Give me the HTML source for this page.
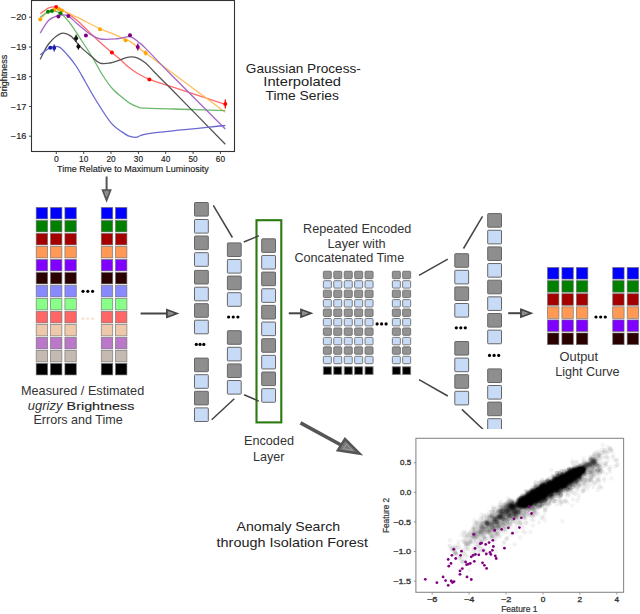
<!DOCTYPE html>
<html><head><meta charset="utf-8"><style>
html,body{margin:0;padding:0;background:#fff;width:640px;height:614px;overflow:hidden}
svg{display:block;font-family:"Liberation Sans", sans-serif}
.sc circle{r:2.3px}
</style></head><body>
<svg width="640" height="614" viewBox="0 0 640 614">
<rect width="640" height="614" fill="#fff"/>
<g id="plot1">
<rect x="31.5" y="0.5" width="203" height="151" fill="none" stroke="#333" stroke-width="1.1"/>
<line x1="29" y1="17.2" x2="31.5" y2="17.2" stroke="#333" stroke-width="0.9"/>
<text x="10.8" y="20.3" font-size="8.50" fill="#222" text-anchor="start" textLength="15.6" lengthAdjust="spacingAndGlyphs" stroke="#222" stroke-width="0.15">−20</text>
<line x1="29" y1="47.0" x2="31.5" y2="47.0" stroke="#333" stroke-width="0.9"/>
<text x="10.8" y="50.1" font-size="8.50" fill="#222" text-anchor="start" textLength="15.6" lengthAdjust="spacingAndGlyphs" stroke="#222" stroke-width="0.15">−19</text>
<line x1="29" y1="76.7" x2="31.5" y2="76.7" stroke="#333" stroke-width="0.9"/>
<text x="10.8" y="79.8" font-size="8.50" fill="#222" text-anchor="start" textLength="15.6" lengthAdjust="spacingAndGlyphs" stroke="#222" stroke-width="0.15">−18</text>
<line x1="29" y1="106.5" x2="31.5" y2="106.5" stroke="#333" stroke-width="0.9"/>
<text x="10.8" y="109.5" font-size="8.50" fill="#222" text-anchor="start" textLength="15.6" lengthAdjust="spacingAndGlyphs" stroke="#222" stroke-width="0.15">−17</text>
<line x1="29" y1="136.2" x2="31.5" y2="136.2" stroke="#333" stroke-width="0.9"/>
<text x="10.8" y="139.3" font-size="8.50" fill="#222" text-anchor="start" textLength="15.6" lengthAdjust="spacingAndGlyphs" stroke="#222" stroke-width="0.15">−16</text>
<line x1="56.3" y1="151.5" x2="56.3" y2="154" stroke="#333" stroke-width="0.9"/>
<text x="53.9" y="162.1" font-size="8.30" fill="#222" text-anchor="start" textLength="4.8" lengthAdjust="spacingAndGlyphs" stroke="#222" stroke-width="0.15">0</text>
<line x1="83.7" y1="151.5" x2="83.7" y2="154" stroke="#333" stroke-width="0.9"/>
<text x="79.1" y="162.1" font-size="8.30" fill="#222" text-anchor="start" textLength="9.2" lengthAdjust="spacingAndGlyphs" stroke="#222" stroke-width="0.15">10</text>
<line x1="111.0" y1="151.5" x2="111.0" y2="154" stroke="#333" stroke-width="0.9"/>
<text x="106.4" y="162.1" font-size="8.30" fill="#222" text-anchor="start" textLength="9.2" lengthAdjust="spacingAndGlyphs" stroke="#222" stroke-width="0.15">20</text>
<line x1="138.4" y1="151.5" x2="138.4" y2="154" stroke="#333" stroke-width="0.9"/>
<text x="133.8" y="162.1" font-size="8.30" fill="#222" text-anchor="start" textLength="9.2" lengthAdjust="spacingAndGlyphs" stroke="#222" stroke-width="0.15">30</text>
<line x1="165.7" y1="151.5" x2="165.7" y2="154" stroke="#333" stroke-width="0.9"/>
<text x="161.1" y="162.1" font-size="8.30" fill="#222" text-anchor="start" textLength="9.2" lengthAdjust="spacingAndGlyphs" stroke="#222" stroke-width="0.15">40</text>
<line x1="193.1" y1="151.5" x2="193.1" y2="154" stroke="#333" stroke-width="0.9"/>
<text x="188.5" y="162.1" font-size="8.30" fill="#222" text-anchor="start" textLength="9.2" lengthAdjust="spacingAndGlyphs" stroke="#222" stroke-width="0.15">50</text>
<line x1="220.4" y1="151.5" x2="220.4" y2="154" stroke="#333" stroke-width="0.9"/>
<text x="215.8" y="162.1" font-size="8.30" fill="#222" text-anchor="start" textLength="9.2" lengthAdjust="spacingAndGlyphs" stroke="#222" stroke-width="0.15">60</text>
<text x="57.0" y="172.2" font-size="8.30" fill="#222" text-anchor="start" textLength="151.8" lengthAdjust="spacingAndGlyphs" stroke="#222" stroke-width="0.15">Time Relative to Maximum Luminosity</text>
<text transform="translate(7.2 76) rotate(-90)" font-size="8.4" fill="#222" stroke="#222" stroke-width="0.15" text-anchor="middle" textLength="42.3" lengthAdjust="spacingAndGlyphs">Brightness</text>
<clipPath id="c1"><rect x="32" y="1" width="202" height="150"/></clipPath>
<g clip-path="url(#c1)" fill="none" stroke-width="1.3" stroke-linejoin="round">
<path d="M40.20 13.75 C41.62 12.76 46.15 8.93 48.75 7.80 C51.35 6.67 53.46 6.60 55.80 7.00 C58.14 7.40 59.28 7.98 62.80 10.20 C66.32 12.42 71.12 15.33 76.90 20.30 C82.68 25.27 91.67 34.62 97.50 40.00 C103.33 45.38 108.25 49.48 111.90 52.60 C115.55 55.73 116.59 56.32 119.40 58.75 C122.21 61.18 125.63 64.70 128.75 67.20 C131.87 69.70 134.66 71.72 138.10 73.75 C141.54 75.78 144.08 77.34 149.40 79.40 C154.72 81.46 157.35 81.93 170.00 86.10 C182.65 90.27 216.08 101.35 225.30 104.40" stroke="#ff6a6a"/>
<path d="M40.20 19.50 C41.37 18.28 44.73 13.88 47.20 12.20 C49.67 10.52 52.40 9.67 55.00 9.40 C57.60 9.13 59.15 9.30 62.80 10.60 C66.45 11.90 70.65 14.15 76.90 17.20 C83.15 20.25 94.05 26.03 100.30 28.90 C106.55 31.77 110.10 32.55 114.40 34.40 C118.70 36.25 123.50 38.83 126.10 40.00 C128.70 41.17 126.75 39.22 130.00 41.40 C133.25 43.58 139.22 48.33 145.60 53.10 C151.98 57.87 155.02 60.15 168.30 70.00 C181.58 79.85 215.80 105.17 225.30 112.20" stroke="#ffbf5a"/>
<path d="M40.20 17.20 C41.50 16.28 45.92 12.80 48.00 11.70 C50.08 10.60 50.62 10.33 52.70 10.60 C54.78 10.87 57.78 11.42 60.50 13.30 C63.22 15.18 65.54 17.45 69.00 21.90 C72.46 26.35 77.33 34.07 81.25 40.00 C85.17 45.93 88.96 51.67 92.50 57.50 C96.04 63.33 99.17 69.79 102.50 75.00 C105.83 80.21 108.96 84.79 112.50 88.75 C116.04 92.71 120.83 96.31 123.75 98.75 C126.67 101.19 127.66 102.04 130.00 103.40 C132.34 104.76 135.20 106.10 137.80 106.90 C140.40 107.70 136.48 107.77 145.60 108.20 C154.72 108.63 179.22 109.10 192.50 109.50 C205.78 109.90 219.83 110.42 225.30 110.60" stroke="#6cb86c"/>
<path d="M40.20 33.10 C41.62 30.97 45.77 23.22 48.75 20.30 C51.73 17.38 54.98 16.38 58.10 15.60 C61.23 14.82 64.37 14.30 67.50 15.60 C70.63 16.90 73.25 20.40 76.90 23.40 C80.55 26.40 85.50 31.00 89.40 33.60 C93.30 36.20 95.62 38.14 100.30 39.00 C104.98 39.86 112.55 39.13 117.50 38.75 C122.45 38.37 126.48 36.12 130.00 36.70 C133.52 37.28 136.00 40.25 138.60 42.20 C141.20 44.15 140.13 42.93 145.60 48.40 C151.07 53.87 158.12 61.57 171.40 75.00 C184.68 88.43 216.32 120.00 225.30 129.00" stroke="#a566c4"/>
<path d="M40.20 59.40 C41.62 56.79 45.24 48.08 48.75 43.75 C52.26 39.42 57.61 34.71 61.25 33.40 C64.89 32.09 67.38 33.65 70.60 35.90 C73.82 38.15 77.16 43.51 80.60 46.90 C84.04 50.29 88.02 53.55 91.25 56.25 C94.48 58.95 96.88 61.98 100.00 63.10 C103.12 64.22 106.77 63.49 110.00 63.00 C113.23 62.51 116.28 61.14 119.40 60.15 C122.53 59.16 125.78 57.44 128.75 57.05 C131.72 56.66 134.39 56.81 137.20 57.80 C140.01 58.79 142.63 60.50 145.60 63.00 C148.57 65.50 150.93 68.67 155.00 72.80 C159.07 76.93 158.28 75.90 170.00 87.80 C181.72 99.70 216.08 134.80 225.30 144.20" stroke="#555555"/>
<path d="M40.20 54.70 C41.88 53.53 47.18 49.00 50.30 47.70 C53.42 46.40 56.03 45.68 58.90 46.90 C61.77 48.12 64.61 51.77 67.50 55.00 C70.39 58.23 73.33 61.88 76.25 66.25 C79.17 70.62 81.88 75.83 85.00 81.25 C88.12 86.67 90.62 91.78 95.00 98.75 C99.38 105.72 106.20 117.21 111.25 123.10 C116.30 128.99 122.17 131.88 125.30 134.10 C128.43 136.32 128.05 135.88 130.00 136.40 C131.95 136.92 133.62 137.72 137.00 137.20 C140.38 136.68 135.58 135.25 150.30 133.30 C165.02 131.35 212.80 126.80 225.30 125.50" stroke="#6a6ad0"/>
</g>
<circle cx="56.2" cy="7.0" r="2.0" fill="#ff0000"/>
<circle cx="111.9" cy="52.5" r="2.0" fill="#ff0000"/>
<circle cx="149.4" cy="79.4" r="2.0" fill="#ff0000"/>
<line x1="225.3" y1="99.5" x2="225.3" y2="108.5" stroke="#ff0000" stroke-width="1.3"/>
<circle cx="225.3" cy="104.0" r="2.0" fill="#ff0000"/>
<circle cx="40.2" cy="19.5" r="2.0" fill="#ffa500"/>
<circle cx="54.2" cy="9.7" r="2.0" fill="#ffa500"/>
<circle cx="58.9" cy="9.1" r="2.0" fill="#ffa500"/>
<circle cx="62.0" cy="10.6" r="2.0" fill="#ffa500"/>
<circle cx="100.0" cy="29.2" r="2.0" fill="#ffa500"/>
<circle cx="125.6" cy="40.3" r="2.0" fill="#ffa500"/>
<line x1="145.6" y1="50.6" x2="145.6" y2="55.6" stroke="#ffa500" stroke-width="1.3"/>
<circle cx="145.6" cy="53.1" r="2.0" fill="#ffa500"/>
<circle cx="48.0" cy="11.7" r="2.0" fill="#008000"/>
<circle cx="51.9" cy="10.9" r="2.0" fill="#008000"/>
<circle cx="60.5" cy="13.3" r="2.0" fill="#008000"/>
<circle cx="58.4" cy="16.4" r="2.0" fill="#800080"/>
<circle cx="68.3" cy="15.9" r="2.0" fill="#800080"/>
<circle cx="85.9" cy="35.6" r="2.0" fill="#800080"/>
<line x1="130.0" y1="33.7" x2="130.0" y2="36.7" stroke="#800080" stroke-width="1.3"/>
<circle cx="130.0" cy="35.2" r="2.0" fill="#800080"/>
<line x1="137.8" y1="43.4" x2="137.8" y2="50.4" stroke="#800080" stroke-width="1.3"/>
<circle cx="137.8" cy="46.9" r="2.0" fill="#800080"/>
<line x1="76.1" y1="34.8" x2="76.1" y2="41.8" stroke="#111111" stroke-width="1.3"/>
<circle cx="76.1" cy="38.3" r="2.0" fill="#111111"/>
<line x1="78.4" y1="43.6" x2="78.4" y2="49.6" stroke="#111111" stroke-width="1.3"/>
<circle cx="78.4" cy="46.6" r="2.0" fill="#111111"/>
<circle cx="50.3" cy="47.7" r="2.0" fill="#1a1ab0"/>
<line x1="54.2" y1="44.6" x2="54.2" y2="51.6" stroke="#1a1ab0" stroke-width="1.3"/>
<circle cx="54.2" cy="48.1" r="2.0" fill="#1a1ab0"/>
</g>
<line x1="106.6" y1="176.5" x2="106.6" y2="190" stroke="#555" stroke-width="2"/>
<path d="M102.60 190.00 L110.60 190.00 L106.60 200.30 Z" fill="#7a7a7a" stroke="#555" stroke-width="1.70" stroke-linejoin="miter"/>
<path d="M104.92 191.99 L108.28 191.99 L106.60 196.32 Z" fill="none" stroke="#b0b0b0" stroke-width="0.6"/>
<line x1="140.6" y1="313.5" x2="167.9" y2="313.5" stroke="#444" stroke-width="2.0"/>
<path d="M166.90 309.70 L177.00 313.50 L166.90 317.30 Z" fill="#7a7a7a" stroke="#444" stroke-width="1.70" stroke-linejoin="miter"/>
<path d="M168.85 311.90 L173.09 313.50 L168.85 315.10 Z" fill="none" stroke="#b0b0b0" stroke-width="0.6"/>
<line x1="288.8" y1="313.3" x2="302.0" y2="313.3" stroke="#444" stroke-width="2.0"/>
<path d="M301.00 309.50 L311.10 313.30 L301.00 317.10 Z" fill="#7a7a7a" stroke="#444" stroke-width="1.70" stroke-linejoin="miter"/>
<path d="M302.95 311.70 L307.19 313.30 L302.95 314.90 Z" fill="none" stroke="#b0b0b0" stroke-width="0.6"/>
<line x1="508.2" y1="313.2" x2="521.9" y2="313.2" stroke="#444" stroke-width="2.0"/>
<path d="M520.90 309.40 L531.10 313.20 L520.90 317.00 Z" fill="#7a7a7a" stroke="#444" stroke-width="1.70" stroke-linejoin="miter"/>
<path d="M522.87 311.60 L527.16 313.20 L522.87 314.80 Z" fill="none" stroke="#b0b0b0" stroke-width="0.6"/>
<line x1="300.5" y1="422.8" x2="341" y2="445" stroke="#555" stroke-width="3.6"/>
<path d="M345.00 439.00 L337.80 450.40 L359.80 453.80 Z" fill="#7a7a7a" stroke="#555" stroke-width="2.40" stroke-linejoin="miter"/>
<path d="M346.47 444.07 L343.45 448.85 L352.69 450.28 Z" fill="none" stroke="#b0b0b0" stroke-width="0.6"/>
<rect x="36.20" y="207.50" width="11.40" height="11.40" fill="#0000ff" stroke="#6a6a6a" stroke-opacity="0.75" stroke-width="0.8"/>
<rect x="36.20" y="220.50" width="11.40" height="11.40" fill="#007f00" stroke="#6a6a6a" stroke-opacity="0.75" stroke-width="0.8"/>
<rect x="36.20" y="233.50" width="11.40" height="11.40" fill="#a40000" stroke="#6a6a6a" stroke-opacity="0.75" stroke-width="0.8"/>
<rect x="36.20" y="246.50" width="11.40" height="11.40" fill="#ff9955" stroke="#6a6a6a" stroke-opacity="0.75" stroke-width="0.8"/>
<rect x="36.20" y="259.50" width="11.40" height="11.40" fill="#8000ff" stroke="#6a6a6a" stroke-opacity="0.75" stroke-width="0.8"/>
<rect x="36.20" y="272.50" width="11.40" height="11.40" fill="#2b0000" stroke="#6a6a6a" stroke-opacity="0.75" stroke-width="0.8"/>
<rect x="36.20" y="285.50" width="11.40" height="11.40" fill="#8888ff" stroke="#6a6a6a" stroke-opacity="0.75" stroke-width="0.8"/>
<rect x="36.20" y="298.50" width="11.40" height="11.40" fill="#88ff88" stroke="#6a6a6a" stroke-opacity="0.75" stroke-width="0.8"/>
<rect x="36.20" y="311.50" width="11.40" height="11.40" fill="#ff6666" stroke="#6a6a6a" stroke-opacity="0.75" stroke-width="0.8"/>
<rect x="36.20" y="324.50" width="11.40" height="11.40" fill="#eec8aa" stroke="#6a6a6a" stroke-opacity="0.75" stroke-width="0.8"/>
<rect x="36.20" y="337.50" width="11.40" height="11.40" fill="#bb77c8" stroke="#6a6a6a" stroke-opacity="0.75" stroke-width="0.8"/>
<rect x="36.20" y="350.50" width="11.40" height="11.40" fill="#c4bab2" stroke="#6a6a6a" stroke-opacity="0.75" stroke-width="0.8"/>
<rect x="36.20" y="363.50" width="11.40" height="11.40" fill="#000000" stroke="#6a6a6a" stroke-opacity="0.75" stroke-width="0.8"/>
<rect x="50.50" y="207.50" width="11.40" height="11.40" fill="#0000ff" stroke="#6a6a6a" stroke-opacity="0.75" stroke-width="0.8"/>
<rect x="50.50" y="220.50" width="11.40" height="11.40" fill="#007f00" stroke="#6a6a6a" stroke-opacity="0.75" stroke-width="0.8"/>
<rect x="50.50" y="233.50" width="11.40" height="11.40" fill="#a40000" stroke="#6a6a6a" stroke-opacity="0.75" stroke-width="0.8"/>
<rect x="50.50" y="246.50" width="11.40" height="11.40" fill="#ff9955" stroke="#6a6a6a" stroke-opacity="0.75" stroke-width="0.8"/>
<rect x="50.50" y="259.50" width="11.40" height="11.40" fill="#8000ff" stroke="#6a6a6a" stroke-opacity="0.75" stroke-width="0.8"/>
<rect x="50.50" y="272.50" width="11.40" height="11.40" fill="#2b0000" stroke="#6a6a6a" stroke-opacity="0.75" stroke-width="0.8"/>
<rect x="50.50" y="285.50" width="11.40" height="11.40" fill="#8888ff" stroke="#6a6a6a" stroke-opacity="0.75" stroke-width="0.8"/>
<rect x="50.50" y="298.50" width="11.40" height="11.40" fill="#88ff88" stroke="#6a6a6a" stroke-opacity="0.75" stroke-width="0.8"/>
<rect x="50.50" y="311.50" width="11.40" height="11.40" fill="#ff6666" stroke="#6a6a6a" stroke-opacity="0.75" stroke-width="0.8"/>
<rect x="50.50" y="324.50" width="11.40" height="11.40" fill="#eec8aa" stroke="#6a6a6a" stroke-opacity="0.75" stroke-width="0.8"/>
<rect x="50.50" y="337.50" width="11.40" height="11.40" fill="#bb77c8" stroke="#6a6a6a" stroke-opacity="0.75" stroke-width="0.8"/>
<rect x="50.50" y="350.50" width="11.40" height="11.40" fill="#c4bab2" stroke="#6a6a6a" stroke-opacity="0.75" stroke-width="0.8"/>
<rect x="50.50" y="363.50" width="11.40" height="11.40" fill="#000000" stroke="#6a6a6a" stroke-opacity="0.75" stroke-width="0.8"/>
<rect x="64.90" y="207.50" width="11.40" height="11.40" fill="#0000ff" stroke="#6a6a6a" stroke-opacity="0.75" stroke-width="0.8"/>
<rect x="64.90" y="220.50" width="11.40" height="11.40" fill="#007f00" stroke="#6a6a6a" stroke-opacity="0.75" stroke-width="0.8"/>
<rect x="64.90" y="233.50" width="11.40" height="11.40" fill="#a40000" stroke="#6a6a6a" stroke-opacity="0.75" stroke-width="0.8"/>
<rect x="64.90" y="246.50" width="11.40" height="11.40" fill="#ff9955" stroke="#6a6a6a" stroke-opacity="0.75" stroke-width="0.8"/>
<rect x="64.90" y="259.50" width="11.40" height="11.40" fill="#8000ff" stroke="#6a6a6a" stroke-opacity="0.75" stroke-width="0.8"/>
<rect x="64.90" y="272.50" width="11.40" height="11.40" fill="#2b0000" stroke="#6a6a6a" stroke-opacity="0.75" stroke-width="0.8"/>
<rect x="64.90" y="285.50" width="11.40" height="11.40" fill="#8888ff" stroke="#6a6a6a" stroke-opacity="0.75" stroke-width="0.8"/>
<rect x="64.90" y="298.50" width="11.40" height="11.40" fill="#88ff88" stroke="#6a6a6a" stroke-opacity="0.75" stroke-width="0.8"/>
<rect x="64.90" y="311.50" width="11.40" height="11.40" fill="#ff6666" stroke="#6a6a6a" stroke-opacity="0.75" stroke-width="0.8"/>
<rect x="64.90" y="324.50" width="11.40" height="11.40" fill="#eec8aa" stroke="#6a6a6a" stroke-opacity="0.75" stroke-width="0.8"/>
<rect x="64.90" y="337.50" width="11.40" height="11.40" fill="#bb77c8" stroke="#6a6a6a" stroke-opacity="0.75" stroke-width="0.8"/>
<rect x="64.90" y="350.50" width="11.40" height="11.40" fill="#c4bab2" stroke="#6a6a6a" stroke-opacity="0.75" stroke-width="0.8"/>
<rect x="64.90" y="363.50" width="11.40" height="11.40" fill="#000000" stroke="#6a6a6a" stroke-opacity="0.75" stroke-width="0.8"/>
<rect x="101.30" y="207.50" width="11.40" height="11.40" fill="#0000ff" stroke="#6a6a6a" stroke-opacity="0.75" stroke-width="0.8"/>
<rect x="101.30" y="220.50" width="11.40" height="11.40" fill="#007f00" stroke="#6a6a6a" stroke-opacity="0.75" stroke-width="0.8"/>
<rect x="101.30" y="233.50" width="11.40" height="11.40" fill="#a40000" stroke="#6a6a6a" stroke-opacity="0.75" stroke-width="0.8"/>
<rect x="101.30" y="246.50" width="11.40" height="11.40" fill="#ff9955" stroke="#6a6a6a" stroke-opacity="0.75" stroke-width="0.8"/>
<rect x="101.30" y="259.50" width="11.40" height="11.40" fill="#8000ff" stroke="#6a6a6a" stroke-opacity="0.75" stroke-width="0.8"/>
<rect x="101.30" y="272.50" width="11.40" height="11.40" fill="#2b0000" stroke="#6a6a6a" stroke-opacity="0.75" stroke-width="0.8"/>
<rect x="101.30" y="285.50" width="11.40" height="11.40" fill="#8888ff" stroke="#6a6a6a" stroke-opacity="0.75" stroke-width="0.8"/>
<rect x="101.30" y="298.50" width="11.40" height="11.40" fill="#88ff88" stroke="#6a6a6a" stroke-opacity="0.75" stroke-width="0.8"/>
<rect x="101.30" y="311.50" width="11.40" height="11.40" fill="#ff6666" stroke="#6a6a6a" stroke-opacity="0.75" stroke-width="0.8"/>
<rect x="101.30" y="324.50" width="11.40" height="11.40" fill="#eec8aa" stroke="#6a6a6a" stroke-opacity="0.75" stroke-width="0.8"/>
<rect x="101.30" y="337.50" width="11.40" height="11.40" fill="#bb77c8" stroke="#6a6a6a" stroke-opacity="0.75" stroke-width="0.8"/>
<rect x="101.30" y="350.50" width="11.40" height="11.40" fill="#c4bab2" stroke="#6a6a6a" stroke-opacity="0.75" stroke-width="0.8"/>
<rect x="101.30" y="363.50" width="11.40" height="11.40" fill="#000000" stroke="#6a6a6a" stroke-opacity="0.75" stroke-width="0.8"/>
<rect x="115.50" y="207.50" width="11.40" height="11.40" fill="#0000ff" stroke="#6a6a6a" stroke-opacity="0.75" stroke-width="0.8"/>
<rect x="115.50" y="220.50" width="11.40" height="11.40" fill="#007f00" stroke="#6a6a6a" stroke-opacity="0.75" stroke-width="0.8"/>
<rect x="115.50" y="233.50" width="11.40" height="11.40" fill="#a40000" stroke="#6a6a6a" stroke-opacity="0.75" stroke-width="0.8"/>
<rect x="115.50" y="246.50" width="11.40" height="11.40" fill="#ff9955" stroke="#6a6a6a" stroke-opacity="0.75" stroke-width="0.8"/>
<rect x="115.50" y="259.50" width="11.40" height="11.40" fill="#8000ff" stroke="#6a6a6a" stroke-opacity="0.75" stroke-width="0.8"/>
<rect x="115.50" y="272.50" width="11.40" height="11.40" fill="#2b0000" stroke="#6a6a6a" stroke-opacity="0.75" stroke-width="0.8"/>
<rect x="115.50" y="285.50" width="11.40" height="11.40" fill="#8888ff" stroke="#6a6a6a" stroke-opacity="0.75" stroke-width="0.8"/>
<rect x="115.50" y="298.50" width="11.40" height="11.40" fill="#88ff88" stroke="#6a6a6a" stroke-opacity="0.75" stroke-width="0.8"/>
<rect x="115.50" y="311.50" width="11.40" height="11.40" fill="#ff6666" stroke="#6a6a6a" stroke-opacity="0.75" stroke-width="0.8"/>
<rect x="115.50" y="324.50" width="11.40" height="11.40" fill="#eec8aa" stroke="#6a6a6a" stroke-opacity="0.75" stroke-width="0.8"/>
<rect x="115.50" y="337.50" width="11.40" height="11.40" fill="#bb77c8" stroke="#6a6a6a" stroke-opacity="0.75" stroke-width="0.8"/>
<rect x="115.50" y="350.50" width="11.40" height="11.40" fill="#c4bab2" stroke="#6a6a6a" stroke-opacity="0.75" stroke-width="0.8"/>
<rect x="115.50" y="363.50" width="11.40" height="11.40" fill="#000000" stroke="#6a6a6a" stroke-opacity="0.75" stroke-width="0.8"/>
<circle cx="83.00" cy="291.30" r="1.60" fill="#000"/>
<circle cx="87.80" cy="291.30" r="1.60" fill="#000"/>
<circle cx="92.60" cy="291.30" r="1.60" fill="#000"/>
<circle cx="83.00" cy="318.50" r="1.60" fill="#fce6d6"/>
<circle cx="87.80" cy="318.50" r="1.60" fill="#fce6d6"/>
<circle cx="92.60" cy="318.50" r="1.60" fill="#fce6d6"/>
<text x="21.0" y="395.0" font-size="12.60" fill="#333" text-anchor="start" textLength="123.2" lengthAdjust="spacingAndGlyphs">Measured / Estimated</text>
<text x="27.8" y="410.0" font-size="12.6" fill="#333" font-style="italic" textLength="34.6" lengthAdjust="spacingAndGlyphs">ugrizy</text>
<text x="66.6" y="410.0" font-size="11.80" fill="#222" text-anchor="start" textLength="67.8" lengthAdjust="spacingAndGlyphs" stroke="#222" stroke-width="0.12">Brightness</text>
<text x="33.4" y="424.4" font-size="12.60" fill="#333" text-anchor="start" textLength="89.4" lengthAdjust="spacingAndGlyphs">Errors and Time</text>
<rect x="194.50" y="202.50" width="13.80" height="13.60" rx="0.7" fill="#8e8e8e" stroke="#666" stroke-width="1"/>
<rect x="194.50" y="219.50" width="13.80" height="13.60" rx="0.7" fill="#c8dbf6" stroke="#666" stroke-width="1"/>
<rect x="194.50" y="236.00" width="13.80" height="13.60" rx="0.7" fill="#8e8e8e" stroke="#666" stroke-width="1"/>
<rect x="194.50" y="252.70" width="13.80" height="13.60" rx="0.7" fill="#c8dbf6" stroke="#666" stroke-width="1"/>
<rect x="194.50" y="270.40" width="13.80" height="13.60" rx="0.7" fill="#8e8e8e" stroke="#666" stroke-width="1"/>
<rect x="194.50" y="287.20" width="13.80" height="13.60" rx="0.7" fill="#c8dbf6" stroke="#666" stroke-width="1"/>
<rect x="194.50" y="303.70" width="13.80" height="13.60" rx="0.7" fill="#8e8e8e" stroke="#666" stroke-width="1"/>
<rect x="194.50" y="320.20" width="13.80" height="13.60" rx="0.7" fill="#c8dbf6" stroke="#666" stroke-width="1"/>
<circle cx="196.30" cy="344.40" r="1.60" fill="#000"/>
<circle cx="200.05" cy="344.40" r="1.60" fill="#000"/>
<circle cx="203.80" cy="344.40" r="1.60" fill="#000"/>
<rect x="194.50" y="358.10" width="13.80" height="13.60" rx="0.7" fill="#8e8e8e" stroke="#666" stroke-width="1"/>
<rect x="194.50" y="374.70" width="13.80" height="13.60" rx="0.7" fill="#c8dbf6" stroke="#666" stroke-width="1"/>
<rect x="194.50" y="391.30" width="13.80" height="13.60" rx="0.7" fill="#8e8e8e" stroke="#666" stroke-width="1"/>
<rect x="194.50" y="407.90" width="13.80" height="13.60" rx="0.7" fill="#c8dbf6" stroke="#666" stroke-width="1"/>
<rect x="227.40" y="242.90" width="13.80" height="13.60" rx="0.7" fill="#8e8e8e" stroke="#666" stroke-width="1"/>
<rect x="227.40" y="259.50" width="13.80" height="13.60" rx="0.7" fill="#c8dbf6" stroke="#666" stroke-width="1"/>
<rect x="227.40" y="276.10" width="13.80" height="13.60" rx="0.7" fill="#8e8e8e" stroke="#666" stroke-width="1"/>
<rect x="227.40" y="292.70" width="13.80" height="13.60" rx="0.7" fill="#c8dbf6" stroke="#666" stroke-width="1"/>
<circle cx="228.60" cy="317.00" r="1.60" fill="#000"/>
<circle cx="233.25" cy="317.00" r="1.60" fill="#000"/>
<circle cx="237.90" cy="317.00" r="1.60" fill="#000"/>
<rect x="227.40" y="330.70" width="13.80" height="13.60" rx="0.7" fill="#8e8e8e" stroke="#666" stroke-width="1"/>
<rect x="227.40" y="347.30" width="13.80" height="13.60" rx="0.7" fill="#c8dbf6" stroke="#666" stroke-width="1"/>
<rect x="227.40" y="363.90" width="13.80" height="13.60" rx="0.7" fill="#8e8e8e" stroke="#666" stroke-width="1"/>
<rect x="227.40" y="380.50" width="13.80" height="13.60" rx="0.7" fill="#c8dbf6" stroke="#666" stroke-width="1"/>
<rect x="261.70" y="238.80" width="13.80" height="13.60" rx="0.7" fill="#8e8e8e" stroke="#666" stroke-width="1"/>
<rect x="261.70" y="255.45" width="13.80" height="13.60" rx="0.7" fill="#c8dbf6" stroke="#666" stroke-width="1"/>
<rect x="261.70" y="272.10" width="13.80" height="13.60" rx="0.7" fill="#8e8e8e" stroke="#666" stroke-width="1"/>
<rect x="261.70" y="288.75" width="13.80" height="13.60" rx="0.7" fill="#c8dbf6" stroke="#666" stroke-width="1"/>
<rect x="261.70" y="305.40" width="13.80" height="13.60" rx="0.7" fill="#8e8e8e" stroke="#666" stroke-width="1"/>
<rect x="261.70" y="322.05" width="13.80" height="13.60" rx="0.7" fill="#c8dbf6" stroke="#666" stroke-width="1"/>
<rect x="261.70" y="338.70" width="13.80" height="13.60" rx="0.7" fill="#8e8e8e" stroke="#666" stroke-width="1"/>
<rect x="261.70" y="355.35" width="13.80" height="13.60" rx="0.7" fill="#c8dbf6" stroke="#666" stroke-width="1"/>
<rect x="261.70" y="372.00" width="13.80" height="13.60" rx="0.7" fill="#8e8e8e" stroke="#666" stroke-width="1"/>
<rect x="261.70" y="388.65" width="13.80" height="13.60" rx="0.7" fill="#c8dbf6" stroke="#666" stroke-width="1"/>
<rect x="256.5" y="220.2" width="24.8" height="202.2" fill="none" stroke="#2a7a12" stroke-width="2.1"/>
<line x1="213.3" y1="205.3" x2="232.4" y2="237.5" stroke="#444" stroke-width="1.5"/>
<line x1="243.8" y1="242.0" x2="258.8" y2="235.8" stroke="#444" stroke-width="1.5"/>
<line x1="211.7" y1="419.7" x2="234.3" y2="398.8" stroke="#444" stroke-width="1.5"/>
<line x1="244.1" y1="394.8" x2="258.8" y2="401.1" stroke="#444" stroke-width="1.5"/>
<text x="269.0" y="444.6" font-size="12.60" fill="#333" text-anchor="middle" textLength="50.0" lengthAdjust="spacingAndGlyphs">Encoded</text>
<text x="268.7" y="460.6" font-size="12.60" fill="#333" text-anchor="middle" textLength="31.5" lengthAdjust="spacingAndGlyphs">Layer</text>
<rect x="323.35" y="271.25" width="8.0" height="7.4" rx="1" fill="#939393" stroke="#6e6e6e" stroke-width="0.9"/>
<rect x="323.35" y="280.70" width="8.0" height="7.4" rx="1" fill="#c8dbf6" stroke="#6e6e6e" stroke-width="0.9"/>
<rect x="323.35" y="290.15" width="8.0" height="7.4" rx="1" fill="#939393" stroke="#6e6e6e" stroke-width="0.9"/>
<rect x="323.35" y="299.60" width="8.0" height="7.4" rx="1" fill="#c8dbf6" stroke="#6e6e6e" stroke-width="0.9"/>
<rect x="323.35" y="309.05" width="8.0" height="7.4" rx="1" fill="#939393" stroke="#6e6e6e" stroke-width="0.9"/>
<rect x="323.35" y="318.50" width="8.0" height="7.4" rx="1" fill="#c8dbf6" stroke="#6e6e6e" stroke-width="0.9"/>
<rect x="323.35" y="327.95" width="8.0" height="7.4" rx="1" fill="#939393" stroke="#6e6e6e" stroke-width="0.9"/>
<rect x="323.35" y="337.40" width="8.0" height="7.4" rx="1" fill="#c8dbf6" stroke="#6e6e6e" stroke-width="0.9"/>
<rect x="323.35" y="346.85" width="8.0" height="7.4" rx="1" fill="#939393" stroke="#6e6e6e" stroke-width="0.9"/>
<rect x="323.35" y="356.30" width="8.0" height="7.4" rx="1" fill="#c8dbf6" stroke="#6e6e6e" stroke-width="0.9"/>
<rect x="323.35" y="366.80" width="8.0" height="7.6" fill="#000" stroke="#777" stroke-width="0.9"/>
<rect x="333.75" y="271.25" width="8.0" height="7.4" rx="1" fill="#939393" stroke="#6e6e6e" stroke-width="0.9"/>
<rect x="333.75" y="280.70" width="8.0" height="7.4" rx="1" fill="#c8dbf6" stroke="#6e6e6e" stroke-width="0.9"/>
<rect x="333.75" y="290.15" width="8.0" height="7.4" rx="1" fill="#939393" stroke="#6e6e6e" stroke-width="0.9"/>
<rect x="333.75" y="299.60" width="8.0" height="7.4" rx="1" fill="#c8dbf6" stroke="#6e6e6e" stroke-width="0.9"/>
<rect x="333.75" y="309.05" width="8.0" height="7.4" rx="1" fill="#939393" stroke="#6e6e6e" stroke-width="0.9"/>
<rect x="333.75" y="318.50" width="8.0" height="7.4" rx="1" fill="#c8dbf6" stroke="#6e6e6e" stroke-width="0.9"/>
<rect x="333.75" y="327.95" width="8.0" height="7.4" rx="1" fill="#939393" stroke="#6e6e6e" stroke-width="0.9"/>
<rect x="333.75" y="337.40" width="8.0" height="7.4" rx="1" fill="#c8dbf6" stroke="#6e6e6e" stroke-width="0.9"/>
<rect x="333.75" y="346.85" width="8.0" height="7.4" rx="1" fill="#939393" stroke="#6e6e6e" stroke-width="0.9"/>
<rect x="333.75" y="356.30" width="8.0" height="7.4" rx="1" fill="#c8dbf6" stroke="#6e6e6e" stroke-width="0.9"/>
<rect x="333.75" y="366.80" width="8.0" height="7.6" fill="#000" stroke="#777" stroke-width="0.9"/>
<rect x="344.25" y="271.25" width="8.0" height="7.4" rx="1" fill="#939393" stroke="#6e6e6e" stroke-width="0.9"/>
<rect x="344.25" y="280.70" width="8.0" height="7.4" rx="1" fill="#c8dbf6" stroke="#6e6e6e" stroke-width="0.9"/>
<rect x="344.25" y="290.15" width="8.0" height="7.4" rx="1" fill="#939393" stroke="#6e6e6e" stroke-width="0.9"/>
<rect x="344.25" y="299.60" width="8.0" height="7.4" rx="1" fill="#c8dbf6" stroke="#6e6e6e" stroke-width="0.9"/>
<rect x="344.25" y="309.05" width="8.0" height="7.4" rx="1" fill="#939393" stroke="#6e6e6e" stroke-width="0.9"/>
<rect x="344.25" y="318.50" width="8.0" height="7.4" rx="1" fill="#c8dbf6" stroke="#6e6e6e" stroke-width="0.9"/>
<rect x="344.25" y="327.95" width="8.0" height="7.4" rx="1" fill="#939393" stroke="#6e6e6e" stroke-width="0.9"/>
<rect x="344.25" y="337.40" width="8.0" height="7.4" rx="1" fill="#c8dbf6" stroke="#6e6e6e" stroke-width="0.9"/>
<rect x="344.25" y="346.85" width="8.0" height="7.4" rx="1" fill="#939393" stroke="#6e6e6e" stroke-width="0.9"/>
<rect x="344.25" y="356.30" width="8.0" height="7.4" rx="1" fill="#c8dbf6" stroke="#6e6e6e" stroke-width="0.9"/>
<rect x="344.25" y="366.80" width="8.0" height="7.6" fill="#000" stroke="#777" stroke-width="0.9"/>
<rect x="354.65" y="271.25" width="8.0" height="7.4" rx="1" fill="#939393" stroke="#6e6e6e" stroke-width="0.9"/>
<rect x="354.65" y="280.70" width="8.0" height="7.4" rx="1" fill="#c8dbf6" stroke="#6e6e6e" stroke-width="0.9"/>
<rect x="354.65" y="290.15" width="8.0" height="7.4" rx="1" fill="#939393" stroke="#6e6e6e" stroke-width="0.9"/>
<rect x="354.65" y="299.60" width="8.0" height="7.4" rx="1" fill="#c8dbf6" stroke="#6e6e6e" stroke-width="0.9"/>
<rect x="354.65" y="309.05" width="8.0" height="7.4" rx="1" fill="#939393" stroke="#6e6e6e" stroke-width="0.9"/>
<rect x="354.65" y="318.50" width="8.0" height="7.4" rx="1" fill="#c8dbf6" stroke="#6e6e6e" stroke-width="0.9"/>
<rect x="354.65" y="327.95" width="8.0" height="7.4" rx="1" fill="#939393" stroke="#6e6e6e" stroke-width="0.9"/>
<rect x="354.65" y="337.40" width="8.0" height="7.4" rx="1" fill="#c8dbf6" stroke="#6e6e6e" stroke-width="0.9"/>
<rect x="354.65" y="346.85" width="8.0" height="7.4" rx="1" fill="#939393" stroke="#6e6e6e" stroke-width="0.9"/>
<rect x="354.65" y="356.30" width="8.0" height="7.4" rx="1" fill="#c8dbf6" stroke="#6e6e6e" stroke-width="0.9"/>
<rect x="354.65" y="366.80" width="8.0" height="7.6" fill="#000" stroke="#777" stroke-width="0.9"/>
<rect x="365.05" y="271.25" width="8.0" height="7.4" rx="1" fill="#939393" stroke="#6e6e6e" stroke-width="0.9"/>
<rect x="365.05" y="280.70" width="8.0" height="7.4" rx="1" fill="#c8dbf6" stroke="#6e6e6e" stroke-width="0.9"/>
<rect x="365.05" y="290.15" width="8.0" height="7.4" rx="1" fill="#939393" stroke="#6e6e6e" stroke-width="0.9"/>
<rect x="365.05" y="299.60" width="8.0" height="7.4" rx="1" fill="#c8dbf6" stroke="#6e6e6e" stroke-width="0.9"/>
<rect x="365.05" y="309.05" width="8.0" height="7.4" rx="1" fill="#939393" stroke="#6e6e6e" stroke-width="0.9"/>
<rect x="365.05" y="318.50" width="8.0" height="7.4" rx="1" fill="#c8dbf6" stroke="#6e6e6e" stroke-width="0.9"/>
<rect x="365.05" y="327.95" width="8.0" height="7.4" rx="1" fill="#939393" stroke="#6e6e6e" stroke-width="0.9"/>
<rect x="365.05" y="337.40" width="8.0" height="7.4" rx="1" fill="#c8dbf6" stroke="#6e6e6e" stroke-width="0.9"/>
<rect x="365.05" y="346.85" width="8.0" height="7.4" rx="1" fill="#939393" stroke="#6e6e6e" stroke-width="0.9"/>
<rect x="365.05" y="356.30" width="8.0" height="7.4" rx="1" fill="#c8dbf6" stroke="#6e6e6e" stroke-width="0.9"/>
<rect x="365.05" y="366.80" width="8.0" height="7.6" fill="#000" stroke="#777" stroke-width="0.9"/>
<rect x="392.35" y="271.25" width="8.0" height="7.4" rx="1" fill="#939393" stroke="#6e6e6e" stroke-width="0.9"/>
<rect x="392.35" y="280.70" width="8.0" height="7.4" rx="1" fill="#c8dbf6" stroke="#6e6e6e" stroke-width="0.9"/>
<rect x="392.35" y="290.15" width="8.0" height="7.4" rx="1" fill="#939393" stroke="#6e6e6e" stroke-width="0.9"/>
<rect x="392.35" y="299.60" width="8.0" height="7.4" rx="1" fill="#c8dbf6" stroke="#6e6e6e" stroke-width="0.9"/>
<rect x="392.35" y="309.05" width="8.0" height="7.4" rx="1" fill="#939393" stroke="#6e6e6e" stroke-width="0.9"/>
<rect x="392.35" y="318.50" width="8.0" height="7.4" rx="1" fill="#c8dbf6" stroke="#6e6e6e" stroke-width="0.9"/>
<rect x="392.35" y="327.95" width="8.0" height="7.4" rx="1" fill="#939393" stroke="#6e6e6e" stroke-width="0.9"/>
<rect x="392.35" y="337.40" width="8.0" height="7.4" rx="1" fill="#c8dbf6" stroke="#6e6e6e" stroke-width="0.9"/>
<rect x="392.35" y="346.85" width="8.0" height="7.4" rx="1" fill="#939393" stroke="#6e6e6e" stroke-width="0.9"/>
<rect x="392.35" y="356.30" width="8.0" height="7.4" rx="1" fill="#c8dbf6" stroke="#6e6e6e" stroke-width="0.9"/>
<rect x="392.35" y="366.80" width="8.0" height="7.6" fill="#000" stroke="#777" stroke-width="0.9"/>
<rect x="402.65" y="271.25" width="8.0" height="7.4" rx="1" fill="#939393" stroke="#6e6e6e" stroke-width="0.9"/>
<rect x="402.65" y="280.70" width="8.0" height="7.4" rx="1" fill="#c8dbf6" stroke="#6e6e6e" stroke-width="0.9"/>
<rect x="402.65" y="290.15" width="8.0" height="7.4" rx="1" fill="#939393" stroke="#6e6e6e" stroke-width="0.9"/>
<rect x="402.65" y="299.60" width="8.0" height="7.4" rx="1" fill="#c8dbf6" stroke="#6e6e6e" stroke-width="0.9"/>
<rect x="402.65" y="309.05" width="8.0" height="7.4" rx="1" fill="#939393" stroke="#6e6e6e" stroke-width="0.9"/>
<rect x="402.65" y="318.50" width="8.0" height="7.4" rx="1" fill="#c8dbf6" stroke="#6e6e6e" stroke-width="0.9"/>
<rect x="402.65" y="327.95" width="8.0" height="7.4" rx="1" fill="#939393" stroke="#6e6e6e" stroke-width="0.9"/>
<rect x="402.65" y="337.40" width="8.0" height="7.4" rx="1" fill="#c8dbf6" stroke="#6e6e6e" stroke-width="0.9"/>
<rect x="402.65" y="346.85" width="8.0" height="7.4" rx="1" fill="#939393" stroke="#6e6e6e" stroke-width="0.9"/>
<rect x="402.65" y="356.30" width="8.0" height="7.4" rx="1" fill="#c8dbf6" stroke="#6e6e6e" stroke-width="0.9"/>
<rect x="402.65" y="366.80" width="8.0" height="7.6" fill="#000" stroke="#777" stroke-width="0.9"/>
<circle cx="377.10" cy="323.90" r="1.60" fill="#000"/>
<circle cx="381.60" cy="323.90" r="1.60" fill="#000"/>
<circle cx="386.10" cy="323.90" r="1.60" fill="#000"/>
<text x="357.2" y="232.9" font-size="12.40" fill="#333" text-anchor="middle" textLength="108.2" lengthAdjust="spacingAndGlyphs">Repeated Encoded</text>
<text x="356.5" y="247.9" font-size="12.40" fill="#333" text-anchor="middle" textLength="58.0" lengthAdjust="spacingAndGlyphs">Layer with</text>
<text x="349.3" y="262.1" font-size="12.40" fill="#333" text-anchor="middle" textLength="109.8" lengthAdjust="spacingAndGlyphs">Concatenated Time</text>
<rect x="454.80" y="253.70" width="13.80" height="13.60" rx="0.7" fill="#8e8e8e" stroke="#666" stroke-width="1"/>
<rect x="454.80" y="270.30" width="13.80" height="13.60" rx="0.7" fill="#c8dbf6" stroke="#666" stroke-width="1"/>
<rect x="454.80" y="286.90" width="13.80" height="13.60" rx="0.7" fill="#8e8e8e" stroke="#666" stroke-width="1"/>
<rect x="454.80" y="303.50" width="13.80" height="13.60" rx="0.7" fill="#c8dbf6" stroke="#666" stroke-width="1"/>
<circle cx="456.30" cy="327.80" r="1.60" fill="#000"/>
<circle cx="460.80" cy="327.80" r="1.60" fill="#000"/>
<circle cx="465.30" cy="327.80" r="1.60" fill="#000"/>
<rect x="454.80" y="341.50" width="13.80" height="13.60" rx="0.7" fill="#8e8e8e" stroke="#666" stroke-width="1"/>
<rect x="454.80" y="358.10" width="13.80" height="13.60" rx="0.7" fill="#c8dbf6" stroke="#666" stroke-width="1"/>
<rect x="454.80" y="374.70" width="13.80" height="13.60" rx="0.7" fill="#8e8e8e" stroke="#666" stroke-width="1"/>
<rect x="454.80" y="391.30" width="13.80" height="13.60" rx="0.7" fill="#c8dbf6" stroke="#666" stroke-width="1"/>
<rect x="487.70" y="213.60" width="13.80" height="13.60" rx="0.7" fill="#8e8e8e" stroke="#666" stroke-width="1"/>
<rect x="487.70" y="230.25" width="13.80" height="13.60" rx="0.7" fill="#c8dbf6" stroke="#666" stroke-width="1"/>
<rect x="487.70" y="246.90" width="13.80" height="13.60" rx="0.7" fill="#8e8e8e" stroke="#666" stroke-width="1"/>
<rect x="487.70" y="263.55" width="13.80" height="13.60" rx="0.7" fill="#c8dbf6" stroke="#666" stroke-width="1"/>
<rect x="487.70" y="280.20" width="13.80" height="13.60" rx="0.7" fill="#8e8e8e" stroke="#666" stroke-width="1"/>
<rect x="487.70" y="296.85" width="13.80" height="13.60" rx="0.7" fill="#c8dbf6" stroke="#666" stroke-width="1"/>
<rect x="487.70" y="313.50" width="13.80" height="13.60" rx="0.7" fill="#8e8e8e" stroke="#666" stroke-width="1"/>
<rect x="487.70" y="330.15" width="13.80" height="13.60" rx="0.7" fill="#c8dbf6" stroke="#666" stroke-width="1"/>
<circle cx="489.50" cy="355.40" r="1.60" fill="#000"/>
<circle cx="494.10" cy="355.40" r="1.60" fill="#000"/>
<circle cx="498.70" cy="355.40" r="1.60" fill="#000"/>
<rect x="487.70" y="368.90" width="13.80" height="13.60" rx="0.7" fill="#8e8e8e" stroke="#666" stroke-width="1"/>
<rect x="487.70" y="385.50" width="13.80" height="13.60" rx="0.7" fill="#c8dbf6" stroke="#666" stroke-width="1"/>
<rect x="487.70" y="402.10" width="13.80" height="13.60" rx="0.7" fill="#8e8e8e" stroke="#666" stroke-width="1"/>
<rect x="487.70" y="418.70" width="13.80" height="13.60" rx="0.7" fill="#c8dbf6" stroke="#666" stroke-width="1"/>
<line x1="419.0" y1="275.3" x2="447.8" y2="259.1" stroke="#444" stroke-width="1.5"/>
<line x1="463.5" y1="248.5" x2="482.5" y2="216.3" stroke="#444" stroke-width="1.5"/>
<line x1="419.0" y1="379.6" x2="447.8" y2="396.0" stroke="#444" stroke-width="1.5"/>
<line x1="461.9" y1="409.4" x2="483.8" y2="430.0" stroke="#444" stroke-width="1.5"/>
<rect x="547.50" y="267.50" width="11.4" height="11.6" fill="#0000ff" stroke="#6a6a6a" stroke-opacity="0.75" stroke-width="0.8"/>
<rect x="547.50" y="280.60" width="11.4" height="11.6" fill="#007f00" stroke="#6a6a6a" stroke-opacity="0.75" stroke-width="0.8"/>
<rect x="547.50" y="293.70" width="11.4" height="11.6" fill="#a40000" stroke="#6a6a6a" stroke-opacity="0.75" stroke-width="0.8"/>
<rect x="547.50" y="306.80" width="11.4" height="11.6" fill="#ff9955" stroke="#6a6a6a" stroke-opacity="0.75" stroke-width="0.8"/>
<rect x="547.50" y="319.90" width="11.4" height="11.6" fill="#8000ff" stroke="#6a6a6a" stroke-opacity="0.75" stroke-width="0.8"/>
<rect x="547.50" y="333.00" width="11.4" height="11.6" fill="#2b0000" stroke="#6a6a6a" stroke-opacity="0.75" stroke-width="0.8"/>
<rect x="561.90" y="267.50" width="11.4" height="11.6" fill="#0000ff" stroke="#6a6a6a" stroke-opacity="0.75" stroke-width="0.8"/>
<rect x="561.90" y="280.60" width="11.4" height="11.6" fill="#007f00" stroke="#6a6a6a" stroke-opacity="0.75" stroke-width="0.8"/>
<rect x="561.90" y="293.70" width="11.4" height="11.6" fill="#a40000" stroke="#6a6a6a" stroke-opacity="0.75" stroke-width="0.8"/>
<rect x="561.90" y="306.80" width="11.4" height="11.6" fill="#ff9955" stroke="#6a6a6a" stroke-opacity="0.75" stroke-width="0.8"/>
<rect x="561.90" y="319.90" width="11.4" height="11.6" fill="#8000ff" stroke="#6a6a6a" stroke-opacity="0.75" stroke-width="0.8"/>
<rect x="561.90" y="333.00" width="11.4" height="11.6" fill="#2b0000" stroke="#6a6a6a" stroke-opacity="0.75" stroke-width="0.8"/>
<rect x="576.40" y="267.50" width="11.4" height="11.6" fill="#0000ff" stroke="#6a6a6a" stroke-opacity="0.75" stroke-width="0.8"/>
<rect x="576.40" y="280.60" width="11.4" height="11.6" fill="#007f00" stroke="#6a6a6a" stroke-opacity="0.75" stroke-width="0.8"/>
<rect x="576.40" y="293.70" width="11.4" height="11.6" fill="#a40000" stroke="#6a6a6a" stroke-opacity="0.75" stroke-width="0.8"/>
<rect x="576.40" y="306.80" width="11.4" height="11.6" fill="#ff9955" stroke="#6a6a6a" stroke-opacity="0.75" stroke-width="0.8"/>
<rect x="576.40" y="319.90" width="11.4" height="11.6" fill="#8000ff" stroke="#6a6a6a" stroke-opacity="0.75" stroke-width="0.8"/>
<rect x="576.40" y="333.00" width="11.4" height="11.6" fill="#2b0000" stroke="#6a6a6a" stroke-opacity="0.75" stroke-width="0.8"/>
<rect x="612.70" y="267.50" width="11.4" height="11.6" fill="#0000ff" stroke="#6a6a6a" stroke-opacity="0.75" stroke-width="0.8"/>
<rect x="612.70" y="280.60" width="11.4" height="11.6" fill="#007f00" stroke="#6a6a6a" stroke-opacity="0.75" stroke-width="0.8"/>
<rect x="612.70" y="293.70" width="11.4" height="11.6" fill="#a40000" stroke="#6a6a6a" stroke-opacity="0.75" stroke-width="0.8"/>
<rect x="612.70" y="306.80" width="11.4" height="11.6" fill="#ff9955" stroke="#6a6a6a" stroke-opacity="0.75" stroke-width="0.8"/>
<rect x="612.70" y="319.90" width="11.4" height="11.6" fill="#8000ff" stroke="#6a6a6a" stroke-opacity="0.75" stroke-width="0.8"/>
<rect x="612.70" y="333.00" width="11.4" height="11.6" fill="#2b0000" stroke="#6a6a6a" stroke-opacity="0.75" stroke-width="0.8"/>
<rect x="627.20" y="267.50" width="11.4" height="11.6" fill="#0000ff" stroke="#6a6a6a" stroke-opacity="0.75" stroke-width="0.8"/>
<rect x="627.20" y="280.60" width="11.4" height="11.6" fill="#007f00" stroke="#6a6a6a" stroke-opacity="0.75" stroke-width="0.8"/>
<rect x="627.20" y="293.70" width="11.4" height="11.6" fill="#a40000" stroke="#6a6a6a" stroke-opacity="0.75" stroke-width="0.8"/>
<rect x="627.20" y="306.80" width="11.4" height="11.6" fill="#ff9955" stroke="#6a6a6a" stroke-opacity="0.75" stroke-width="0.8"/>
<rect x="627.20" y="319.90" width="11.4" height="11.6" fill="#8000ff" stroke="#6a6a6a" stroke-opacity="0.75" stroke-width="0.8"/>
<rect x="627.20" y="333.00" width="11.4" height="11.6" fill="#2b0000" stroke="#6a6a6a" stroke-opacity="0.75" stroke-width="0.8"/>
<circle cx="596.00" cy="317.00" r="1.60" fill="#000"/>
<circle cx="600.65" cy="317.00" r="1.60" fill="#000"/>
<circle cx="605.30" cy="317.00" r="1.60" fill="#000"/>
<text x="578.8" y="360.8" font-size="12.70" fill="#333" text-anchor="middle" textLength="38.6" lengthAdjust="spacingAndGlyphs">Output</text>
<text x="587.4" y="375.6" font-size="12.70" fill="#333" text-anchor="middle" textLength="64.5" lengthAdjust="spacingAndGlyphs">Light Curve</text>
<text x="303.3" y="72.5" font-size="12.20" fill="#222" text-anchor="middle" textLength="115.0" lengthAdjust="spacingAndGlyphs">Gaussian Process-</text>
<text x="302.2" y="85.6" font-size="12.20" fill="#222" text-anchor="middle" textLength="77.7" lengthAdjust="spacingAndGlyphs">Interpolated</text>
<text x="302.2" y="99.8" font-size="12.20" fill="#222" text-anchor="middle" textLength="73.3" lengthAdjust="spacingAndGlyphs">Time Series</text>
<text x="288.3" y="531.2" font-size="12.20" fill="#222" text-anchor="middle" textLength="103.5" lengthAdjust="spacingAndGlyphs">Anomaly Search</text>
<text x="292.3" y="547.2" font-size="12.20" fill="#222" text-anchor="middle" textLength="151.4" lengthAdjust="spacingAndGlyphs">through Isolation Forest</text>
<g id="scatter">
<rect x="372" y="429" width="268" height="185" fill="#fff"/>
<clipPath id="c2"><rect x="416" y="438.5" width="207.6" height="153.5"/></clipPath>
<g clip-path="url(#c2)" class="sc">
<g fill="#000" fill-opacity="0.042">
<circle cx="582.6" cy="468.9"/>
<circle cx="589.4" cy="479.7"/>
<circle cx="517.8" cy="512.9"/>
<circle cx="587.9" cy="468.1"/>
<circle cx="545.4" cy="500.6"/>
<circle cx="580.7" cy="486.6"/>
<circle cx="578.1" cy="473.6"/>
<circle cx="530.5" cy="532.0"/>
<circle cx="523.0" cy="503.0"/>
<circle cx="562.6" cy="477.3"/>
<circle cx="545.3" cy="500.6"/>
<circle cx="598.6" cy="464.6"/>
<circle cx="527.2" cy="514.3"/>
<circle cx="577.6" cy="483.6"/>
<circle cx="541.7" cy="503.4"/>
<circle cx="573.1" cy="470.0"/>
<circle cx="512.3" cy="505.2"/>
<circle cx="518.6" cy="503.7"/>
<circle cx="514.9" cy="509.5"/>
<circle cx="560.1" cy="480.4"/>
<circle cx="537.1" cy="497.0"/>
<circle cx="594.5" cy="470.7"/>
<circle cx="546.3" cy="494.7"/>
<circle cx="581.2" cy="470.4"/>
<circle cx="564.2" cy="477.1"/>
<circle cx="516.8" cy="516.6"/>
<circle cx="584.4" cy="481.8"/>
<circle cx="540.0" cy="504.4"/>
<circle cx="544.0" cy="493.8"/>
<circle cx="568.9" cy="482.0"/>
<circle cx="566.4" cy="484.4"/>
<circle cx="532.9" cy="508.1"/>
<circle cx="599.4" cy="469.3"/>
<circle cx="540.8" cy="502.6"/>
<circle cx="545.1" cy="509.0"/>
<circle cx="533.5" cy="490.0"/>
<circle cx="596.5" cy="462.2"/>
<circle cx="533.2" cy="497.5"/>
<circle cx="513.7" cy="511.5"/>
<circle cx="599.2" cy="481.9"/>
<circle cx="551.9" cy="493.4"/>
<circle cx="528.9" cy="499.2"/>
<circle cx="568.6" cy="475.8"/>
<circle cx="567.0" cy="475.8"/>
<circle cx="598.6" cy="471.1"/>
<circle cx="544.5" cy="501.3"/>
<circle cx="553.5" cy="487.9"/>
<circle cx="554.6" cy="478.7"/>
<circle cx="513.4" cy="507.7"/>
<circle cx="534.8" cy="503.3"/>
<circle cx="592.1" cy="467.8"/>
<circle cx="587.7" cy="464.5"/>
<circle cx="564.0" cy="479.3"/>
<circle cx="526.4" cy="499.8"/>
<circle cx="594.7" cy="470.5"/>
<circle cx="596.4" cy="464.5"/>
<circle cx="560.1" cy="491.5"/>
<circle cx="514.5" cy="506.3"/>
<circle cx="593.5" cy="460.3"/>
<circle cx="534.3" cy="495.4"/>
<circle cx="537.4" cy="508.4"/>
<circle cx="586.5" cy="474.9"/>
<circle cx="553.7" cy="480.2"/>
<circle cx="524.2" cy="500.3"/>
<circle cx="525.5" cy="506.8"/>
<circle cx="568.1" cy="492.4"/>
<circle cx="542.7" cy="489.5"/>
<circle cx="583.4" cy="490.9"/>
<circle cx="519.5" cy="505.6"/>
<circle cx="527.8" cy="509.1"/>
<circle cx="528.1" cy="492.3"/>
<circle cx="573.8" cy="469.6"/>
<circle cx="575.0" cy="494.0"/>
<circle cx="594.1" cy="469.5"/>
<circle cx="598.0" cy="490.1"/>
<circle cx="514.9" cy="511.4"/>
<circle cx="533.0" cy="495.5"/>
<circle cx="593.6" cy="462.5"/>
<circle cx="547.4" cy="487.6"/>
<circle cx="559.9" cy="482.8"/>
<circle cx="576.0" cy="470.5"/>
<circle cx="588.3" cy="486.3"/>
<circle cx="540.1" cy="506.4"/>
<circle cx="579.8" cy="474.0"/>
<circle cx="557.4" cy="477.1"/>
<circle cx="571.2" cy="483.9"/>
<circle cx="531.9" cy="507.9"/>
<circle cx="590.3" cy="463.9"/>
<circle cx="586.4" cy="469.1"/>
<circle cx="525.9" cy="502.7"/>
<circle cx="517.7" cy="509.0"/>
<circle cx="534.1" cy="500.6"/>
<circle cx="558.9" cy="483.9"/>
<circle cx="557.6" cy="480.7"/>
<circle cx="572.5" cy="476.4"/>
<circle cx="531.3" cy="495.1"/>
<circle cx="567.7" cy="489.2"/>
<circle cx="551.0" cy="486.8"/>
<circle cx="545.5" cy="493.0"/>
<circle cx="555.8" cy="499.0"/>
<circle cx="593.7" cy="462.6"/>
<circle cx="573.1" cy="473.9"/>
<circle cx="563.3" cy="486.7"/>
<circle cx="585.8" cy="474.0"/>
<circle cx="545.8" cy="487.7"/>
<circle cx="529.4" cy="515.5"/>
<circle cx="569.8" cy="473.5"/>
<circle cx="585.8" cy="466.5"/>
<circle cx="589.8" cy="463.9"/>
<circle cx="564.6" cy="479.6"/>
<circle cx="560.3" cy="497.3"/>
<circle cx="529.3" cy="512.8"/>
<circle cx="549.6" cy="482.4"/>
<circle cx="531.7" cy="497.2"/>
<circle cx="524.4" cy="507.2"/>
<circle cx="545.5" cy="491.3"/>
<circle cx="529.0" cy="497.5"/>
<circle cx="566.3" cy="474.6"/>
<circle cx="538.6" cy="492.9"/>
<circle cx="560.1" cy="479.2"/>
<circle cx="520.7" cy="503.1"/>
<circle cx="561.3" cy="489.3"/>
<circle cx="524.3" cy="501.5"/>
<circle cx="517.4" cy="504.6"/>
<circle cx="538.5" cy="486.0"/>
<circle cx="592.3" cy="461.4"/>
<circle cx="508.8" cy="506.0"/>
<circle cx="510.4" cy="507.5"/>
<circle cx="551.0" cy="500.4"/>
<circle cx="591.3" cy="459.2"/>
<circle cx="535.3" cy="515.1"/>
<circle cx="584.0" cy="461.8"/>
<circle cx="521.2" cy="513.2"/>
<circle cx="563.0" cy="480.1"/>
<circle cx="577.9" cy="483.1"/>
<circle cx="583.5" cy="466.7"/>
<circle cx="590.4" cy="463.0"/>
<circle cx="566.6" cy="475.3"/>
<circle cx="570.0" cy="487.0"/>
<circle cx="578.8" cy="484.6"/>
<circle cx="567.5" cy="472.3"/>
<circle cx="523.9" cy="504.4"/>
<circle cx="533.3" cy="496.0"/>
<circle cx="546.8" cy="486.3"/>
<circle cx="547.2" cy="506.6"/>
<circle cx="565.2" cy="479.5"/>
<circle cx="517.6" cy="511.3"/>
<circle cx="526.9" cy="502.6"/>
<circle cx="529.6" cy="514.7"/>
<circle cx="575.4" cy="484.4"/>
<circle cx="551.3" cy="491.6"/>
<circle cx="524.3" cy="497.3"/>
<circle cx="525.0" cy="498.8"/>
<circle cx="592.1" cy="462.1"/>
<circle cx="556.6" cy="480.9"/>
<circle cx="534.1" cy="496.7"/>
<circle cx="526.1" cy="499.0"/>
<circle cx="582.9" cy="469.0"/>
<circle cx="552.2" cy="493.6"/>
<circle cx="541.1" cy="491.2"/>
<circle cx="544.6" cy="489.0"/>
<circle cx="574.7" cy="475.4"/>
<circle cx="514.1" cy="510.5"/>
<circle cx="584.8" cy="466.6"/>
<circle cx="561.9" cy="478.6"/>
<circle cx="579.6" cy="471.7"/>
<circle cx="567.9" cy="476.6"/>
<circle cx="516.5" cy="505.2"/>
<circle cx="517.6" cy="506.1"/>
<circle cx="565.6" cy="478.2"/>
<circle cx="557.8" cy="492.5"/>
<circle cx="572.2" cy="469.6"/>
<circle cx="596.4" cy="479.9"/>
<circle cx="579.3" cy="467.4"/>
<circle cx="549.8" cy="498.6"/>
<circle cx="569.2" cy="494.7"/>
<circle cx="545.3" cy="481.4"/>
<circle cx="558.5" cy="480.6"/>
<circle cx="589.9" cy="459.8"/>
<circle cx="552.5" cy="485.3"/>
<circle cx="535.4" cy="507.0"/>
<circle cx="552.0" cy="498.7"/>
<circle cx="535.7" cy="493.1"/>
<circle cx="555.6" cy="489.0"/>
<circle cx="548.8" cy="495.6"/>
<circle cx="591.6" cy="479.7"/>
<circle cx="550.3" cy="485.9"/>
<circle cx="556.0" cy="483.9"/>
<circle cx="576.4" cy="481.2"/>
<circle cx="516.7" cy="506.9"/>
<circle cx="523.7" cy="501.2"/>
<circle cx="546.5" cy="488.0"/>
<circle cx="519.7" cy="504.4"/>
<circle cx="546.0" cy="493.4"/>
<circle cx="577.2" cy="489.1"/>
<circle cx="590.7" cy="459.8"/>
<circle cx="519.0" cy="518.2"/>
<circle cx="560.0" cy="481.9"/>
<circle cx="520.3" cy="504.2"/>
<circle cx="585.3" cy="485.6"/>
<circle cx="566.8" cy="481.7"/>
<circle cx="576.9" cy="481.9"/>
<circle cx="543.3" cy="490.9"/>
<circle cx="554.6" cy="485.0"/>
<circle cx="577.6" cy="478.6"/>
<circle cx="560.1" cy="479.9"/>
<circle cx="569.6" cy="470.0"/>
<circle cx="582.0" cy="471.8"/>
<circle cx="576.7" cy="468.3"/>
<circle cx="577.7" cy="470.6"/>
<circle cx="550.8" cy="486.8"/>
<circle cx="585.5" cy="465.7"/>
<circle cx="515.6" cy="508.0"/>
<circle cx="528.8" cy="507.3"/>
<circle cx="588.3" cy="462.5"/>
<circle cx="574.6" cy="487.0"/>
<circle cx="524.3" cy="501.2"/>
<circle cx="580.7" cy="474.2"/>
<circle cx="515.1" cy="504.8"/>
<circle cx="523.7" cy="517.2"/>
<circle cx="552.2" cy="484.4"/>
<circle cx="581.6" cy="470.9"/>
<circle cx="542.0" cy="500.7"/>
<circle cx="593.0" cy="462.7"/>
<circle cx="575.8" cy="471.0"/>
<circle cx="528.1" cy="499.9"/>
<circle cx="559.4" cy="481.6"/>
<circle cx="528.7" cy="509.1"/>
<circle cx="593.2" cy="487.0"/>
<circle cx="559.1" cy="480.1"/>
<circle cx="526.3" cy="498.9"/>
<circle cx="562.1" cy="488.9"/>
<circle cx="548.8" cy="489.5"/>
<circle cx="594.7" cy="462.4"/>
<circle cx="556.0" cy="494.1"/>
<circle cx="520.0" cy="504.4"/>
<circle cx="575.4" cy="482.9"/>
<circle cx="591.3" cy="480.0"/>
<circle cx="564.6" cy="488.6"/>
<circle cx="547.8" cy="497.5"/>
<circle cx="531.4" cy="519.6"/>
<circle cx="571.6" cy="476.7"/>
<circle cx="516.1" cy="510.4"/>
<circle cx="581.4" cy="480.4"/>
<circle cx="523.4" cy="498.8"/>
<circle cx="575.3" cy="478.1"/>
<circle cx="524.1" cy="500.8"/>
<circle cx="526.1" cy="500.9"/>
<circle cx="583.0" cy="471.7"/>
<circle cx="525.9" cy="499.8"/>
<circle cx="541.9" cy="500.8"/>
<circle cx="590.1" cy="463.2"/>
<circle cx="519.1" cy="502.6"/>
<circle cx="550.1" cy="488.6"/>
<circle cx="514.6" cy="503.3"/>
<circle cx="593.8" cy="462.6"/>
<circle cx="592.5" cy="471.5"/>
<circle cx="538.1" cy="492.6"/>
<circle cx="571.1" cy="474.9"/>
<circle cx="571.0" cy="491.1"/>
<circle cx="593.8" cy="483.5"/>
<circle cx="554.3" cy="484.6"/>
<circle cx="521.4" cy="508.8"/>
<circle cx="580.4" cy="473.1"/>
<circle cx="567.3" cy="477.7"/>
<circle cx="554.1" cy="487.3"/>
<circle cx="538.7" cy="491.0"/>
<circle cx="596.0" cy="483.3"/>
<circle cx="592.0" cy="467.5"/>
<circle cx="529.8" cy="494.2"/>
<circle cx="592.0" cy="473.4"/>
<circle cx="540.7" cy="496.1"/>
<circle cx="584.0" cy="473.7"/>
<circle cx="526.0" cy="498.5"/>
<circle cx="514.0" cy="511.8"/>
<circle cx="559.4" cy="482.0"/>
<circle cx="527.9" cy="497.9"/>
<circle cx="539.9" cy="491.1"/>
<circle cx="600.3" cy="470.3"/>
<circle cx="563.6" cy="481.5"/>
<circle cx="579.5" cy="479.4"/>
<circle cx="529.8" cy="510.7"/>
<circle cx="580.1" cy="478.9"/>
<circle cx="532.2" cy="516.0"/>
<circle cx="537.0" cy="502.0"/>
<circle cx="525.1" cy="499.9"/>
<circle cx="579.5" cy="466.1"/>
<circle cx="540.0" cy="491.8"/>
<circle cx="568.9" cy="475.3"/>
<circle cx="522.2" cy="504.6"/>
<circle cx="515.5" cy="504.7"/>
<circle cx="530.9" cy="501.8"/>
<circle cx="548.2" cy="486.4"/>
<circle cx="574.4" cy="471.9"/>
<circle cx="583.8" cy="479.5"/>
<circle cx="594.7" cy="459.8"/>
<circle cx="522.7" cy="503.2"/>
<circle cx="589.0" cy="464.8"/>
<circle cx="529.5" cy="505.1"/>
<circle cx="597.7" cy="475.0"/>
<circle cx="575.4" cy="479.3"/>
<circle cx="565.7" cy="477.0"/>
<circle cx="563.3" cy="482.3"/>
<circle cx="521.5" cy="514.7"/>
<circle cx="576.4" cy="473.1"/>
<circle cx="547.1" cy="497.0"/>
<circle cx="513.9" cy="513.7"/>
<circle cx="526.4" cy="499.6"/>
<circle cx="591.0" cy="480.4"/>
<circle cx="574.9" cy="475.0"/>
<circle cx="523.9" cy="499.3"/>
<circle cx="557.5" cy="480.9"/>
<circle cx="584.3" cy="476.7"/>
<circle cx="530.0" cy="497.2"/>
<circle cx="584.1" cy="466.5"/>
<circle cx="532.3" cy="506.5"/>
<circle cx="581.5" cy="479.1"/>
<circle cx="562.3" cy="485.4"/>
<circle cx="544.8" cy="492.0"/>
<circle cx="535.7" cy="489.0"/>
<circle cx="586.8" cy="464.9"/>
<circle cx="518.0" cy="504.1"/>
<circle cx="546.1" cy="496.7"/>
<circle cx="548.5" cy="484.8"/>
<circle cx="564.5" cy="485.0"/>
<circle cx="569.1" cy="476.3"/>
<circle cx="567.0" cy="491.1"/>
<circle cx="571.5" cy="473.9"/>
<circle cx="550.8" cy="497.9"/>
<circle cx="579.9" cy="482.7"/>
<circle cx="580.9" cy="469.9"/>
<circle cx="561.3" cy="481.4"/>
<circle cx="518.7" cy="511.8"/>
<circle cx="576.1" cy="472.5"/>
<circle cx="530.7" cy="500.0"/>
<circle cx="546.9" cy="493.6"/>
<circle cx="595.4" cy="469.0"/>
<circle cx="519.9" cy="523.7"/>
<circle cx="598.5" cy="479.9"/>
<circle cx="552.2" cy="486.8"/>
<circle cx="601.5" cy="470.4"/>
<circle cx="515.9" cy="505.6"/>
<circle cx="553.0" cy="489.9"/>
<circle cx="564.6" cy="484.7"/>
<circle cx="574.0" cy="473.9"/>
<circle cx="594.3" cy="461.1"/>
<circle cx="564.5" cy="477.2"/>
<circle cx="566.4" cy="482.9"/>
<circle cx="532.5" cy="497.5"/>
<circle cx="556.0" cy="484.9"/>
<circle cx="592.8" cy="474.2"/>
<circle cx="590.6" cy="473.3"/>
<circle cx="559.9" cy="483.4"/>
<circle cx="567.0" cy="472.4"/>
<circle cx="527.8" cy="496.5"/>
<circle cx="566.6" cy="486.6"/>
<circle cx="530.7" cy="497.7"/>
<circle cx="524.1" cy="509.4"/>
<circle cx="546.4" cy="497.2"/>
<circle cx="538.9" cy="507.5"/>
<circle cx="526.0" cy="500.7"/>
<circle cx="585.1" cy="466.6"/>
<circle cx="586.8" cy="469.2"/>
<circle cx="564.0" cy="486.5"/>
<circle cx="578.1" cy="472.9"/>
<circle cx="557.7" cy="482.6"/>
<circle cx="536.0" cy="494.5"/>
<circle cx="590.3" cy="464.8"/>
<circle cx="577.9" cy="471.5"/>
<circle cx="521.3" cy="506.2"/>
<circle cx="534.8" cy="508.3"/>
<circle cx="562.7" cy="501.8"/>
<circle cx="531.2" cy="500.6"/>
<circle cx="584.4" cy="472.0"/>
<circle cx="593.8" cy="461.1"/>
<circle cx="600.0" cy="473.8"/>
<circle cx="559.0" cy="492.1"/>
<circle cx="582.8" cy="468.7"/>
<circle cx="584.5" cy="468.4"/>
<circle cx="544.7" cy="484.8"/>
<circle cx="564.5" cy="478.7"/>
<circle cx="562.1" cy="483.5"/>
<circle cx="584.0" cy="468.1"/>
<circle cx="519.2" cy="504.7"/>
<circle cx="537.1" cy="512.2"/>
<circle cx="579.3" cy="477.3"/>
<circle cx="574.2" cy="473.0"/>
<circle cx="524.7" cy="515.0"/>
<circle cx="594.9" cy="463.8"/>
<circle cx="534.6" cy="497.6"/>
<circle cx="513.9" cy="514.6"/>
<circle cx="557.9" cy="483.0"/>
<circle cx="566.5" cy="494.3"/>
<circle cx="555.9" cy="482.3"/>
<circle cx="542.9" cy="493.0"/>
<circle cx="509.8" cy="506.4"/>
<circle cx="577.0" cy="486.2"/>
<circle cx="550.4" cy="499.1"/>
<circle cx="531.1" cy="506.9"/>
<circle cx="522.1" cy="502.6"/>
<circle cx="579.0" cy="485.3"/>
<circle cx="567.8" cy="478.4"/>
<circle cx="582.3" cy="466.8"/>
<circle cx="556.2" cy="493.3"/>
<circle cx="582.0" cy="476.8"/>
<circle cx="570.4" cy="476.3"/>
<circle cx="567.2" cy="477.0"/>
<circle cx="543.1" cy="501.0"/>
<circle cx="538.2" cy="490.2"/>
<circle cx="550.4" cy="486.6"/>
<circle cx="578.7" cy="471.2"/>
<circle cx="587.5" cy="472.4"/>
<circle cx="585.4" cy="479.2"/>
<circle cx="568.9" cy="489.7"/>
<circle cx="571.8" cy="479.8"/>
<circle cx="580.9" cy="466.6"/>
<circle cx="519.0" cy="498.8"/>
<circle cx="544.1" cy="493.3"/>
<circle cx="583.0" cy="468.0"/>
<circle cx="519.8" cy="504.2"/>
<circle cx="598.5" cy="480.0"/>
<circle cx="593.4" cy="473.3"/>
<circle cx="518.3" cy="512.2"/>
<circle cx="537.7" cy="494.5"/>
<circle cx="526.3" cy="500.1"/>
<circle cx="516.3" cy="513.6"/>
<circle cx="513.3" cy="500.5"/>
<circle cx="521.1" cy="517.3"/>
<circle cx="520.8" cy="510.6"/>
<circle cx="521.1" cy="499.6"/>
<circle cx="574.2" cy="467.1"/>
<circle cx="526.6" cy="500.0"/>
<circle cx="536.0" cy="496.0"/>
<circle cx="515.2" cy="506.4"/>
<circle cx="522.8" cy="511.2"/>
<circle cx="589.1" cy="463.7"/>
<circle cx="510.0" cy="506.4"/>
<circle cx="553.6" cy="480.8"/>
<circle cx="576.0" cy="481.4"/>
<circle cx="510.1" cy="508.4"/>
<circle cx="543.5" cy="490.8"/>
<circle cx="529.6" cy="509.8"/>
<circle cx="584.7" cy="463.0"/>
<circle cx="586.9" cy="464.6"/>
<circle cx="568.0" cy="487.2"/>
<circle cx="566.8" cy="482.8"/>
<circle cx="568.7" cy="471.9"/>
<circle cx="536.0" cy="499.1"/>
<circle cx="530.1" cy="497.1"/>
<circle cx="516.7" cy="504.1"/>
<circle cx="592.6" cy="465.6"/>
<circle cx="555.8" cy="492.0"/>
<circle cx="582.7" cy="491.3"/>
<circle cx="576.6" cy="473.8"/>
<circle cx="594.9" cy="465.4"/>
<circle cx="575.3" cy="481.8"/>
<circle cx="518.7" cy="508.0"/>
<circle cx="597.6" cy="470.1"/>
<circle cx="544.9" cy="501.7"/>
<circle cx="538.8" cy="492.4"/>
<circle cx="576.6" cy="480.1"/>
<circle cx="577.3" cy="471.0"/>
<circle cx="569.2" cy="486.2"/>
<circle cx="541.2" cy="491.0"/>
<circle cx="570.0" cy="470.7"/>
<circle cx="564.4" cy="479.5"/>
<circle cx="524.2" cy="501.6"/>
<circle cx="524.4" cy="512.6"/>
<circle cx="528.8" cy="497.5"/>
<circle cx="580.5" cy="470.5"/>
<circle cx="569.0" cy="479.0"/>
<circle cx="580.4" cy="480.0"/>
<circle cx="581.3" cy="469.1"/>
<circle cx="523.9" cy="500.8"/>
<circle cx="589.0" cy="471.9"/>
<circle cx="581.2" cy="465.5"/>
<circle cx="570.6" cy="472.6"/>
<circle cx="572.1" cy="482.4"/>
<circle cx="570.4" cy="473.1"/>
<circle cx="539.0" cy="497.3"/>
<circle cx="568.1" cy="487.1"/>
<circle cx="537.0" cy="491.6"/>
<circle cx="586.8" cy="465.3"/>
<circle cx="533.9" cy="499.7"/>
<circle cx="524.8" cy="511.2"/>
<circle cx="566.6" cy="479.7"/>
<circle cx="581.1" cy="475.2"/>
<circle cx="518.0" cy="511.0"/>
<circle cx="567.5" cy="476.4"/>
<circle cx="590.9" cy="474.8"/>
<circle cx="534.4" cy="487.5"/>
<circle cx="584.7" cy="469.1"/>
<circle cx="571.4" cy="490.0"/>
<circle cx="569.6" cy="473.7"/>
<circle cx="540.1" cy="489.9"/>
<circle cx="537.0" cy="492.8"/>
<circle cx="574.0" cy="478.2"/>
<circle cx="589.6" cy="463.3"/>
<circle cx="522.5" cy="507.3"/>
<circle cx="580.3" cy="469.3"/>
<circle cx="573.7" cy="468.8"/>
<circle cx="542.6" cy="486.4"/>
<circle cx="568.7" cy="475.9"/>
<circle cx="575.4" cy="472.8"/>
<circle cx="594.7" cy="463.6"/>
<circle cx="535.1" cy="494.8"/>
<circle cx="553.3" cy="501.8"/>
<circle cx="578.7" cy="482.6"/>
<circle cx="518.3" cy="511.9"/>
<circle cx="520.1" cy="509.2"/>
<circle cx="531.1" cy="491.9"/>
<circle cx="563.9" cy="485.9"/>
<circle cx="574.7" cy="476.5"/>
<circle cx="557.9" cy="483.2"/>
<circle cx="557.6" cy="480.4"/>
<circle cx="544.3" cy="491.1"/>
<circle cx="548.0" cy="490.5"/>
<circle cx="558.3" cy="482.9"/>
<circle cx="604.1" cy="480.7"/>
<circle cx="513.0" cy="505.0"/>
<circle cx="517.4" cy="507.4"/>
<circle cx="583.8" cy="473.4"/>
<circle cx="567.9" cy="475.3"/>
<circle cx="534.2" cy="498.8"/>
<circle cx="523.7" cy="505.7"/>
<circle cx="552.5" cy="492.4"/>
<circle cx="513.7" cy="510.7"/>
<circle cx="572.4" cy="473.4"/>
<circle cx="594.5" cy="460.8"/>
<circle cx="549.9" cy="485.9"/>
<circle cx="523.1" cy="502.4"/>
<circle cx="516.2" cy="504.6"/>
<circle cx="538.3" cy="491.2"/>
<circle cx="591.5" cy="456.7"/>
<circle cx="590.2" cy="468.0"/>
<circle cx="581.7" cy="478.8"/>
<circle cx="513.9" cy="508.3"/>
<circle cx="553.0" cy="488.0"/>
<circle cx="517.2" cy="512.2"/>
<circle cx="590.9" cy="464.4"/>
<circle cx="593.8" cy="466.4"/>
<circle cx="543.6" cy="500.2"/>
<circle cx="561.7" cy="478.4"/>
<circle cx="586.9" cy="463.9"/>
<circle cx="533.4" cy="500.6"/>
<circle cx="572.0" cy="481.6"/>
<circle cx="583.4" cy="469.0"/>
<circle cx="583.7" cy="464.2"/>
<circle cx="574.8" cy="468.2"/>
<circle cx="587.0" cy="489.3"/>
<circle cx="563.3" cy="486.7"/>
<circle cx="548.6" cy="488.1"/>
<circle cx="533.7" cy="516.2"/>
<circle cx="575.7" cy="471.6"/>
<circle cx="525.1" cy="501.8"/>
<circle cx="538.7" cy="492.3"/>
<circle cx="549.6" cy="486.9"/>
<circle cx="532.6" cy="506.6"/>
<circle cx="577.4" cy="473.3"/>
<circle cx="587.5" cy="463.8"/>
<circle cx="587.7" cy="465.1"/>
<circle cx="591.1" cy="465.0"/>
<circle cx="581.3" cy="468.9"/>
<circle cx="547.9" cy="492.6"/>
<circle cx="551.8" cy="491.2"/>
<circle cx="578.6" cy="475.6"/>
<circle cx="526.8" cy="499.6"/>
<circle cx="543.6" cy="492.3"/>
<circle cx="594.6" cy="482.4"/>
<circle cx="512.6" cy="505.5"/>
<circle cx="533.6" cy="495.5"/>
<circle cx="520.5" cy="502.7"/>
<circle cx="555.6" cy="492.0"/>
<circle cx="517.7" cy="505.1"/>
<circle cx="512.7" cy="506.9"/>
<circle cx="511.9" cy="502.6"/>
<circle cx="579.3" cy="477.8"/>
<circle cx="529.8" cy="500.2"/>
<circle cx="515.2" cy="505.4"/>
<circle cx="582.7" cy="491.3"/>
<circle cx="545.6" cy="489.5"/>
<circle cx="528.7" cy="515.2"/>
<circle cx="536.8" cy="508.1"/>
<circle cx="594.6" cy="460.4"/>
<circle cx="590.6" cy="471.7"/>
<circle cx="533.9" cy="511.1"/>
<circle cx="581.4" cy="471.4"/>
<circle cx="538.2" cy="497.7"/>
<circle cx="539.6" cy="494.6"/>
<circle cx="511.8" cy="502.6"/>
<circle cx="562.6" cy="476.2"/>
<circle cx="549.9" cy="484.6"/>
<circle cx="591.3" cy="471.4"/>
<circle cx="526.6" cy="511.3"/>
<circle cx="537.1" cy="501.3"/>
<circle cx="542.1" cy="487.9"/>
<circle cx="574.1" cy="473.9"/>
<circle cx="533.2" cy="509.0"/>
<circle cx="517.3" cy="514.4"/>
<circle cx="579.9" cy="470.5"/>
<circle cx="542.9" cy="491.5"/>
<circle cx="534.7" cy="495.1"/>
<circle cx="574.1" cy="472.1"/>
<circle cx="590.2" cy="472.1"/>
<circle cx="514.7" cy="515.6"/>
<circle cx="581.2" cy="466.7"/>
<circle cx="588.6" cy="472.6"/>
<circle cx="539.9" cy="488.6"/>
<circle cx="553.4" cy="482.9"/>
<circle cx="580.0" cy="465.0"/>
<circle cx="518.1" cy="502.8"/>
<circle cx="548.3" cy="489.5"/>
<circle cx="595.4" cy="460.6"/>
<circle cx="530.9" cy="491.1"/>
<circle cx="542.9" cy="495.3"/>
<circle cx="562.1" cy="476.8"/>
<circle cx="519.8" cy="513.9"/>
<circle cx="579.5" cy="485.7"/>
<circle cx="540.1" cy="501.4"/>
<circle cx="585.6" cy="463.8"/>
<circle cx="550.4" cy="487.7"/>
<circle cx="518.5" cy="502.3"/>
<circle cx="575.5" cy="478.3"/>
<circle cx="577.8" cy="471.3"/>
<circle cx="545.8" cy="488.4"/>
<circle cx="516.3" cy="508.8"/>
<circle cx="539.2" cy="494.8"/>
<circle cx="555.7" cy="482.8"/>
<circle cx="555.7" cy="482.8"/>
<circle cx="537.1" cy="493.9"/>
<circle cx="524.3" cy="503.4"/>
<circle cx="517.5" cy="521.2"/>
<circle cx="561.4" cy="504.1"/>
<circle cx="593.1" cy="463.0"/>
<circle cx="570.7" cy="477.5"/>
<circle cx="578.7" cy="494.5"/>
<circle cx="561.8" cy="479.2"/>
<circle cx="566.2" cy="480.0"/>
<circle cx="537.6" cy="500.7"/>
<circle cx="555.1" cy="483.7"/>
<circle cx="571.6" cy="482.7"/>
<circle cx="540.1" cy="505.2"/>
<circle cx="513.9" cy="504.4"/>
<circle cx="552.3" cy="487.1"/>
<circle cx="534.2" cy="493.6"/>
<circle cx="587.6" cy="480.9"/>
<circle cx="520.5" cy="523.1"/>
<circle cx="545.9" cy="484.7"/>
<circle cx="553.1" cy="500.7"/>
<circle cx="518.9" cy="501.5"/>
<circle cx="553.8" cy="484.1"/>
<circle cx="563.4" cy="477.7"/>
<circle cx="539.5" cy="489.4"/>
<circle cx="582.8" cy="472.7"/>
<circle cx="558.9" cy="484.5"/>
<circle cx="559.9" cy="500.2"/>
<circle cx="550.3" cy="487.6"/>
<circle cx="571.6" cy="475.0"/>
<circle cx="535.1" cy="489.0"/>
<circle cx="561.8" cy="480.7"/>
<circle cx="555.0" cy="500.9"/>
<circle cx="529.4" cy="497.0"/>
<circle cx="581.8" cy="470.0"/>
<circle cx="562.7" cy="490.2"/>
<circle cx="514.4" cy="501.3"/>
<circle cx="600.3" cy="467.8"/>
<circle cx="511.8" cy="504.4"/>
<circle cx="552.3" cy="482.7"/>
<circle cx="517.9" cy="501.9"/>
<circle cx="520.4" cy="509.4"/>
<circle cx="537.4" cy="505.5"/>
<circle cx="522.2" cy="498.9"/>
<circle cx="577.5" cy="468.9"/>
<circle cx="535.4" cy="511.8"/>
<circle cx="526.3" cy="523.0"/>
<circle cx="585.7" cy="482.4"/>
<circle cx="597.8" cy="469.9"/>
<circle cx="539.8" cy="496.7"/>
<circle cx="594.6" cy="459.4"/>
<circle cx="529.2" cy="497.3"/>
<circle cx="552.1" cy="486.0"/>
<circle cx="584.1" cy="466.1"/>
<circle cx="557.8" cy="483.5"/>
<circle cx="560.3" cy="481.2"/>
<circle cx="548.1" cy="486.3"/>
<circle cx="572.0" cy="505.5"/>
<circle cx="512.2" cy="509.0"/>
<circle cx="515.3" cy="504.4"/>
<circle cx="592.3" cy="462.4"/>
<circle cx="544.0" cy="487.0"/>
<circle cx="531.0" cy="500.2"/>
<circle cx="587.9" cy="466.1"/>
<circle cx="529.3" cy="492.3"/>
<circle cx="525.2" cy="499.2"/>
<circle cx="541.5" cy="492.4"/>
<circle cx="526.0" cy="506.6"/>
<circle cx="574.0" cy="474.2"/>
<circle cx="531.0" cy="503.5"/>
<circle cx="529.5" cy="496.8"/>
<circle cx="595.7" cy="461.1"/>
<circle cx="575.8" cy="481.9"/>
<circle cx="548.5" cy="490.3"/>
<circle cx="575.2" cy="472.8"/>
<circle cx="565.9" cy="491.8"/>
<circle cx="577.5" cy="487.3"/>
<circle cx="524.1" cy="505.4"/>
<circle cx="579.4" cy="470.4"/>
<circle cx="508.8" cy="506.1"/>
<circle cx="526.9" cy="498.1"/>
<circle cx="521.9" cy="508.2"/>
<circle cx="536.6" cy="499.7"/>
<circle cx="561.7" cy="491.4"/>
<circle cx="552.3" cy="492.4"/>
<circle cx="524.2" cy="517.8"/>
<circle cx="547.0" cy="484.5"/>
<circle cx="591.0" cy="476.8"/>
<circle cx="587.0" cy="465.3"/>
<circle cx="530.6" cy="498.2"/>
<circle cx="517.9" cy="499.4"/>
<circle cx="541.9" cy="493.0"/>
<circle cx="528.4" cy="500.2"/>
<circle cx="513.1" cy="506.6"/>
<circle cx="579.1" cy="470.3"/>
<circle cx="538.6" cy="496.7"/>
<circle cx="569.4" cy="477.4"/>
<circle cx="515.2" cy="505.4"/>
<circle cx="515.3" cy="516.8"/>
<circle cx="552.9" cy="487.2"/>
<circle cx="524.7" cy="509.8"/>
<circle cx="573.6" cy="474.0"/>
<circle cx="520.2" cy="508.0"/>
<circle cx="515.7" cy="516.2"/>
<circle cx="567.3" cy="495.5"/>
<circle cx="536.1" cy="492.6"/>
<circle cx="518.0" cy="505.7"/>
<circle cx="592.7" cy="467.7"/>
<circle cx="512.7" cy="512.4"/>
<circle cx="589.4" cy="463.5"/>
<circle cx="513.0" cy="508.1"/>
<circle cx="548.8" cy="490.7"/>
<circle cx="531.6" cy="506.8"/>
<circle cx="536.3" cy="504.4"/>
<circle cx="573.0" cy="477.9"/>
<circle cx="591.4" cy="460.1"/>
<circle cx="544.9" cy="510.0"/>
<circle cx="525.0" cy="500.5"/>
<circle cx="538.1" cy="493.7"/>
<circle cx="549.8" cy="486.8"/>
<circle cx="570.4" cy="473.9"/>
<circle cx="542.6" cy="499.5"/>
<circle cx="555.4" cy="488.0"/>
<circle cx="539.7" cy="507.0"/>
<circle cx="523.0" cy="505.7"/>
<circle cx="574.3" cy="477.6"/>
<circle cx="524.1" cy="502.0"/>
<circle cx="553.3" cy="490.2"/>
<circle cx="595.8" cy="474.0"/>
<circle cx="527.6" cy="493.9"/>
<circle cx="537.8" cy="488.9"/>
<circle cx="545.8" cy="491.1"/>
<circle cx="512.0" cy="507.7"/>
<circle cx="522.9" cy="512.7"/>
<circle cx="544.8" cy="498.3"/>
<circle cx="577.3" cy="472.5"/>
<circle cx="537.4" cy="490.2"/>
<circle cx="528.8" cy="505.3"/>
<circle cx="549.6" cy="481.7"/>
<circle cx="523.6" cy="502.6"/>
<circle cx="561.7" cy="480.4"/>
<circle cx="585.6" cy="465.5"/>
<circle cx="559.7" cy="488.3"/>
<circle cx="567.6" cy="477.0"/>
<circle cx="546.8" cy="486.7"/>
<circle cx="539.8" cy="506.9"/>
<circle cx="587.8" cy="470.6"/>
<circle cx="515.7" cy="515.6"/>
<circle cx="529.9" cy="493.9"/>
<circle cx="538.1" cy="492.8"/>
<circle cx="542.3" cy="505.9"/>
<circle cx="594.0" cy="475.6"/>
<circle cx="529.5" cy="494.3"/>
<circle cx="511.5" cy="504.8"/>
<circle cx="576.8" cy="478.3"/>
<circle cx="541.4" cy="488.6"/>
<circle cx="542.4" cy="497.2"/>
<circle cx="569.5" cy="487.8"/>
<circle cx="545.2" cy="488.5"/>
<circle cx="573.8" cy="474.6"/>
<circle cx="538.0" cy="514.2"/>
<circle cx="573.7" cy="479.8"/>
<circle cx="591.0" cy="467.5"/>
<circle cx="529.6" cy="497.5"/>
<circle cx="548.6" cy="503.1"/>
<circle cx="589.8" cy="470.2"/>
<circle cx="509.6" cy="506.5"/>
<circle cx="598.0" cy="471.6"/>
<circle cx="538.4" cy="500.0"/>
<circle cx="542.8" cy="497.8"/>
<circle cx="554.0" cy="480.6"/>
<circle cx="559.0" cy="480.5"/>
<circle cx="558.4" cy="496.5"/>
<circle cx="526.7" cy="511.0"/>
<circle cx="576.5" cy="476.0"/>
<circle cx="543.1" cy="501.3"/>
<circle cx="563.6" cy="491.6"/>
<circle cx="522.4" cy="515.0"/>
<circle cx="520.1" cy="503.3"/>
<circle cx="539.3" cy="493.2"/>
<circle cx="576.9" cy="479.3"/>
<circle cx="520.8" cy="508.2"/>
<circle cx="560.8" cy="488.6"/>
<circle cx="543.9" cy="516.1"/>
<circle cx="591.2" cy="469.6"/>
<circle cx="518.8" cy="512.2"/>
<circle cx="573.4" cy="472.8"/>
<circle cx="543.2" cy="486.0"/>
<circle cx="571.7" cy="492.2"/>
<circle cx="550.9" cy="486.5"/>
<circle cx="569.5" cy="476.3"/>
<circle cx="547.4" cy="488.5"/>
<circle cx="531.7" cy="500.8"/>
<circle cx="529.5" cy="507.4"/>
<circle cx="599.7" cy="473.3"/>
<circle cx="565.1" cy="491.0"/>
<circle cx="547.6" cy="487.6"/>
<circle cx="577.5" cy="489.9"/>
<circle cx="521.5" cy="507.2"/>
<circle cx="545.1" cy="489.8"/>
<circle cx="514.3" cy="506.7"/>
<circle cx="581.9" cy="465.0"/>
<circle cx="578.6" cy="470.4"/>
<circle cx="574.5" cy="471.4"/>
<circle cx="548.1" cy="504.3"/>
<circle cx="530.7" cy="503.4"/>
<circle cx="566.3" cy="482.3"/>
<circle cx="556.4" cy="486.1"/>
<circle cx="519.2" cy="503.6"/>
<circle cx="545.3" cy="509.4"/>
<circle cx="567.8" cy="480.7"/>
<circle cx="535.8" cy="502.4"/>
<circle cx="594.9" cy="464.5"/>
<circle cx="579.3" cy="468.7"/>
<circle cx="519.5" cy="523.6"/>
<circle cx="593.9" cy="463.1"/>
<circle cx="546.0" cy="488.6"/>
<circle cx="544.7" cy="490.9"/>
<circle cx="526.0" cy="518.2"/>
<circle cx="525.8" cy="505.1"/>
<circle cx="561.6" cy="483.5"/>
<circle cx="529.9" cy="492.6"/>
<circle cx="511.6" cy="506.4"/>
<circle cx="547.8" cy="493.9"/>
<circle cx="538.5" cy="493.2"/>
<circle cx="525.3" cy="501.1"/>
<circle cx="534.5" cy="512.1"/>
<circle cx="520.1" cy="504.3"/>
<circle cx="524.5" cy="510.2"/>
<circle cx="545.3" cy="499.8"/>
<circle cx="521.3" cy="506.0"/>
<circle cx="581.6" cy="468.3"/>
<circle cx="521.4" cy="504.1"/>
<circle cx="578.1" cy="468.7"/>
<circle cx="541.9" cy="505.6"/>
<circle cx="519.5" cy="512.5"/>
<circle cx="570.6" cy="488.5"/>
<circle cx="550.7" cy="488.8"/>
<circle cx="581.5" cy="469.8"/>
<circle cx="590.7" cy="458.9"/>
<circle cx="585.3" cy="478.1"/>
<circle cx="519.5" cy="506.0"/>
<circle cx="562.2" cy="491.0"/>
<circle cx="534.8" cy="494.0"/>
<circle cx="560.7" cy="478.8"/>
<circle cx="581.5" cy="478.2"/>
<circle cx="574.2" cy="474.0"/>
<circle cx="525.1" cy="517.1"/>
<circle cx="570.3" cy="476.5"/>
<circle cx="589.0" cy="466.6"/>
<circle cx="547.8" cy="496.7"/>
<circle cx="552.3" cy="487.3"/>
<circle cx="516.9" cy="509.6"/>
<circle cx="523.1" cy="500.2"/>
<circle cx="547.3" cy="489.3"/>
<circle cx="551.9" cy="497.2"/>
<circle cx="577.7" cy="479.8"/>
<circle cx="511.9" cy="504.5"/>
<circle cx="512.6" cy="509.3"/>
<circle cx="560.8" cy="495.4"/>
<circle cx="542.4" cy="506.5"/>
<circle cx="526.0" cy="498.2"/>
<circle cx="525.6" cy="498.3"/>
<circle cx="529.1" cy="498.1"/>
<circle cx="519.0" cy="516.4"/>
<circle cx="515.2" cy="516.8"/>
<circle cx="573.4" cy="469.8"/>
<circle cx="580.8" cy="465.5"/>
<circle cx="530.2" cy="492.6"/>
<circle cx="536.3" cy="493.2"/>
<circle cx="550.2" cy="493.3"/>
<circle cx="584.1" cy="470.9"/>
<circle cx="600.2" cy="486.2"/>
<circle cx="518.0" cy="499.7"/>
<circle cx="591.1" cy="460.3"/>
<circle cx="516.6" cy="515.8"/>
<circle cx="578.7" cy="470.9"/>
<circle cx="547.2" cy="491.3"/>
<circle cx="542.1" cy="498.3"/>
<circle cx="555.5" cy="487.0"/>
<circle cx="537.2" cy="500.4"/>
<circle cx="555.5" cy="482.0"/>
<circle cx="565.8" cy="474.1"/>
<circle cx="563.9" cy="478.9"/>
<circle cx="515.5" cy="511.7"/>
<circle cx="550.1" cy="495.6"/>
<circle cx="528.2" cy="498.4"/>
<circle cx="522.6" cy="500.7"/>
<circle cx="536.5" cy="500.7"/>
<circle cx="567.7" cy="478.6"/>
<circle cx="542.7" cy="492.3"/>
<circle cx="537.7" cy="506.1"/>
<circle cx="538.4" cy="491.5"/>
<circle cx="545.4" cy="503.1"/>
<circle cx="574.4" cy="482.0"/>
<circle cx="590.6" cy="471.1"/>
<circle cx="592.1" cy="460.5"/>
<circle cx="558.9" cy="479.0"/>
<circle cx="514.9" cy="513.5"/>
<circle cx="578.0" cy="468.7"/>
<circle cx="520.9" cy="509.6"/>
<circle cx="533.5" cy="512.7"/>
<circle cx="532.1" cy="515.1"/>
<circle cx="570.2" cy="488.0"/>
<circle cx="576.8" cy="473.1"/>
<circle cx="583.6" cy="474.2"/>
<circle cx="555.4" cy="487.9"/>
<circle cx="536.0" cy="492.8"/>
<circle cx="582.4" cy="469.2"/>
<circle cx="517.6" cy="505.0"/>
<circle cx="537.8" cy="492.1"/>
<circle cx="519.0" cy="500.1"/>
<circle cx="535.9" cy="493.7"/>
<circle cx="520.3" cy="522.0"/>
<circle cx="591.6" cy="477.7"/>
<circle cx="533.9" cy="498.9"/>
<circle cx="569.4" cy="471.3"/>
<circle cx="574.1" cy="473.1"/>
<circle cx="556.9" cy="504.8"/>
<circle cx="574.0" cy="469.5"/>
<circle cx="558.0" cy="487.7"/>
<circle cx="531.5" cy="496.7"/>
<circle cx="589.7" cy="466.1"/>
<circle cx="582.8" cy="469.5"/>
<circle cx="549.2" cy="501.0"/>
<circle cx="542.7" cy="494.1"/>
<circle cx="547.2" cy="489.3"/>
<circle cx="566.5" cy="482.3"/>
<circle cx="522.6" cy="527.5"/>
<circle cx="546.5" cy="493.8"/>
<circle cx="581.9" cy="467.1"/>
<circle cx="538.0" cy="506.8"/>
<circle cx="587.9" cy="466.5"/>
<circle cx="549.4" cy="488.6"/>
<circle cx="597.0" cy="471.5"/>
<circle cx="594.2" cy="462.2"/>
<circle cx="579.8" cy="468.1"/>
<circle cx="576.9" cy="480.1"/>
<circle cx="564.9" cy="476.1"/>
<circle cx="529.3" cy="499.0"/>
<circle cx="514.8" cy="509.9"/>
<circle cx="556.9" cy="488.8"/>
<circle cx="567.3" cy="481.7"/>
<circle cx="562.3" cy="484.8"/>
<circle cx="573.9" cy="481.3"/>
<circle cx="534.7" cy="495.4"/>
<circle cx="591.8" cy="476.8"/>
<circle cx="556.5" cy="485.0"/>
<circle cx="530.8" cy="504.9"/>
<circle cx="528.3" cy="497.5"/>
<circle cx="594.9" cy="465.4"/>
<circle cx="591.7" cy="458.9"/>
<circle cx="532.0" cy="503.5"/>
<circle cx="546.3" cy="487.1"/>
<circle cx="583.0" cy="471.1"/>
<circle cx="579.2" cy="471.3"/>
<circle cx="596.0" cy="464.9"/>
<circle cx="544.3" cy="487.7"/>
<circle cx="592.0" cy="467.7"/>
<circle cx="591.9" cy="462.4"/>
<circle cx="521.0" cy="507.0"/>
<circle cx="581.9" cy="468.8"/>
<circle cx="549.2" cy="486.0"/>
<circle cx="542.4" cy="498.7"/>
<circle cx="585.0" cy="473.2"/>
<circle cx="526.6" cy="500.6"/>
<circle cx="582.3" cy="469.9"/>
<circle cx="549.9" cy="489.3"/>
<circle cx="544.9" cy="503.7"/>
<circle cx="532.8" cy="505.8"/>
<circle cx="567.2" cy="477.6"/>
<circle cx="545.8" cy="499.8"/>
<circle cx="515.9" cy="508.9"/>
<circle cx="584.1" cy="472.9"/>
<circle cx="530.0" cy="499.0"/>
<circle cx="574.0" cy="474.0"/>
<circle cx="524.7" cy="500.8"/>
<circle cx="564.3" cy="483.3"/>
<circle cx="570.3" cy="481.9"/>
<circle cx="594.9" cy="471.3"/>
<circle cx="554.9" cy="483.2"/>
<circle cx="561.4" cy="477.4"/>
<circle cx="523.0" cy="501.7"/>
<circle cx="549.5" cy="491.4"/>
<circle cx="575.4" cy="468.2"/>
<circle cx="599.9" cy="469.6"/>
<circle cx="577.0" cy="468.9"/>
<circle cx="555.3" cy="483.2"/>
<circle cx="544.7" cy="494.4"/>
<circle cx="515.7" cy="507.2"/>
<circle cx="584.4" cy="467.8"/>
<circle cx="511.0" cy="508.3"/>
<circle cx="515.3" cy="512.6"/>
<circle cx="591.8" cy="465.8"/>
<circle cx="518.6" cy="500.6"/>
<circle cx="588.0" cy="475.2"/>
<circle cx="560.3" cy="477.1"/>
<circle cx="535.2" cy="509.6"/>
<circle cx="568.7" cy="477.8"/>
<circle cx="526.3" cy="512.3"/>
<circle cx="532.9" cy="497.4"/>
<circle cx="522.1" cy="506.4"/>
<circle cx="560.7" cy="484.8"/>
<circle cx="545.1" cy="487.4"/>
<circle cx="521.9" cy="502.0"/>
<circle cx="518.8" cy="502.8"/>
<circle cx="541.5" cy="492.3"/>
<circle cx="543.0" cy="498.9"/>
<circle cx="563.2" cy="471.3"/>
<circle cx="560.7" cy="474.5"/>
<circle cx="542.4" cy="518.4"/>
<circle cx="552.6" cy="489.1"/>
<circle cx="525.6" cy="498.0"/>
<circle cx="596.3" cy="464.2"/>
<circle cx="551.3" cy="487.8"/>
<circle cx="558.5" cy="482.8"/>
<circle cx="542.8" cy="495.1"/>
<circle cx="519.8" cy="510.7"/>
<circle cx="517.3" cy="503.6"/>
<circle cx="533.4" cy="497.7"/>
<circle cx="572.3" cy="481.0"/>
<circle cx="557.7" cy="482.5"/>
<circle cx="583.8" cy="467.6"/>
<circle cx="522.4" cy="502.2"/>
<circle cx="554.4" cy="494.0"/>
<circle cx="534.3" cy="506.4"/>
<circle cx="531.6" cy="503.7"/>
<circle cx="536.6" cy="494.4"/>
<circle cx="509.9" cy="504.8"/>
<circle cx="588.5" cy="474.7"/>
<circle cx="524.7" cy="520.0"/>
<circle cx="567.8" cy="476.0"/>
<circle cx="510.4" cy="508.8"/>
<circle cx="568.1" cy="488.6"/>
<circle cx="554.3" cy="484.1"/>
<circle cx="567.7" cy="480.8"/>
<circle cx="574.0" cy="469.6"/>
<circle cx="544.2" cy="486.5"/>
<circle cx="592.8" cy="461.7"/>
<circle cx="595.6" cy="459.4"/>
<circle cx="541.8" cy="493.2"/>
<circle cx="534.3" cy="495.1"/>
<circle cx="520.1" cy="506.3"/>
<circle cx="596.4" cy="472.7"/>
<circle cx="574.5" cy="492.9"/>
<circle cx="535.5" cy="495.3"/>
<circle cx="589.1" cy="465.7"/>
<circle cx="545.0" cy="511.9"/>
<circle cx="524.5" cy="505.3"/>
<circle cx="534.2" cy="494.4"/>
<circle cx="597.2" cy="466.2"/>
<circle cx="531.6" cy="499.0"/>
<circle cx="561.1" cy="477.6"/>
<circle cx="512.8" cy="508.6"/>
<circle cx="589.0" cy="466.7"/>
<circle cx="588.7" cy="480.5"/>
<circle cx="549.6" cy="488.0"/>
<circle cx="565.2" cy="477.4"/>
<circle cx="513.9" cy="502.9"/>
<circle cx="548.4" cy="488.1"/>
<circle cx="603.8" cy="478.5"/>
<circle cx="525.2" cy="514.1"/>
<circle cx="554.1" cy="494.5"/>
<circle cx="545.1" cy="490.1"/>
<circle cx="578.5" cy="480.9"/>
<circle cx="520.2" cy="498.6"/>
<circle cx="551.9" cy="491.8"/>
<circle cx="580.5" cy="469.2"/>
<circle cx="595.8" cy="460.7"/>
<circle cx="583.7" cy="461.4"/>
<circle cx="519.1" cy="509.5"/>
<circle cx="524.0" cy="516.6"/>
<circle cx="542.4" cy="503.2"/>
<circle cx="549.1" cy="485.5"/>
<circle cx="590.1" cy="470.2"/>
<circle cx="519.3" cy="504.6"/>
<circle cx="584.2" cy="467.2"/>
<circle cx="590.3" cy="478.9"/>
<circle cx="574.9" cy="482.3"/>
<circle cx="535.1" cy="501.2"/>
<circle cx="556.2" cy="481.6"/>
<circle cx="530.7" cy="504.6"/>
<circle cx="552.6" cy="490.8"/>
<circle cx="568.5" cy="476.2"/>
<circle cx="518.4" cy="497.9"/>
<circle cx="530.6" cy="497.0"/>
<circle cx="587.5" cy="463.7"/>
<circle cx="595.3" cy="461.5"/>
<circle cx="585.9" cy="480.1"/>
<circle cx="532.8" cy="497.3"/>
<circle cx="535.5" cy="495.8"/>
<circle cx="516.2" cy="518.0"/>
<circle cx="590.4" cy="464.5"/>
<circle cx="527.0" cy="499.0"/>
<circle cx="565.1" cy="474.3"/>
<circle cx="577.8" cy="472.1"/>
<circle cx="600.2" cy="470.9"/>
<circle cx="523.9" cy="497.8"/>
<circle cx="573.6" cy="478.5"/>
<circle cx="540.8" cy="495.8"/>
<circle cx="555.4" cy="484.3"/>
<circle cx="588.9" cy="478.2"/>
<circle cx="521.6" cy="504.2"/>
<circle cx="591.9" cy="463.7"/>
<circle cx="539.1" cy="500.4"/>
<circle cx="575.3" cy="485.9"/>
<circle cx="529.3" cy="509.8"/>
<circle cx="587.4" cy="466.7"/>
<circle cx="574.7" cy="477.6"/>
<circle cx="598.9" cy="466.2"/>
<circle cx="561.8" cy="478.9"/>
<circle cx="510.3" cy="508.0"/>
<circle cx="562.6" cy="482.7"/>
<circle cx="563.7" cy="479.9"/>
<circle cx="584.8" cy="473.5"/>
<circle cx="577.9" cy="471.5"/>
<circle cx="546.2" cy="504.9"/>
<circle cx="587.9" cy="467.8"/>
<circle cx="567.5" cy="477.6"/>
<circle cx="567.1" cy="480.9"/>
<circle cx="549.6" cy="486.4"/>
<circle cx="523.5" cy="506.2"/>
<circle cx="514.9" cy="506.7"/>
<circle cx="584.4" cy="464.1"/>
<circle cx="551.3" cy="483.7"/>
<circle cx="567.9" cy="475.8"/>
<circle cx="551.4" cy="493.7"/>
<circle cx="596.9" cy="469.3"/>
<circle cx="560.4" cy="485.1"/>
<circle cx="598.7" cy="465.7"/>
<circle cx="557.8" cy="482.5"/>
<circle cx="535.7" cy="503.6"/>
<circle cx="579.4" cy="469.7"/>
<circle cx="590.6" cy="459.8"/>
<circle cx="587.2" cy="465.1"/>
<circle cx="556.7" cy="489.3"/>
<circle cx="550.8" cy="485.1"/>
<circle cx="564.7" cy="474.7"/>
<circle cx="522.9" cy="501.6"/>
<circle cx="527.9" cy="506.5"/>
<circle cx="536.2" cy="494.9"/>
<circle cx="534.6" cy="498.3"/>
<circle cx="545.0" cy="485.0"/>
<circle cx="556.8" cy="481.7"/>
<circle cx="580.8" cy="480.1"/>
<circle cx="587.7" cy="467.7"/>
<circle cx="520.5" cy="507.3"/>
<circle cx="533.2" cy="494.3"/>
<circle cx="589.3" cy="464.3"/>
<circle cx="594.5" cy="462.2"/>
<circle cx="568.9" cy="481.2"/>
<circle cx="586.6" cy="467.1"/>
<circle cx="517.3" cy="511.4"/>
<circle cx="518.2" cy="503.6"/>
<circle cx="575.8" cy="473.1"/>
<circle cx="584.5" cy="477.5"/>
<circle cx="564.9" cy="478.3"/>
<circle cx="592.9" cy="461.1"/>
<circle cx="584.6" cy="487.2"/>
<circle cx="561.6" cy="486.7"/>
<circle cx="515.8" cy="518.3"/>
<circle cx="597.3" cy="464.0"/>
<circle cx="517.4" cy="517.1"/>
<circle cx="574.1" cy="477.7"/>
<circle cx="526.0" cy="504.6"/>
<circle cx="529.8" cy="508.2"/>
<circle cx="513.8" cy="513.1"/>
<circle cx="537.3" cy="502.7"/>
<circle cx="586.3" cy="470.5"/>
<circle cx="577.4" cy="482.6"/>
<circle cx="579.9" cy="466.6"/>
<circle cx="552.8" cy="484.4"/>
<circle cx="525.8" cy="500.0"/>
<circle cx="533.6" cy="495.8"/>
<circle cx="519.4" cy="503.2"/>
<circle cx="550.6" cy="484.1"/>
<circle cx="574.0" cy="469.0"/>
<circle cx="517.7" cy="501.9"/>
<circle cx="519.2" cy="504.9"/>
<circle cx="578.1" cy="468.0"/>
<circle cx="567.7" cy="483.0"/>
<circle cx="585.1" cy="465.8"/>
<circle cx="539.9" cy="504.1"/>
<circle cx="524.5" cy="514.4"/>
<circle cx="537.4" cy="507.3"/>
<circle cx="593.1" cy="466.6"/>
<circle cx="582.7" cy="480.1"/>
<circle cx="554.2" cy="481.8"/>
<circle cx="526.2" cy="507.8"/>
<circle cx="546.5" cy="488.0"/>
<circle cx="598.6" cy="465.8"/>
<circle cx="517.7" cy="505.6"/>
<circle cx="546.1" cy="502.6"/>
<circle cx="526.5" cy="523.1"/>
<circle cx="547.7" cy="486.3"/>
<circle cx="534.6" cy="492.4"/>
<circle cx="584.5" cy="475.1"/>
<circle cx="546.9" cy="498.0"/>
<circle cx="519.9" cy="503.6"/>
<circle cx="591.9" cy="472.5"/>
<circle cx="585.0" cy="479.9"/>
<circle cx="553.8" cy="483.7"/>
<circle cx="514.1" cy="508.5"/>
<circle cx="568.2" cy="474.9"/>
<circle cx="565.4" cy="482.2"/>
<circle cx="586.5" cy="464.6"/>
<circle cx="592.7" cy="464.9"/>
<circle cx="589.4" cy="472.3"/>
<circle cx="563.7" cy="478.1"/>
<circle cx="565.0" cy="476.3"/>
<circle cx="514.2" cy="503.8"/>
<circle cx="578.0" cy="471.9"/>
<circle cx="526.4" cy="499.2"/>
<circle cx="534.6" cy="507.3"/>
<circle cx="539.1" cy="489.7"/>
<circle cx="516.7" cy="504.6"/>
<circle cx="568.9" cy="487.5"/>
<circle cx="519.8" cy="509.9"/>
<circle cx="515.5" cy="506.8"/>
<circle cx="510.9" cy="500.9"/>
<circle cx="579.0" cy="470.7"/>
<circle cx="566.8" cy="469.8"/>
<circle cx="538.1" cy="495.1"/>
<circle cx="589.4" cy="484.5"/>
<circle cx="579.4" cy="468.5"/>
<circle cx="593.7" cy="469.0"/>
<circle cx="587.4" cy="472.0"/>
<circle cx="535.1" cy="513.6"/>
<circle cx="573.0" cy="487.7"/>
<circle cx="594.9" cy="462.4"/>
<circle cx="547.0" cy="488.0"/>
<circle cx="548.9" cy="501.9"/>
<circle cx="509.9" cy="507.9"/>
<circle cx="523.1" cy="513.2"/>
<circle cx="527.4" cy="512.7"/>
<circle cx="532.7" cy="515.3"/>
<circle cx="553.5" cy="483.8"/>
<circle cx="572.4" cy="476.8"/>
<circle cx="511.9" cy="507.8"/>
<circle cx="559.2" cy="478.8"/>
<circle cx="585.3" cy="483.7"/>
<circle cx="553.4" cy="483.1"/>
<circle cx="538.0" cy="492.4"/>
<circle cx="575.0" cy="471.3"/>
<circle cx="582.6" cy="467.1"/>
<circle cx="583.9" cy="482.8"/>
<circle cx="570.1" cy="488.6"/>
<circle cx="579.9" cy="478.7"/>
<circle cx="584.0" cy="466.0"/>
<circle cx="546.0" cy="486.8"/>
<circle cx="531.7" cy="496.2"/>
<circle cx="510.9" cy="506.3"/>
<circle cx="564.0" cy="485.6"/>
<circle cx="560.8" cy="494.2"/>
<circle cx="534.8" cy="497.5"/>
<circle cx="534.4" cy="492.5"/>
<circle cx="545.3" cy="487.0"/>
<circle cx="579.0" cy="485.2"/>
<circle cx="541.5" cy="504.4"/>
<circle cx="532.4" cy="496.3"/>
<circle cx="552.3" cy="486.0"/>
<circle cx="530.9" cy="496.2"/>
<circle cx="539.3" cy="502.2"/>
<circle cx="584.0" cy="463.9"/>
<circle cx="560.5" cy="479.9"/>
<circle cx="577.1" cy="473.2"/>
<circle cx="517.7" cy="503.8"/>
<circle cx="571.3" cy="472.7"/>
<circle cx="580.8" cy="469.0"/>
<circle cx="540.7" cy="489.5"/>
<circle cx="555.5" cy="479.8"/>
<circle cx="578.1" cy="475.9"/>
<circle cx="480.2" cy="530.0"/>
<circle cx="508.8" cy="516.3"/>
<circle cx="495.5" cy="519.1"/>
<circle cx="486.4" cy="522.5"/>
<circle cx="511.4" cy="534.7"/>
<circle cx="489.2" cy="529.4"/>
<circle cx="504.6" cy="505.2"/>
<circle cx="493.9" cy="528.9"/>
<circle cx="518.7" cy="509.9"/>
<circle cx="517.0" cy="507.4"/>
<circle cx="514.3" cy="509.6"/>
<circle cx="510.1" cy="517.5"/>
<circle cx="501.7" cy="514.9"/>
<circle cx="498.2" cy="518.9"/>
<circle cx="504.2" cy="514.7"/>
<circle cx="464.5" cy="541.5"/>
<circle cx="500.9" cy="514.9"/>
<circle cx="498.3" cy="516.7"/>
<circle cx="495.2" cy="526.6"/>
<circle cx="474.7" cy="527.3"/>
<circle cx="485.3" cy="521.6"/>
<circle cx="493.4" cy="529.1"/>
<circle cx="499.3" cy="515.0"/>
<circle cx="513.3" cy="516.4"/>
<circle cx="474.7" cy="533.8"/>
<circle cx="492.4" cy="522.6"/>
<circle cx="488.0" cy="552.8"/>
<circle cx="503.9" cy="519.3"/>
<circle cx="459.0" cy="557.4"/>
<circle cx="470.8" cy="537.3"/>
<circle cx="488.8" cy="516.9"/>
<circle cx="454.4" cy="550.6"/>
<circle cx="494.1" cy="519.1"/>
<circle cx="496.2" cy="517.2"/>
<circle cx="507.8" cy="498.6"/>
<circle cx="494.2" cy="528.3"/>
<circle cx="505.8" cy="511.1"/>
<circle cx="485.7" cy="524.5"/>
<circle cx="510.5" cy="511.2"/>
<circle cx="501.6" cy="525.8"/>
<circle cx="492.2" cy="527.5"/>
<circle cx="506.1" cy="511.4"/>
<circle cx="482.0" cy="527.5"/>
<circle cx="497.0" cy="522.9"/>
<circle cx="478.5" cy="532.9"/>
<circle cx="474.6" cy="532.5"/>
<circle cx="449.7" cy="546.1"/>
<circle cx="488.7" cy="523.0"/>
<circle cx="481.9" cy="522.7"/>
<circle cx="499.0" cy="516.1"/>
<circle cx="520.7" cy="512.1"/>
<circle cx="474.2" cy="524.4"/>
<circle cx="516.9" cy="513.6"/>
<circle cx="516.2" cy="514.4"/>
<circle cx="488.4" cy="530.2"/>
<circle cx="497.2" cy="521.1"/>
<circle cx="488.6" cy="531.5"/>
<circle cx="516.6" cy="506.9"/>
<circle cx="517.9" cy="508.8"/>
<circle cx="516.1" cy="516.6"/>
<circle cx="505.5" cy="514.8"/>
<circle cx="464.3" cy="531.8"/>
<circle cx="510.4" cy="506.7"/>
<circle cx="463.8" cy="541.9"/>
<circle cx="495.2" cy="528.5"/>
<circle cx="465.4" cy="546.8"/>
<circle cx="474.2" cy="520.3"/>
<circle cx="469.7" cy="541.1"/>
<circle cx="514.2" cy="504.5"/>
<circle cx="492.0" cy="524.3"/>
<circle cx="509.1" cy="510.4"/>
<circle cx="479.8" cy="543.3"/>
<circle cx="489.2" cy="522.0"/>
<circle cx="491.3" cy="525.6"/>
<circle cx="497.0" cy="533.5"/>
<circle cx="510.2" cy="505.7"/>
<circle cx="482.6" cy="521.1"/>
<circle cx="471.6" cy="538.1"/>
<circle cx="508.9" cy="524.6"/>
<circle cx="498.4" cy="518.2"/>
<circle cx="499.9" cy="506.9"/>
<circle cx="496.0" cy="551.3"/>
<circle cx="501.0" cy="505.5"/>
<circle cx="500.2" cy="516.7"/>
<circle cx="500.1" cy="516.9"/>
<circle cx="485.7" cy="529.2"/>
<circle cx="485.6" cy="525.4"/>
<circle cx="483.0" cy="524.4"/>
<circle cx="464.4" cy="560.4"/>
<circle cx="506.8" cy="511.5"/>
<circle cx="515.5" cy="514.0"/>
<circle cx="502.2" cy="508.2"/>
<circle cx="480.8" cy="518.5"/>
<circle cx="510.7" cy="517.7"/>
<circle cx="476.6" cy="536.2"/>
<circle cx="512.9" cy="506.4"/>
<circle cx="508.4" cy="510.1"/>
<circle cx="482.7" cy="536.3"/>
<circle cx="475.1" cy="543.6"/>
<circle cx="505.5" cy="511.5"/>
<circle cx="458.2" cy="547.1"/>
<circle cx="486.3" cy="522.7"/>
<circle cx="500.4" cy="515.2"/>
<circle cx="502.1" cy="510.9"/>
<circle cx="497.3" cy="521.1"/>
<circle cx="482.4" cy="535.6"/>
<circle cx="495.0" cy="525.5"/>
<circle cx="455.5" cy="553.2"/>
<circle cx="449.9" cy="540.4"/>
<circle cx="510.8" cy="516.2"/>
<circle cx="474.3" cy="551.6"/>
<circle cx="510.7" cy="521.8"/>
<circle cx="474.2" cy="536.3"/>
<circle cx="510.5" cy="504.1"/>
<circle cx="513.1" cy="517.4"/>
<circle cx="491.6" cy="535.4"/>
<circle cx="507.5" cy="514.5"/>
<circle cx="503.8" cy="520.7"/>
<circle cx="511.9" cy="506.9"/>
<circle cx="475.6" cy="537.9"/>
<circle cx="509.4" cy="516.6"/>
<circle cx="511.5" cy="507.8"/>
<circle cx="500.5" cy="513.6"/>
<circle cx="500.0" cy="523.4"/>
<circle cx="473.7" cy="529.0"/>
<circle cx="514.1" cy="516.8"/>
<circle cx="506.6" cy="511.1"/>
<circle cx="463.7" cy="550.5"/>
<circle cx="501.3" cy="517.8"/>
<circle cx="488.9" cy="524.1"/>
<circle cx="494.4" cy="519.9"/>
<circle cx="513.2" cy="508.9"/>
<circle cx="462.5" cy="561.8"/>
<circle cx="502.9" cy="518.4"/>
<circle cx="511.1" cy="506.9"/>
<circle cx="482.4" cy="531.5"/>
<circle cx="489.6" cy="515.1"/>
<circle cx="467.8" cy="545.4"/>
<circle cx="506.7" cy="505.9"/>
<circle cx="492.2" cy="526.8"/>
<circle cx="462.3" cy="561.5"/>
<circle cx="491.2" cy="519.1"/>
<circle cx="519.6" cy="514.3"/>
<circle cx="516.0" cy="511.6"/>
<circle cx="478.3" cy="530.4"/>
<circle cx="492.2" cy="516.1"/>
<circle cx="452.8" cy="549.8"/>
<circle cx="501.6" cy="514.2"/>
<circle cx="502.5" cy="519.6"/>
<circle cx="502.8" cy="518.8"/>
<circle cx="509.0" cy="510.2"/>
<circle cx="490.6" cy="530.1"/>
<circle cx="508.2" cy="519.6"/>
<circle cx="481.8" cy="542.4"/>
<circle cx="484.4" cy="533.3"/>
<circle cx="481.3" cy="526.1"/>
<circle cx="494.8" cy="511.3"/>
<circle cx="503.0" cy="532.2"/>
<circle cx="495.0" cy="511.8"/>
<circle cx="500.9" cy="515.7"/>
<circle cx="513.0" cy="506.4"/>
<circle cx="497.4" cy="534.0"/>
<circle cx="513.7" cy="516.5"/>
<circle cx="510.7" cy="527.4"/>
<circle cx="486.2" cy="521.5"/>
<circle cx="507.6" cy="517.3"/>
<circle cx="486.4" cy="518.5"/>
<circle cx="511.6" cy="510.8"/>
<circle cx="454.6" cy="552.0"/>
<circle cx="473.5" cy="527.6"/>
<circle cx="511.3" cy="512.0"/>
<circle cx="510.0" cy="508.8"/>
<circle cx="494.4" cy="521.7"/>
<circle cx="523.6" cy="515.9"/>
<circle cx="509.3" cy="503.8"/>
<circle cx="502.3" cy="514.1"/>
<circle cx="460.4" cy="549.3"/>
<circle cx="512.3" cy="508.2"/>
<circle cx="487.7" cy="525.6"/>
<circle cx="512.3" cy="513.4"/>
<circle cx="505.1" cy="505.7"/>
<circle cx="504.9" cy="526.0"/>
<circle cx="500.7" cy="501.9"/>
<circle cx="498.9" cy="527.2"/>
<circle cx="513.9" cy="503.9"/>
<circle cx="490.0" cy="533.3"/>
<circle cx="514.9" cy="504.6"/>
<circle cx="513.7" cy="514.2"/>
<circle cx="508.1" cy="504.5"/>
<circle cx="500.9" cy="518.3"/>
<circle cx="503.5" cy="511.4"/>
<circle cx="494.1" cy="518.6"/>
<circle cx="497.6" cy="534.5"/>
<circle cx="494.5" cy="522.9"/>
<circle cx="494.3" cy="509.4"/>
<circle cx="475.7" cy="531.3"/>
<circle cx="487.7" cy="524.6"/>
<circle cx="488.4" cy="526.2"/>
<circle cx="504.6" cy="512.7"/>
<circle cx="490.3" cy="527.9"/>
<circle cx="495.7" cy="519.1"/>
<circle cx="494.3" cy="529.8"/>
<circle cx="481.7" cy="528.7"/>
<circle cx="476.1" cy="533.9"/>
<circle cx="516.4" cy="506.6"/>
<circle cx="470.3" cy="542.2"/>
<circle cx="494.5" cy="522.3"/>
<circle cx="500.9" cy="510.7"/>
<circle cx="511.6" cy="505.6"/>
<circle cx="507.8" cy="503.0"/>
<circle cx="497.2" cy="522.6"/>
<circle cx="497.1" cy="523.2"/>
<circle cx="481.1" cy="534.2"/>
<circle cx="515.8" cy="508.1"/>
<circle cx="487.4" cy="523.8"/>
<circle cx="481.8" cy="526.0"/>
<circle cx="472.8" cy="533.6"/>
<circle cx="510.8" cy="506.2"/>
<circle cx="500.3" cy="514.9"/>
<circle cx="507.6" cy="513.0"/>
<circle cx="505.8" cy="515.0"/>
<circle cx="507.3" cy="509.3"/>
<circle cx="513.2" cy="518.6"/>
<circle cx="482.0" cy="530.5"/>
<circle cx="502.5" cy="518.9"/>
<circle cx="484.5" cy="522.6"/>
<circle cx="514.8" cy="513.0"/>
<circle cx="499.1" cy="517.2"/>
<circle cx="503.1" cy="513.2"/>
<circle cx="504.6" cy="505.5"/>
<circle cx="477.8" cy="534.4"/>
<circle cx="471.8" cy="541.7"/>
<circle cx="465.5" cy="537.2"/>
<circle cx="507.9" cy="505.1"/>
<circle cx="510.1" cy="504.8"/>
<circle cx="489.0" cy="517.8"/>
<circle cx="508.4" cy="512.4"/>
<circle cx="510.2" cy="513.4"/>
<circle cx="513.5" cy="514.5"/>
<circle cx="490.6" cy="530.9"/>
<circle cx="501.3" cy="513.2"/>
<circle cx="498.3" cy="522.8"/>
<circle cx="515.9" cy="511.7"/>
<circle cx="491.9" cy="525.4"/>
<circle cx="492.3" cy="527.8"/>
<circle cx="479.0" cy="528.2"/>
<circle cx="486.6" cy="522.0"/>
<circle cx="480.7" cy="534.4"/>
<circle cx="499.5" cy="511.5"/>
<circle cx="476.3" cy="536.0"/>
<circle cx="506.9" cy="519.2"/>
<circle cx="495.0" cy="519.9"/>
<circle cx="503.3" cy="510.3"/>
<circle cx="496.3" cy="534.9"/>
<circle cx="498.2" cy="532.2"/>
<circle cx="487.9" cy="525.1"/>
<circle cx="507.5" cy="527.0"/>
<circle cx="498.0" cy="515.9"/>
<circle cx="499.6" cy="535.6"/>
<circle cx="488.1" cy="522.4"/>
<circle cx="514.2" cy="510.7"/>
<circle cx="513.3" cy="515.1"/>
<circle cx="517.8" cy="511.8"/>
<circle cx="507.3" cy="513.4"/>
<circle cx="502.9" cy="518.1"/>
<circle cx="490.0" cy="516.5"/>
<circle cx="505.5" cy="523.5"/>
<circle cx="493.4" cy="526.9"/>
<circle cx="509.4" cy="504.5"/>
<circle cx="494.1" cy="520.6"/>
<circle cx="492.1" cy="525.5"/>
<circle cx="504.6" cy="512.6"/>
<circle cx="484.8" cy="532.5"/>
<circle cx="491.6" cy="514.9"/>
<circle cx="497.1" cy="515.7"/>
<circle cx="469.6" cy="533.0"/>
<circle cx="502.6" cy="522.6"/>
<circle cx="458.4" cy="541.8"/>
<circle cx="510.7" cy="505.4"/>
<circle cx="484.2" cy="551.2"/>
<circle cx="508.9" cy="518.1"/>
<circle cx="501.1" cy="511.1"/>
<circle cx="498.3" cy="517.3"/>
<circle cx="492.8" cy="522.7"/>
<circle cx="480.0" cy="533.8"/>
<circle cx="515.6" cy="512.5"/>
<circle cx="512.8" cy="518.1"/>
<circle cx="502.2" cy="511.4"/>
<circle cx="493.0" cy="528.6"/>
<circle cx="501.8" cy="510.6"/>
<circle cx="502.1" cy="516.4"/>
<circle cx="509.1" cy="504.9"/>
<circle cx="499.2" cy="523.2"/>
<circle cx="493.4" cy="536.7"/>
<circle cx="495.7" cy="515.2"/>
<circle cx="499.3" cy="516.7"/>
<circle cx="499.5" cy="525.7"/>
<circle cx="506.9" cy="511.4"/>
<circle cx="473.3" cy="529.5"/>
<circle cx="505.8" cy="529.3"/>
<circle cx="470.7" cy="532.1"/>
<circle cx="506.4" cy="517.7"/>
<circle cx="470.7" cy="541.5"/>
<circle cx="476.3" cy="522.6"/>
<circle cx="490.0" cy="531.5"/>
<circle cx="486.7" cy="523.3"/>
<circle cx="498.6" cy="526.1"/>
<circle cx="481.2" cy="532.1"/>
<circle cx="500.1" cy="515.6"/>
<circle cx="507.8" cy="505.2"/>
<circle cx="464.8" cy="536.6"/>
<circle cx="482.3" cy="530.5"/>
<circle cx="492.4" cy="520.4"/>
<circle cx="495.8" cy="517.8"/>
<circle cx="497.7" cy="518.5"/>
<circle cx="513.5" cy="502.9"/>
<circle cx="512.1" cy="505.4"/>
<circle cx="488.9" cy="526.7"/>
<circle cx="489.0" cy="530.0"/>
<circle cx="505.4" cy="503.7"/>
<circle cx="506.7" cy="506.8"/>
<circle cx="493.6" cy="525.3"/>
<circle cx="506.3" cy="511.3"/>
<circle cx="477.7" cy="522.9"/>
<circle cx="498.0" cy="516.6"/>
<circle cx="487.3" cy="523.2"/>
<circle cx="513.5" cy="508.2"/>
<circle cx="488.2" cy="522.7"/>
<circle cx="499.6" cy="525.6"/>
<circle cx="486.4" cy="522.0"/>
<circle cx="497.7" cy="521.4"/>
<circle cx="508.8" cy="514.9"/>
<circle cx="493.2" cy="518.8"/>
<circle cx="461.4" cy="560.4"/>
<circle cx="479.4" cy="537.6"/>
<circle cx="502.9" cy="524.2"/>
<circle cx="478.1" cy="533.9"/>
<circle cx="509.7" cy="513.5"/>
<circle cx="508.1" cy="502.7"/>
<circle cx="502.5" cy="521.6"/>
<circle cx="479.6" cy="551.5"/>
<circle cx="482.5" cy="523.6"/>
<circle cx="491.3" cy="524.1"/>
<circle cx="506.7" cy="502.5"/>
<circle cx="515.7" cy="507.1"/>
<circle cx="489.1" cy="512.1"/>
<circle cx="482.6" cy="526.6"/>
<circle cx="497.9" cy="515.9"/>
<circle cx="516.8" cy="524.2"/>
<circle cx="512.2" cy="506.0"/>
<circle cx="500.1" cy="527.0"/>
<circle cx="484.2" cy="530.1"/>
<circle cx="475.6" cy="524.4"/>
<circle cx="490.1" cy="522.9"/>
<circle cx="477.7" cy="525.4"/>
<circle cx="502.3" cy="512.4"/>
<circle cx="504.5" cy="527.6"/>
<circle cx="490.8" cy="516.4"/>
<circle cx="494.8" cy="520.1"/>
<circle cx="489.9" cy="521.3"/>
<circle cx="454.9" cy="552.4"/>
<circle cx="488.6" cy="524.9"/>
<circle cx="500.4" cy="517.1"/>
<circle cx="503.3" cy="508.7"/>
<circle cx="490.3" cy="516.1"/>
<circle cx="513.2" cy="509.3"/>
<circle cx="507.1" cy="510.6"/>
<circle cx="486.9" cy="530.8"/>
<circle cx="500.4" cy="510.3"/>
<circle cx="501.3" cy="513.2"/>
<circle cx="490.7" cy="523.7"/>
<circle cx="507.5" cy="509.5"/>
<circle cx="477.5" cy="531.5"/>
<circle cx="494.3" cy="523.4"/>
<circle cx="515.8" cy="514.1"/>
<circle cx="489.6" cy="528.2"/>
<circle cx="509.9" cy="509.3"/>
<circle cx="484.4" cy="533.8"/>
<circle cx="493.4" cy="508.5"/>
<circle cx="484.6" cy="528.7"/>
<circle cx="503.2" cy="519.6"/>
<circle cx="509.4" cy="500.0"/>
<circle cx="512.2" cy="502.9"/>
<circle cx="455.5" cy="546.4"/>
<circle cx="503.0" cy="515.8"/>
<circle cx="498.8" cy="519.2"/>
<circle cx="511.4" cy="505.0"/>
<circle cx="509.3" cy="503.4"/>
<circle cx="499.4" cy="517.6"/>
<circle cx="493.3" cy="527.2"/>
<circle cx="503.6" cy="513.7"/>
<circle cx="512.7" cy="507.1"/>
<circle cx="452.1" cy="549.0"/>
<circle cx="468.5" cy="543.7"/>
<circle cx="478.9" cy="530.9"/>
<circle cx="474.5" cy="536.0"/>
<circle cx="502.9" cy="510.5"/>
<circle cx="492.6" cy="536.2"/>
<circle cx="504.9" cy="529.5"/>
<circle cx="489.4" cy="518.7"/>
<circle cx="491.5" cy="527.6"/>
<circle cx="510.9" cy="499.9"/>
<circle cx="502.7" cy="510.8"/>
<circle cx="467.4" cy="536.6"/>
<circle cx="479.1" cy="538.7"/>
<circle cx="491.8" cy="537.6"/>
<circle cx="494.8" cy="527.9"/>
<circle cx="488.1" cy="523.8"/>
<circle cx="510.2" cy="505.2"/>
<circle cx="496.3" cy="516.2"/>
<circle cx="484.2" cy="538.7"/>
<circle cx="484.1" cy="550.2"/>
<circle cx="505.2" cy="508.6"/>
<circle cx="508.7" cy="511.3"/>
<circle cx="498.5" cy="525.9"/>
<circle cx="481.4" cy="524.5"/>
<circle cx="506.9" cy="508.4"/>
<circle cx="473.4" cy="533.8"/>
<circle cx="490.2" cy="528.9"/>
<circle cx="508.8" cy="513.0"/>
<circle cx="513.3" cy="507.6"/>
<circle cx="501.2" cy="511.8"/>
<circle cx="510.7" cy="507.9"/>
<circle cx="499.0" cy="512.4"/>
<circle cx="510.7" cy="513.4"/>
<circle cx="470.0" cy="544.0"/>
<circle cx="506.1" cy="506.4"/>
<circle cx="517.9" cy="511.9"/>
<circle cx="467.8" cy="549.1"/>
<circle cx="481.8" cy="549.4"/>
<circle cx="465.7" cy="554.1"/>
<circle cx="501.8" cy="517.8"/>
<circle cx="482.0" cy="528.8"/>
<circle cx="513.1" cy="502.6"/>
<circle cx="497.8" cy="511.0"/>
<circle cx="483.3" cy="527.0"/>
<circle cx="514.0" cy="510.0"/>
<circle cx="505.3" cy="507.2"/>
<circle cx="497.3" cy="513.5"/>
<circle cx="510.7" cy="505.4"/>
<circle cx="486.0" cy="526.6"/>
<circle cx="499.6" cy="512.3"/>
<circle cx="468.8" cy="540.4"/>
<circle cx="495.7" cy="529.4"/>
<circle cx="484.2" cy="527.6"/>
<circle cx="506.2" cy="513.3"/>
<circle cx="508.2" cy="514.8"/>
<circle cx="498.6" cy="526.5"/>
<circle cx="500.7" cy="529.2"/>
<circle cx="465.4" cy="543.1"/>
<circle cx="500.5" cy="516.7"/>
<circle cx="511.2" cy="516.5"/>
<circle cx="497.6" cy="525.3"/>
<circle cx="485.4" cy="529.0"/>
<circle cx="510.6" cy="515.9"/>
<circle cx="477.5" cy="521.3"/>
<circle cx="470.4" cy="534.9"/>
<circle cx="506.2" cy="511.2"/>
<circle cx="484.4" cy="536.7"/>
<circle cx="491.9" cy="535.9"/>
<circle cx="502.9" cy="513.7"/>
<circle cx="486.8" cy="537.4"/>
<circle cx="503.1" cy="504.5"/>
<circle cx="501.4" cy="519.8"/>
<circle cx="506.2" cy="519.7"/>
<circle cx="456.3" cy="554.1"/>
<circle cx="509.7" cy="516.2"/>
<circle cx="463.4" cy="532.3"/>
<circle cx="508.0" cy="522.2"/>
<circle cx="509.4" cy="500.4"/>
<circle cx="498.3" cy="511.1"/>
<circle cx="496.6" cy="528.8"/>
<circle cx="502.3" cy="508.9"/>
<circle cx="501.5" cy="514.2"/>
<circle cx="506.1" cy="509.2"/>
<circle cx="499.9" cy="511.8"/>
<circle cx="499.1" cy="528.0"/>
<circle cx="489.6" cy="518.0"/>
<circle cx="501.6" cy="527.1"/>
<circle cx="506.1" cy="521.7"/>
<circle cx="495.6" cy="521.8"/>
<circle cx="506.5" cy="507.9"/>
<circle cx="508.2" cy="501.1"/>
<circle cx="474.6" cy="530.6"/>
<circle cx="510.0" cy="512.1"/>
<circle cx="512.8" cy="506.9"/>
<circle cx="494.0" cy="519.9"/>
<circle cx="499.3" cy="523.9"/>
<circle cx="481.3" cy="532.3"/>
<circle cx="470.3" cy="541.1"/>
<circle cx="510.2" cy="501.7"/>
<circle cx="474.9" cy="528.7"/>
<circle cx="479.6" cy="523.2"/>
<circle cx="491.9" cy="512.4"/>
<circle cx="498.0" cy="511.3"/>
<circle cx="506.1" cy="507.8"/>
<circle cx="509.6" cy="511.1"/>
<circle cx="487.0" cy="524.0"/>
<circle cx="507.6" cy="505.7"/>
<circle cx="501.6" cy="505.7"/>
<circle cx="470.9" cy="552.4"/>
<circle cx="474.0" cy="532.8"/>
<circle cx="506.7" cy="516.0"/>
<circle cx="502.1" cy="524.1"/>
<circle cx="483.8" cy="523.2"/>
<circle cx="512.2" cy="506.4"/>
<circle cx="501.1" cy="515.4"/>
<circle cx="466.8" cy="540.7"/>
<circle cx="455.6" cy="553.3"/>
<circle cx="486.1" cy="528.0"/>
<circle cx="506.6" cy="512.0"/>
<circle cx="511.1" cy="514.5"/>
<circle cx="496.9" cy="508.8"/>
<circle cx="496.7" cy="524.3"/>
<circle cx="502.8" cy="514.1"/>
<circle cx="498.9" cy="521.1"/>
<circle cx="494.7" cy="533.4"/>
<circle cx="455.7" cy="553.4"/>
<circle cx="493.2" cy="532.1"/>
<circle cx="478.4" cy="528.8"/>
<circle cx="471.3" cy="531.3"/>
<circle cx="498.0" cy="512.3"/>
<circle cx="500.5" cy="514.1"/>
<circle cx="472.8" cy="542.0"/>
<circle cx="476.0" cy="522.9"/>
<circle cx="504.4" cy="510.6"/>
<circle cx="492.2" cy="523.4"/>
<circle cx="487.7" cy="533.5"/>
<circle cx="499.0" cy="511.3"/>
<circle cx="509.0" cy="509.7"/>
<circle cx="483.9" cy="530.5"/>
<circle cx="507.9" cy="524.9"/>
<circle cx="515.2" cy="506.4"/>
<circle cx="480.8" cy="528.2"/>
<circle cx="505.4" cy="507.7"/>
<circle cx="467.5" cy="536.6"/>
<circle cx="477.9" cy="526.7"/>
<circle cx="478.9" cy="543.4"/>
<circle cx="489.8" cy="520.0"/>
<circle cx="458.7" cy="545.1"/>
<circle cx="509.1" cy="505.1"/>
<circle cx="453.9" cy="548.3"/>
<circle cx="474.7" cy="538.2"/>
<circle cx="511.3" cy="505.7"/>
<circle cx="486.2" cy="516.1"/>
<circle cx="495.5" cy="536.5"/>
<circle cx="474.8" cy="549.7"/>
<circle cx="467.8" cy="556.8"/>
<circle cx="513.9" cy="514.9"/>
<circle cx="481.9" cy="522.8"/>
<circle cx="500.5" cy="510.7"/>
<circle cx="465.0" cy="555.8"/>
<circle cx="493.3" cy="524.5"/>
<circle cx="484.4" cy="539.1"/>
<circle cx="501.4" cy="514.0"/>
<circle cx="486.9" cy="522.9"/>
<circle cx="512.0" cy="503.6"/>
<circle cx="488.7" cy="531.0"/>
<circle cx="512.6" cy="514.0"/>
<circle cx="492.2" cy="515.9"/>
<circle cx="512.6" cy="501.8"/>
<circle cx="477.7" cy="535.8"/>
<circle cx="506.5" cy="514.6"/>
<circle cx="503.8" cy="518.9"/>
<circle cx="508.8" cy="511.5"/>
<circle cx="498.5" cy="533.2"/>
<circle cx="497.4" cy="507.3"/>
<circle cx="478.9" cy="546.2"/>
<circle cx="477.1" cy="544.0"/>
<circle cx="478.1" cy="532.5"/>
<circle cx="504.6" cy="523.7"/>
<circle cx="499.5" cy="522.0"/>
<circle cx="500.8" cy="516.4"/>
<circle cx="477.6" cy="546.8"/>
<circle cx="507.8" cy="506.9"/>
<circle cx="505.2" cy="519.9"/>
<circle cx="494.2" cy="515.2"/>
<circle cx="509.5" cy="516.0"/>
<circle cx="496.2" cy="527.6"/>
<circle cx="507.9" cy="509.9"/>
<circle cx="465.9" cy="544.1"/>
<circle cx="505.7" cy="526.1"/>
<circle cx="503.2" cy="517.3"/>
<circle cx="492.3" cy="516.8"/>
<circle cx="491.0" cy="536.3"/>
<circle cx="480.1" cy="522.7"/>
<circle cx="518.6" cy="511.7"/>
<circle cx="494.6" cy="522.1"/>
<circle cx="512.5" cy="505.2"/>
<circle cx="493.4" cy="506.9"/>
<circle cx="484.3" cy="527.7"/>
<circle cx="517.8" cy="515.5"/>
<circle cx="463.2" cy="562.6"/>
<circle cx="508.7" cy="504.1"/>
<circle cx="512.8" cy="514.7"/>
<circle cx="511.2" cy="509.9"/>
<circle cx="481.4" cy="526.4"/>
<circle cx="502.4" cy="527.7"/>
<circle cx="505.7" cy="520.3"/>
<circle cx="506.2" cy="506.6"/>
<circle cx="481.1" cy="530.2"/>
<circle cx="505.2" cy="517.8"/>
<circle cx="500.6" cy="510.4"/>
<circle cx="499.3" cy="510.5"/>
<circle cx="506.1" cy="510.3"/>
<circle cx="475.5" cy="533.4"/>
<circle cx="510.8" cy="507.8"/>
<circle cx="465.5" cy="543.8"/>
<circle cx="511.3" cy="503.9"/>
<circle cx="511.3" cy="510.1"/>
<circle cx="508.5" cy="514.5"/>
<circle cx="494.5" cy="531.8"/>
<circle cx="508.3" cy="513.0"/>
<circle cx="512.3" cy="504.8"/>
<circle cx="498.5" cy="512.2"/>
<circle cx="514.8" cy="512.1"/>
<circle cx="502.1" cy="512.8"/>
<circle cx="487.0" cy="519.6"/>
<circle cx="487.2" cy="529.1"/>
<circle cx="480.0" cy="549.5"/>
<circle cx="496.5" cy="520.4"/>
<circle cx="502.2" cy="522.6"/>
<circle cx="512.6" cy="521.7"/>
<circle cx="512.1" cy="510.7"/>
<circle cx="497.5" cy="528.5"/>
<circle cx="505.8" cy="516.4"/>
<circle cx="471.4" cy="534.6"/>
<circle cx="461.4" cy="534.8"/>
<circle cx="495.8" cy="518.6"/>
<circle cx="506.8" cy="515.5"/>
<circle cx="486.9" cy="523.4"/>
<circle cx="483.6" cy="527.2"/>
<circle cx="493.1" cy="529.4"/>
<circle cx="497.2" cy="525.3"/>
<circle cx="495.5" cy="533.1"/>
<circle cx="503.6" cy="510.1"/>
<circle cx="515.5" cy="506.2"/>
<circle cx="512.4" cy="504.2"/>
<circle cx="472.3" cy="536.6"/>
<circle cx="506.1" cy="512.2"/>
<circle cx="504.7" cy="504.6"/>
<circle cx="473.5" cy="554.7"/>
<circle cx="517.6" cy="511.1"/>
<circle cx="516.2" cy="510.0"/>
<circle cx="508.5" cy="502.1"/>
<circle cx="498.6" cy="515.3"/>
<circle cx="491.9" cy="512.0"/>
<circle cx="511.2" cy="512.5"/>
<circle cx="504.1" cy="509.6"/>
<circle cx="473.6" cy="537.4"/>
<circle cx="506.1" cy="511.3"/>
<circle cx="495.2" cy="522.5"/>
<circle cx="487.9" cy="520.4"/>
<circle cx="468.8" cy="544.4"/>
<circle cx="500.6" cy="516.6"/>
<circle cx="504.4" cy="512.6"/>
<circle cx="494.0" cy="519.2"/>
<circle cx="514.4" cy="508.2"/>
<circle cx="512.8" cy="509.3"/>
<circle cx="498.9" cy="516.7"/>
<circle cx="466.2" cy="540.2"/>
<circle cx="515.7" cy="506.4"/>
<circle cx="510.8" cy="502.6"/>
<circle cx="512.5" cy="502.2"/>
<circle cx="512.6" cy="510.9"/>
<circle cx="497.1" cy="519.6"/>
<circle cx="510.9" cy="525.0"/>
<circle cx="518.2" cy="515.3"/>
<circle cx="496.5" cy="522.2"/>
<circle cx="474.0" cy="532.8"/>
<circle cx="489.7" cy="534.4"/>
<circle cx="480.6" cy="541.1"/>
<circle cx="503.2" cy="511.9"/>
<circle cx="510.0" cy="515.7"/>
<circle cx="501.1" cy="507.4"/>
<circle cx="484.6" cy="522.6"/>
<circle cx="480.4" cy="530.3"/>
<circle cx="485.0" cy="521.6"/>
<circle cx="520.9" cy="513.1"/>
<circle cx="505.2" cy="512.0"/>
<circle cx="490.3" cy="516.0"/>
<circle cx="477.6" cy="527.0"/>
<circle cx="515.8" cy="511.3"/>
<circle cx="499.6" cy="516.6"/>
<circle cx="491.3" cy="525.5"/>
<circle cx="491.0" cy="534.7"/>
<circle cx="474.6" cy="528.7"/>
<circle cx="508.5" cy="511.0"/>
<circle cx="505.5" cy="503.7"/>
<circle cx="515.3" cy="514.0"/>
<circle cx="490.1" cy="521.2"/>
<circle cx="511.7" cy="507.3"/>
<circle cx="494.0" cy="518.2"/>
<circle cx="494.8" cy="513.4"/>
<circle cx="504.0" cy="529.5"/>
<circle cx="508.2" cy="515.2"/>
<circle cx="492.8" cy="516.5"/>
<circle cx="506.4" cy="524.0"/>
<circle cx="489.7" cy="524.6"/>
<circle cx="494.3" cy="518.1"/>
<circle cx="484.8" cy="526.0"/>
<circle cx="513.6" cy="508.0"/>
<circle cx="505.4" cy="508.0"/>
<circle cx="502.8" cy="510.9"/>
<circle cx="508.8" cy="518.9"/>
<circle cx="491.7" cy="511.5"/>
<circle cx="490.9" cy="531.5"/>
<circle cx="495.9" cy="527.6"/>
<circle cx="494.1" cy="531.3"/>
<circle cx="468.2" cy="534.6"/>
<circle cx="492.0" cy="521.1"/>
<circle cx="507.3" cy="518.9"/>
<circle cx="501.4" cy="511.8"/>
<circle cx="501.1" cy="509.8"/>
<circle cx="503.1" cy="507.6"/>
<circle cx="472.9" cy="548.1"/>
<circle cx="506.9" cy="511.3"/>
<circle cx="495.4" cy="521.4"/>
<circle cx="484.7" cy="531.8"/>
<circle cx="461.7" cy="556.4"/>
<circle cx="486.0" cy="522.8"/>
<circle cx="509.8" cy="523.4"/>
<circle cx="511.6" cy="515.1"/>
<circle cx="483.4" cy="536.3"/>
<circle cx="488.1" cy="524.5"/>
<circle cx="511.3" cy="501.1"/>
<circle cx="453.0" cy="547.7"/>
<circle cx="510.1" cy="522.5"/>
<circle cx="484.4" cy="515.5"/>
<circle cx="508.5" cy="519.0"/>
<circle cx="491.0" cy="525.1"/>
<circle cx="495.6" cy="516.8"/>
<circle cx="476.9" cy="546.5"/>
<circle cx="492.3" cy="516.7"/>
<circle cx="496.8" cy="522.4"/>
<circle cx="509.4" cy="512.0"/>
<circle cx="482.0" cy="527.7"/>
<circle cx="503.3" cy="525.3"/>
<circle cx="512.0" cy="502.6"/>
<circle cx="502.7" cy="524.5"/>
<circle cx="503.8" cy="511.8"/>
<circle cx="510.8" cy="514.6"/>
<circle cx="508.8" cy="509.3"/>
<circle cx="493.0" cy="509.3"/>
<circle cx="499.0" cy="517.8"/>
<circle cx="506.5" cy="538.8"/>
<circle cx="510.5" cy="513.7"/>
<circle cx="505.8" cy="509.0"/>
<circle cx="495.8" cy="519.1"/>
<circle cx="519.2" cy="514.5"/>
<circle cx="503.5" cy="511.8"/>
<circle cx="487.1" cy="522.7"/>
<circle cx="497.8" cy="521.7"/>
<circle cx="505.2" cy="517.2"/>
<circle cx="489.3" cy="532.5"/>
<circle cx="464.3" cy="534.7"/>
<circle cx="512.8" cy="505.8"/>
<circle cx="484.2" cy="537.7"/>
<circle cx="507.3" cy="521.2"/>
<circle cx="513.9" cy="519.2"/>
<circle cx="498.9" cy="516.4"/>
<circle cx="500.0" cy="520.8"/>
<circle cx="475.8" cy="532.2"/>
<circle cx="500.6" cy="518.3"/>
<circle cx="497.2" cy="518.2"/>
<circle cx="511.7" cy="507.0"/>
<circle cx="505.9" cy="518.0"/>
<circle cx="506.1" cy="531.8"/>
<circle cx="506.9" cy="511.4"/>
<circle cx="468.3" cy="543.8"/>
<circle cx="483.0" cy="523.2"/>
<circle cx="499.6" cy="514.4"/>
<circle cx="471.3" cy="538.3"/>
<circle cx="499.8" cy="528.5"/>
<circle cx="501.6" cy="511.5"/>
<circle cx="489.0" cy="525.4"/>
<circle cx="466.4" cy="544.9"/>
<circle cx="479.7" cy="534.9"/>
<circle cx="500.8" cy="517.6"/>
<circle cx="503.7" cy="519.3"/>
<circle cx="507.1" cy="510.1"/>
<circle cx="501.5" cy="530.7"/>
<circle cx="511.2" cy="518.3"/>
<circle cx="493.5" cy="522.0"/>
<circle cx="518.3" cy="513.3"/>
<circle cx="508.2" cy="518.6"/>
<circle cx="481.6" cy="540.3"/>
<circle cx="483.3" cy="551.0"/>
<circle cx="509.6" cy="516.8"/>
<circle cx="500.1" cy="517.4"/>
<circle cx="487.0" cy="522.5"/>
<circle cx="507.9" cy="509.5"/>
<circle cx="508.9" cy="509.7"/>
<circle cx="485.1" cy="539.6"/>
<circle cx="466.5" cy="543.6"/>
<circle cx="503.6" cy="516.9"/>
<circle cx="491.0" cy="516.8"/>
<circle cx="496.9" cy="518.8"/>
<circle cx="503.2" cy="518.0"/>
<circle cx="508.4" cy="506.8"/>
<circle cx="514.8" cy="513.9"/>
<circle cx="475.6" cy="539.7"/>
<circle cx="512.9" cy="506.4"/>
<circle cx="510.5" cy="512.6"/>
<circle cx="518.4" cy="512.2"/>
<circle cx="517.6" cy="519.5"/>
<circle cx="478.2" cy="552.3"/>
<circle cx="504.8" cy="507.2"/>
<circle cx="493.0" cy="520.5"/>
<circle cx="510.0" cy="509.2"/>
<circle cx="481.3" cy="532.1"/>
<circle cx="508.4" cy="509.1"/>
<circle cx="501.1" cy="517.4"/>
<circle cx="474.5" cy="534.9"/>
<circle cx="506.2" cy="510.1"/>
<circle cx="495.4" cy="518.9"/>
<circle cx="486.9" cy="514.7"/>
<circle cx="468.1" cy="535.4"/>
<circle cx="452.5" cy="549.5"/>
<circle cx="502.8" cy="516.7"/>
<circle cx="466.6" cy="533.3"/>
<circle cx="495.8" cy="515.5"/>
<circle cx="504.5" cy="513.8"/>
<circle cx="511.5" cy="506.0"/>
<circle cx="495.9" cy="521.5"/>
<circle cx="459.5" cy="558.0"/>
<circle cx="511.9" cy="506.4"/>
<circle cx="496.5" cy="514.1"/>
<circle cx="513.5" cy="510.0"/>
<circle cx="478.8" cy="537.6"/>
<circle cx="494.0" cy="525.1"/>
<circle cx="511.9" cy="511.8"/>
<circle cx="499.7" cy="516.4"/>
<circle cx="508.8" cy="509.7"/>
<circle cx="465.8" cy="548.7"/>
<circle cx="490.6" cy="547.2"/>
<circle cx="513.0" cy="509.1"/>
<circle cx="500.9" cy="507.0"/>
<circle cx="474.2" cy="534.6"/>
<circle cx="492.7" cy="536.2"/>
<circle cx="481.8" cy="514.6"/>
<circle cx="486.8" cy="525.8"/>
<circle cx="485.0" cy="529.8"/>
<circle cx="480.6" cy="546.3"/>
<circle cx="503.4" cy="508.8"/>
<circle cx="497.7" cy="526.3"/>
<circle cx="507.7" cy="506.8"/>
<circle cx="482.9" cy="549.4"/>
<circle cx="485.4" cy="537.9"/>
<circle cx="507.8" cy="513.9"/>
<circle cx="496.2" cy="535.3"/>
<circle cx="486.9" cy="523.6"/>
<circle cx="509.0" cy="509.5"/>
<circle cx="480.9" cy="541.8"/>
<circle cx="498.2" cy="522.2"/>
<circle cx="512.5" cy="519.4"/>
<circle cx="473.3" cy="535.7"/>
<circle cx="491.3" cy="526.8"/>
<circle cx="490.4" cy="524.5"/>
<circle cx="454.7" cy="547.6"/>
<circle cx="508.4" cy="507.2"/>
<circle cx="479.6" cy="531.6"/>
<circle cx="511.0" cy="505.1"/>
<circle cx="499.4" cy="518.0"/>
<circle cx="503.0" cy="523.2"/>
<circle cx="499.0" cy="519.3"/>
<circle cx="480.8" cy="518.9"/>
<circle cx="497.7" cy="531.1"/>
<circle cx="498.0" cy="528.0"/>
<circle cx="503.4" cy="516.1"/>
<circle cx="508.6" cy="504.2"/>
<circle cx="472.3" cy="528.6"/>
<circle cx="503.1" cy="515.0"/>
<circle cx="503.2" cy="508.6"/>
<circle cx="517.3" cy="511.6"/>
<circle cx="495.3" cy="518.5"/>
<circle cx="514.6" cy="521.9"/>
<circle cx="494.6" cy="540.4"/>
<circle cx="455.0" cy="552.6"/>
<circle cx="499.6" cy="504.2"/>
<circle cx="510.4" cy="506.3"/>
<circle cx="514.0" cy="507.2"/>
<circle cx="462.1" cy="552.2"/>
<circle cx="500.2" cy="509.8"/>
<circle cx="502.6" cy="521.9"/>
<circle cx="503.3" cy="526.4"/>
<circle cx="502.7" cy="515.0"/>
<circle cx="486.6" cy="522.4"/>
<circle cx="487.9" cy="526.9"/>
<circle cx="511.7" cy="509.4"/>
<circle cx="498.4" cy="524.6"/>
<circle cx="505.1" cy="515.3"/>
<circle cx="510.4" cy="512.6"/>
<circle cx="473.4" cy="537.1"/>
<circle cx="479.4" cy="525.3"/>
<circle cx="496.1" cy="521.8"/>
<circle cx="481.4" cy="532.5"/>
<circle cx="512.6" cy="512.3"/>
<circle cx="514.0" cy="507.5"/>
<circle cx="502.2" cy="517.0"/>
<circle cx="512.4" cy="510.2"/>
<circle cx="501.4" cy="522.0"/>
<circle cx="500.7" cy="518.5"/>
<circle cx="513.7" cy="503.2"/>
<circle cx="505.0" cy="523.0"/>
<circle cx="503.3" cy="519.4"/>
<circle cx="509.6" cy="508.3"/>
<circle cx="486.3" cy="526.5"/>
<circle cx="502.9" cy="518.6"/>
<circle cx="493.5" cy="518.2"/>
<circle cx="460.3" cy="557.2"/>
<circle cx="514.3" cy="510.3"/>
<circle cx="475.0" cy="548.3"/>
<circle cx="456.7" cy="548.4"/>
<circle cx="510.5" cy="521.0"/>
<circle cx="492.3" cy="521.2"/>
<circle cx="483.6" cy="518.6"/>
<circle cx="493.9" cy="513.4"/>
<circle cx="486.2" cy="532.1"/>
<circle cx="512.9" cy="505.7"/>
<circle cx="509.5" cy="506.7"/>
<circle cx="512.3" cy="510.6"/>
<circle cx="492.6" cy="524.0"/>
<circle cx="504.4" cy="521.0"/>
<circle cx="488.5" cy="532.5"/>
<circle cx="488.8" cy="523.2"/>
<circle cx="506.1" cy="513.8"/>
<circle cx="508.7" cy="514.8"/>
<circle cx="506.2" cy="505.0"/>
<circle cx="489.3" cy="528.4"/>
<circle cx="456.3" cy="554.1"/>
<circle cx="475.6" cy="539.5"/>
<circle cx="492.3" cy="515.3"/>
<circle cx="469.3" cy="570.0"/>
<circle cx="513.1" cy="506.5"/>
<circle cx="510.1" cy="515.4"/>
<circle cx="499.0" cy="527.6"/>
<circle cx="485.5" cy="527.3"/>
<circle cx="495.8" cy="522.1"/>
<circle cx="476.4" cy="536.7"/>
<circle cx="483.1" cy="517.3"/>
<circle cx="475.3" cy="536.5"/>
<circle cx="482.1" cy="541.6"/>
<circle cx="505.7" cy="512.3"/>
<circle cx="508.7" cy="506.4"/>
<circle cx="513.0" cy="509.3"/>
<circle cx="473.7" cy="534.5"/>
<circle cx="449.7" cy="546.0"/>
<circle cx="495.8" cy="524.8"/>
<circle cx="514.4" cy="506.2"/>
<circle cx="498.5" cy="511.7"/>
<circle cx="497.9" cy="524.8"/>
<circle cx="482.6" cy="529.3"/>
<circle cx="504.0" cy="507.6"/>
<circle cx="494.5" cy="525.4"/>
<circle cx="516.8" cy="510.5"/>
<circle cx="508.8" cy="515.0"/>
<circle cx="510.1" cy="524.5"/>
<circle cx="494.7" cy="521.4"/>
<circle cx="492.0" cy="529.5"/>
<circle cx="504.0" cy="528.4"/>
<circle cx="513.5" cy="512.9"/>
<circle cx="515.4" cy="518.1"/>
<circle cx="512.9" cy="506.2"/>
<circle cx="492.3" cy="523.5"/>
<circle cx="493.3" cy="512.3"/>
<circle cx="507.1" cy="522.3"/>
<circle cx="514.5" cy="513.6"/>
<circle cx="509.9" cy="515.7"/>
<circle cx="490.7" cy="522.9"/>
<circle cx="480.2" cy="532.2"/>
<circle cx="516.1" cy="510.0"/>
<circle cx="474.8" cy="554.3"/>
<circle cx="498.3" cy="517.6"/>
<circle cx="487.1" cy="524.2"/>
<circle cx="505.5" cy="516.7"/>
<circle cx="500.9" cy="507.7"/>
<circle cx="504.0" cy="514.3"/>
<circle cx="508.4" cy="507.2"/>
<circle cx="515.4" cy="514.2"/>
<circle cx="488.7" cy="538.7"/>
<circle cx="488.1" cy="521.3"/>
<circle cx="493.5" cy="530.1"/>
<circle cx="507.0" cy="520.6"/>
<circle cx="492.2" cy="516.7"/>
<circle cx="463.8" cy="553.4"/>
<circle cx="451.9" cy="548.8"/>
<circle cx="518.6" cy="513.1"/>
<circle cx="462.7" cy="540.3"/>
<circle cx="496.9" cy="519.0"/>
<circle cx="507.0" cy="509.6"/>
<circle cx="481.6" cy="526.7"/>
<circle cx="508.4" cy="514.4"/>
<circle cx="487.0" cy="542.3"/>
<circle cx="509.3" cy="516.3"/>
<circle cx="487.0" cy="520.5"/>
<circle cx="488.8" cy="532.1"/>
<circle cx="468.1" cy="549.0"/>
<circle cx="476.4" cy="541.5"/>
<circle cx="495.1" cy="521.7"/>
<circle cx="608.2" cy="452.5"/>
<circle cx="587.3" cy="461.6"/>
<circle cx="603.6" cy="453.2"/>
<circle cx="593.4" cy="464.9"/>
<circle cx="601.5" cy="467.3"/>
<circle cx="597.6" cy="456.0"/>
<circle cx="590.3" cy="476.4"/>
<circle cx="599.0" cy="454.7"/>
<circle cx="593.1" cy="476.3"/>
<circle cx="589.9" cy="465.3"/>
<circle cx="597.8" cy="451.6"/>
<circle cx="612.5" cy="457.2"/>
<circle cx="598.0" cy="471.5"/>
<circle cx="592.9" cy="460.4"/>
<circle cx="575.0" cy="467.0"/>
<circle cx="595.9" cy="458.9"/>
<circle cx="609.9" cy="448.4"/>
<circle cx="597.8" cy="466.4"/>
<circle cx="573.0" cy="464.4"/>
<circle cx="595.1" cy="456.8"/>
<circle cx="590.0" cy="463.9"/>
<circle cx="598.5" cy="478.3"/>
<circle cx="592.3" cy="472.4"/>
<circle cx="595.3" cy="462.7"/>
<circle cx="580.3" cy="480.0"/>
<circle cx="602.3" cy="471.2"/>
<circle cx="604.3" cy="449.6"/>
<circle cx="578.6" cy="479.7"/>
<circle cx="599.8" cy="464.2"/>
<circle cx="610.3" cy="472.3"/>
<circle cx="606.2" cy="464.4"/>
<circle cx="591.0" cy="462.5"/>
<circle cx="594.6" cy="457.9"/>
<circle cx="593.3" cy="463.9"/>
<circle cx="612.1" cy="451.4"/>
<circle cx="607.7" cy="460.9"/>
<circle cx="608.0" cy="447.4"/>
<circle cx="598.9" cy="455.6"/>
<circle cx="591.2" cy="482.3"/>
<circle cx="585.1" cy="465.7"/>
<circle cx="602.2" cy="453.0"/>
<circle cx="578.4" cy="472.6"/>
<circle cx="585.3" cy="465.4"/>
<circle cx="577.2" cy="474.7"/>
<circle cx="617.2" cy="460.6"/>
<circle cx="603.6" cy="451.7"/>
<circle cx="591.9" cy="464.5"/>
<circle cx="600.7" cy="461.0"/>
<circle cx="592.2" cy="462.7"/>
<circle cx="589.5" cy="460.5"/>
<circle cx="587.9" cy="480.8"/>
<circle cx="610.4" cy="448.5"/>
<circle cx="601.8" cy="464.5"/>
<circle cx="603.2" cy="458.0"/>
<circle cx="579.1" cy="473.2"/>
<circle cx="593.6" cy="459.2"/>
<circle cx="578.0" cy="475.3"/>
<circle cx="595.2" cy="461.2"/>
<circle cx="591.7" cy="459.2"/>
<circle cx="582.4" cy="470.0"/>
<circle cx="608.1" cy="450.6"/>
<circle cx="594.2" cy="476.2"/>
<circle cx="604.3" cy="463.1"/>
<circle cx="578.2" cy="466.1"/>
<circle cx="607.8" cy="457.2"/>
<circle cx="586.7" cy="464.3"/>
<circle cx="599.2" cy="453.8"/>
<circle cx="577.0" cy="462.1"/>
<circle cx="577.2" cy="469.2"/>
<circle cx="593.0" cy="460.7"/>
<circle cx="574.9" cy="466.3"/>
<circle cx="587.2" cy="469.0"/>
<circle cx="579.7" cy="477.5"/>
<circle cx="594.1" cy="453.7"/>
<circle cx="606.5" cy="452.6"/>
<circle cx="576.4" cy="472.6"/>
<circle cx="592.1" cy="466.7"/>
<circle cx="616.3" cy="459.8"/>
<circle cx="614.6" cy="460.4"/>
<circle cx="602.3" cy="472.5"/>
<circle cx="604.6" cy="450.2"/>
<circle cx="598.8" cy="458.5"/>
<circle cx="596.5" cy="464.4"/>
<circle cx="610.4" cy="466.8"/>
<circle cx="602.9" cy="445.0"/>
<circle cx="597.9" cy="455.7"/>
<circle cx="605.9" cy="463.0"/>
<circle cx="583.7" cy="458.4"/>
<circle cx="583.4" cy="484.2"/>
<circle cx="615.3" cy="466.5"/>
<circle cx="616.9" cy="465.2"/>
<circle cx="613.4" cy="455.6"/>
<circle cx="590.0" cy="457.0"/>
<circle cx="577.4" cy="469.4"/>
<circle cx="585.2" cy="472.8"/>
<circle cx="576.0" cy="462.4"/>
<circle cx="600.9" cy="456.2"/>
<circle cx="590.5" cy="464.0"/>
<circle cx="601.7" cy="449.6"/>
<circle cx="578.8" cy="465.1"/>
<circle cx="585.0" cy="466.3"/>
<circle cx="583.0" cy="463.9"/>
<circle cx="599.6" cy="456.9"/>
<circle cx="582.2" cy="468.8"/>
<circle cx="599.5" cy="456.0"/>
<circle cx="606.3" cy="473.8"/>
<circle cx="605.2" cy="452.1"/>
<circle cx="580.4" cy="466.2"/>
<circle cx="576.1" cy="466.9"/>
<circle cx="599.8" cy="471.3"/>
<circle cx="617.6" cy="464.4"/>
<circle cx="605.5" cy="456.5"/>
<circle cx="580.4" cy="474.8"/>
<circle cx="575.9" cy="473.3"/>
<circle cx="611.0" cy="449.4"/>
<circle cx="580.0" cy="466.0"/>
<circle cx="584.3" cy="472.8"/>
<circle cx="595.6" cy="454.5"/>
<circle cx="581.5" cy="484.3"/>
<circle cx="606.8" cy="457.3"/>
<circle cx="590.5" cy="458.5"/>
<circle cx="578.3" cy="479.0"/>
<circle cx="593.7" cy="458.8"/>
<circle cx="572.3" cy="460.9"/>
<circle cx="605.8" cy="464.7"/>
<circle cx="609.0" cy="469.1"/>
<circle cx="594.2" cy="454.6"/>
<circle cx="576.4" cy="467.0"/>
<circle cx="574.5" cy="470.8"/>
<circle cx="596.8" cy="465.4"/>
<circle cx="590.0" cy="465.1"/>
<circle cx="586.7" cy="462.2"/>
<circle cx="582.6" cy="464.3"/>
<circle cx="593.4" cy="456.1"/>
<circle cx="598.5" cy="464.8"/>
<circle cx="609.8" cy="469.3"/>
<circle cx="611.3" cy="450.5"/>
<circle cx="582.0" cy="473.0"/>
<circle cx="600.4" cy="452.9"/>
<circle cx="577.8" cy="466.7"/>
<circle cx="521.4" cy="510.4"/>
<circle cx="571.6" cy="475.7"/>
<circle cx="588.8" cy="463.8"/>
<circle cx="611.5" cy="478.4"/>
<circle cx="506.5" cy="513.8"/>
<circle cx="515.9" cy="527.9"/>
<circle cx="539.5" cy="497.2"/>
<circle cx="531.6" cy="504.5"/>
<circle cx="591.1" cy="461.8"/>
<circle cx="511.6" cy="515.5"/>
<circle cx="561.2" cy="487.9"/>
<circle cx="565.2" cy="501.3"/>
<circle cx="544.9" cy="499.1"/>
<circle cx="572.7" cy="462.7"/>
<circle cx="571.6" cy="474.7"/>
<circle cx="504.1" cy="541.8"/>
<circle cx="525.9" cy="505.7"/>
<circle cx="545.3" cy="520.6"/>
<circle cx="551.5" cy="470.3"/>
<circle cx="532.3" cy="490.1"/>
<circle cx="577.4" cy="501.0"/>
<circle cx="530.5" cy="493.7"/>
<circle cx="497.2" cy="524.1"/>
<circle cx="578.7" cy="497.9"/>
<circle cx="482.8" cy="534.3"/>
<circle cx="531.7" cy="513.8"/>
<circle cx="567.5" cy="502.7"/>
<circle cx="498.5" cy="520.7"/>
<circle cx="506.6" cy="524.2"/>
<circle cx="542.8" cy="490.1"/>
<circle cx="598.9" cy="469.2"/>
<circle cx="545.3" cy="503.2"/>
<circle cx="538.9" cy="522.6"/>
<circle cx="513.2" cy="520.7"/>
<circle cx="599.1" cy="459.6"/>
<circle cx="517.6" cy="506.9"/>
<circle cx="491.3" cy="538.8"/>
<circle cx="556.5" cy="479.8"/>
<circle cx="523.2" cy="531.4"/>
<circle cx="561.6" cy="487.5"/>
<circle cx="573.0" cy="499.4"/>
<circle cx="492.8" cy="531.6"/>
<circle cx="495.6" cy="538.8"/>
<circle cx="588.1" cy="467.0"/>
<circle cx="519.4" cy="506.2"/>
<circle cx="562.7" cy="485.7"/>
<circle cx="523.9" cy="507.5"/>
<circle cx="506.6" cy="538.5"/>
<circle cx="583.2" cy="470.4"/>
<circle cx="487.1" cy="517.7"/>
<circle cx="563.2" cy="477.9"/>
<circle cx="514.7" cy="544.2"/>
<circle cx="512.4" cy="532.9"/>
<circle cx="599.1" cy="487.3"/>
<circle cx="600.1" cy="467.5"/>
<circle cx="515.2" cy="511.2"/>
<circle cx="559.1" cy="500.4"/>
<circle cx="507.6" cy="538.1"/>
<circle cx="572.0" cy="477.0"/>
<circle cx="542.9" cy="497.9"/>
<circle cx="560.2" cy="503.4"/>
<circle cx="530.6" cy="503.5"/>
<circle cx="598.2" cy="469.9"/>
<circle cx="519.9" cy="519.9"/>
<circle cx="497.3" cy="531.2"/>
<circle cx="530.7" cy="497.3"/>
<circle cx="571.4" cy="475.9"/>
<circle cx="542.5" cy="504.9"/>
<circle cx="516.3" cy="522.9"/>
<circle cx="597.0" cy="461.3"/>
<circle cx="560.8" cy="501.6"/>
<circle cx="533.4" cy="520.3"/>
<circle cx="593.7" cy="456.9"/>
<circle cx="522.9" cy="524.3"/>
<circle cx="565.9" cy="500.5"/>
<circle cx="604.7" cy="466.2"/>
<circle cx="569.1" cy="474.1"/>
<circle cx="571.3" cy="488.6"/>
<circle cx="507.0" cy="520.4"/>
<circle cx="566.1" cy="477.5"/>
<circle cx="591.5" cy="458.6"/>
<circle cx="597.9" cy="454.2"/>
<circle cx="541.3" cy="504.9"/>
<circle cx="530.6" cy="492.2"/>
<circle cx="541.5" cy="517.5"/>
<circle cx="481.8" cy="526.7"/>
<circle cx="544.4" cy="503.9"/>
<circle cx="564.8" cy="501.0"/>
<circle cx="491.6" cy="520.8"/>
<circle cx="499.6" cy="536.7"/>
<circle cx="582.5" cy="482.3"/>
<circle cx="514.7" cy="511.5"/>
<circle cx="550.8" cy="502.8"/>
<circle cx="516.3" cy="513.7"/>
<circle cx="520.2" cy="537.4"/>
<circle cx="542.9" cy="486.9"/>
<circle cx="516.2" cy="512.8"/>
<circle cx="533.0" cy="525.5"/>
<circle cx="503.8" cy="543.3"/>
<circle cx="556.3" cy="493.6"/>
<circle cx="484.8" cy="532.8"/>
<circle cx="548.5" cy="490.5"/>
<circle cx="601.8" cy="487.7"/>
<circle cx="482.7" cy="526.1"/>
<circle cx="596.8" cy="458.4"/>
<circle cx="595.8" cy="467.3"/>
<circle cx="534.4" cy="494.3"/>
<circle cx="581.5" cy="471.6"/>
<circle cx="486.7" cy="531.9"/>
<circle cx="576.0" cy="474.0"/>
<circle cx="525.4" cy="532.7"/>
<circle cx="592.4" cy="460.9"/>
<circle cx="583.7" cy="489.5"/>
<circle cx="480.4" cy="532.6"/>
<circle cx="571.2" cy="469.4"/>
<circle cx="487.4" cy="529.5"/>
<circle cx="562.4" cy="521.4"/>
<circle cx="571.4" cy="470.8"/>
<circle cx="512.4" cy="519.1"/>
<circle cx="494.6" cy="518.6"/>
<circle cx="593.8" cy="463.7"/>
<circle cx="494.5" cy="527.2"/>
<circle cx="558.0" cy="481.9"/>
<circle cx="529.8" cy="499.1"/>
<circle cx="516.9" cy="531.9"/>
<circle cx="483.9" cy="530.0"/>
<circle cx="544.4" cy="503.1"/>
<circle cx="514.5" cy="511.8"/>
<circle cx="596.1" cy="452.2"/>
<circle cx="480.7" cy="527.0"/>
</g><g fill="#000" fill-opacity="0.1">
<circle cx="532.1" cy="502.5"/>
<circle cx="520.7" cy="502.6"/>
<circle cx="525.3" cy="503.8"/>
<circle cx="561.1" cy="481.1"/>
<circle cx="560.6" cy="480.3"/>
<circle cx="570.3" cy="475.8"/>
<circle cx="571.0" cy="473.3"/>
<circle cx="532.3" cy="495.0"/>
<circle cx="540.0" cy="491.3"/>
<circle cx="568.0" cy="477.9"/>
<circle cx="547.5" cy="486.0"/>
<circle cx="576.9" cy="472.1"/>
<circle cx="563.4" cy="479.5"/>
<circle cx="534.5" cy="497.3"/>
<circle cx="538.5" cy="491.4"/>
<circle cx="561.2" cy="482.0"/>
<circle cx="531.1" cy="503.6"/>
<circle cx="565.0" cy="481.2"/>
<circle cx="571.9" cy="477.9"/>
<circle cx="537.8" cy="496.0"/>
<circle cx="522.1" cy="501.9"/>
<circle cx="527.2" cy="497.4"/>
<circle cx="558.3" cy="485.4"/>
<circle cx="573.0" cy="477.2"/>
<circle cx="523.6" cy="506.0"/>
<circle cx="550.2" cy="491.9"/>
<circle cx="537.8" cy="490.4"/>
<circle cx="577.7" cy="474.0"/>
<circle cx="536.7" cy="493.9"/>
<circle cx="526.7" cy="505.7"/>
<circle cx="569.4" cy="475.1"/>
<circle cx="564.6" cy="481.5"/>
<circle cx="578.5" cy="471.9"/>
<circle cx="528.4" cy="501.1"/>
<circle cx="575.6" cy="472.9"/>
<circle cx="544.1" cy="496.7"/>
<circle cx="528.8" cy="504.3"/>
<circle cx="527.0" cy="500.6"/>
<circle cx="529.8" cy="503.9"/>
<circle cx="555.9" cy="481.8"/>
<circle cx="525.5" cy="500.4"/>
<circle cx="542.8" cy="496.9"/>
<circle cx="528.9" cy="497.9"/>
<circle cx="572.1" cy="471.2"/>
<circle cx="555.4" cy="487.5"/>
<circle cx="567.3" cy="481.6"/>
<circle cx="561.5" cy="478.7"/>
<circle cx="521.0" cy="500.8"/>
<circle cx="570.6" cy="477.2"/>
<circle cx="566.4" cy="478.3"/>
<circle cx="547.2" cy="492.0"/>
<circle cx="560.9" cy="491.3"/>
<circle cx="565.9" cy="488.6"/>
<circle cx="539.6" cy="495.5"/>
<circle cx="555.8" cy="485.4"/>
<circle cx="533.5" cy="496.2"/>
<circle cx="553.7" cy="483.7"/>
<circle cx="571.8" cy="476.8"/>
<circle cx="576.1" cy="472.1"/>
<circle cx="560.3" cy="483.8"/>
<circle cx="574.3" cy="470.7"/>
<circle cx="552.5" cy="483.2"/>
<circle cx="555.1" cy="486.2"/>
<circle cx="568.1" cy="474.8"/>
<circle cx="549.0" cy="483.4"/>
<circle cx="575.2" cy="480.3"/>
<circle cx="560.6" cy="484.4"/>
<circle cx="575.3" cy="477.1"/>
<circle cx="548.2" cy="493.3"/>
<circle cx="552.3" cy="485.9"/>
<circle cx="523.7" cy="504.6"/>
<circle cx="521.4" cy="504.5"/>
<circle cx="528.2" cy="498.0"/>
<circle cx="563.8" cy="479.6"/>
<circle cx="532.7" cy="498.0"/>
<circle cx="543.6" cy="485.1"/>
<circle cx="580.2" cy="473.0"/>
<circle cx="544.8" cy="495.8"/>
<circle cx="520.5" cy="504.4"/>
<circle cx="566.2" cy="480.0"/>
<circle cx="519.9" cy="500.8"/>
<circle cx="574.8" cy="473.0"/>
<circle cx="568.7" cy="475.9"/>
<circle cx="558.9" cy="486.2"/>
<circle cx="571.3" cy="478.8"/>
<circle cx="527.6" cy="498.0"/>
<circle cx="564.8" cy="481.1"/>
<circle cx="538.5" cy="489.1"/>
<circle cx="561.3" cy="476.9"/>
<circle cx="580.3" cy="469.0"/>
<circle cx="526.6" cy="494.3"/>
<circle cx="542.4" cy="494.9"/>
<circle cx="546.0" cy="492.2"/>
<circle cx="546.6" cy="490.3"/>
<circle cx="576.1" cy="470.7"/>
<circle cx="572.9" cy="476.2"/>
<circle cx="544.5" cy="488.7"/>
<circle cx="569.4" cy="478.0"/>
<circle cx="550.3" cy="485.4"/>
<circle cx="541.8" cy="490.7"/>
<circle cx="519.2" cy="505.6"/>
<circle cx="572.8" cy="476.3"/>
<circle cx="519.5" cy="500.2"/>
<circle cx="534.7" cy="496.0"/>
<circle cx="541.2" cy="489.7"/>
<circle cx="579.4" cy="469.9"/>
<circle cx="556.0" cy="484.1"/>
<circle cx="538.7" cy="490.9"/>
<circle cx="561.3" cy="487.4"/>
<circle cx="540.4" cy="489.4"/>
<circle cx="536.7" cy="503.4"/>
<circle cx="580.6" cy="471.2"/>
<circle cx="530.6" cy="503.4"/>
<circle cx="547.8" cy="495.1"/>
<circle cx="550.6" cy="484.1"/>
<circle cx="556.9" cy="473.1"/>
<circle cx="563.3" cy="479.5"/>
<circle cx="573.1" cy="476.2"/>
<circle cx="536.0" cy="497.7"/>
<circle cx="532.9" cy="503.0"/>
<circle cx="536.8" cy="497.5"/>
<circle cx="544.9" cy="489.9"/>
<circle cx="519.6" cy="505.5"/>
<circle cx="538.9" cy="495.9"/>
<circle cx="575.7" cy="473.4"/>
<circle cx="564.6" cy="477.6"/>
<circle cx="533.6" cy="496.3"/>
<circle cx="564.0" cy="477.9"/>
<circle cx="547.0" cy="490.6"/>
<circle cx="560.6" cy="479.5"/>
<circle cx="542.4" cy="482.2"/>
<circle cx="550.2" cy="489.6"/>
<circle cx="575.9" cy="478.8"/>
<circle cx="579.1" cy="472.5"/>
<circle cx="526.3" cy="500.1"/>
<circle cx="570.3" cy="475.7"/>
<circle cx="557.6" cy="481.3"/>
<circle cx="575.6" cy="477.9"/>
<circle cx="530.8" cy="496.8"/>
<circle cx="561.9" cy="481.6"/>
<circle cx="537.8" cy="488.8"/>
<circle cx="572.4" cy="471.6"/>
<circle cx="533.3" cy="490.6"/>
<circle cx="540.4" cy="487.0"/>
<circle cx="580.0" cy="470.2"/>
<circle cx="568.5" cy="483.0"/>
<circle cx="563.6" cy="479.1"/>
<circle cx="535.4" cy="499.8"/>
<circle cx="549.3" cy="488.8"/>
<circle cx="572.7" cy="473.7"/>
<circle cx="580.8" cy="470.0"/>
<circle cx="539.1" cy="501.3"/>
<circle cx="530.0" cy="501.0"/>
<circle cx="540.7" cy="488.5"/>
<circle cx="567.9" cy="478.4"/>
<circle cx="551.1" cy="490.6"/>
<circle cx="534.0" cy="499.4"/>
<circle cx="555.5" cy="489.2"/>
<circle cx="572.3" cy="475.1"/>
<circle cx="521.2" cy="503.8"/>
<circle cx="565.5" cy="483.5"/>
<circle cx="574.3" cy="473.9"/>
<circle cx="561.2" cy="477.0"/>
<circle cx="549.4" cy="489.7"/>
<circle cx="581.9" cy="472.4"/>
<circle cx="566.8" cy="474.1"/>
<circle cx="582.3" cy="469.3"/>
<circle cx="549.8" cy="483.6"/>
<circle cx="563.1" cy="481.8"/>
<circle cx="579.7" cy="473.2"/>
<circle cx="553.1" cy="484.8"/>
<circle cx="576.8" cy="472.8"/>
<circle cx="540.9" cy="499.3"/>
<circle cx="556.2" cy="478.8"/>
<circle cx="558.6" cy="488.0"/>
<circle cx="535.6" cy="492.6"/>
<circle cx="550.9" cy="492.7"/>
<circle cx="537.9" cy="496.6"/>
<circle cx="524.1" cy="499.4"/>
<circle cx="531.4" cy="500.3"/>
<circle cx="538.7" cy="491.7"/>
<circle cx="572.9" cy="473.4"/>
<circle cx="570.0" cy="481.0"/>
<circle cx="568.7" cy="481.9"/>
<circle cx="557.8" cy="489.8"/>
<circle cx="543.8" cy="491.1"/>
<circle cx="523.0" cy="503.1"/>
<circle cx="553.3" cy="482.3"/>
<circle cx="556.1" cy="478.9"/>
<circle cx="523.4" cy="501.9"/>
<circle cx="536.0" cy="502.7"/>
<circle cx="522.7" cy="503.6"/>
<circle cx="523.0" cy="499.9"/>
<circle cx="542.4" cy="498.1"/>
<circle cx="546.2" cy="493.6"/>
<circle cx="527.4" cy="503.7"/>
<circle cx="531.5" cy="491.7"/>
<circle cx="526.5" cy="491.7"/>
<circle cx="563.1" cy="478.2"/>
<circle cx="525.6" cy="500.2"/>
<circle cx="550.4" cy="482.3"/>
<circle cx="531.0" cy="493.0"/>
<circle cx="548.6" cy="484.5"/>
<circle cx="525.0" cy="501.0"/>
<circle cx="556.5" cy="485.6"/>
<circle cx="530.5" cy="502.0"/>
<circle cx="555.3" cy="490.2"/>
<circle cx="555.1" cy="480.5"/>
<circle cx="528.8" cy="505.3"/>
<circle cx="541.9" cy="491.4"/>
<circle cx="571.2" cy="475.8"/>
<circle cx="539.7" cy="495.6"/>
<circle cx="557.4" cy="482.1"/>
<circle cx="577.7" cy="470.9"/>
<circle cx="532.1" cy="506.4"/>
<circle cx="557.3" cy="490.8"/>
<circle cx="537.2" cy="490.1"/>
<circle cx="550.0" cy="489.6"/>
<circle cx="569.5" cy="469.4"/>
<circle cx="576.5" cy="473.6"/>
<circle cx="562.9" cy="474.9"/>
<circle cx="543.7" cy="488.0"/>
<circle cx="532.9" cy="493.1"/>
<circle cx="526.1" cy="503.6"/>
<circle cx="557.4" cy="480.0"/>
<circle cx="533.3" cy="495.9"/>
<circle cx="535.4" cy="490.9"/>
<circle cx="539.5" cy="488.9"/>
<circle cx="558.5" cy="482.2"/>
<circle cx="569.7" cy="474.5"/>
<circle cx="580.0" cy="472.0"/>
<circle cx="536.9" cy="494.7"/>
<circle cx="570.9" cy="474.9"/>
<circle cx="579.5" cy="472.4"/>
<circle cx="556.8" cy="483.9"/>
<circle cx="524.6" cy="499.0"/>
<circle cx="522.1" cy="502.8"/>
<circle cx="530.7" cy="496.2"/>
<circle cx="553.5" cy="483.4"/>
<circle cx="568.6" cy="483.8"/>
<circle cx="553.8" cy="479.9"/>
<circle cx="529.4" cy="501.7"/>
<circle cx="537.7" cy="499.9"/>
<circle cx="558.2" cy="490.0"/>
<circle cx="542.9" cy="490.3"/>
<circle cx="524.0" cy="496.5"/>
<circle cx="543.8" cy="490.4"/>
<circle cx="565.8" cy="482.7"/>
<circle cx="547.8" cy="486.4"/>
<circle cx="558.4" cy="484.8"/>
<circle cx="567.9" cy="476.1"/>
<circle cx="523.6" cy="503.0"/>
<circle cx="554.2" cy="486.4"/>
<circle cx="558.8" cy="479.7"/>
<circle cx="563.9" cy="481.0"/>
<circle cx="555.7" cy="478.3"/>
<circle cx="560.5" cy="478.4"/>
<circle cx="545.3" cy="487.2"/>
<circle cx="563.3" cy="483.5"/>
<circle cx="520.2" cy="499.4"/>
<circle cx="530.5" cy="493.3"/>
<circle cx="519.0" cy="500.2"/>
<circle cx="554.7" cy="480.0"/>
<circle cx="541.8" cy="487.5"/>
<circle cx="557.4" cy="489.0"/>
<circle cx="535.4" cy="495.6"/>
<circle cx="537.6" cy="493.0"/>
<circle cx="546.5" cy="498.4"/>
<circle cx="527.6" cy="502.5"/>
<circle cx="557.2" cy="478.4"/>
<circle cx="577.5" cy="471.6"/>
<circle cx="548.9" cy="489.6"/>
<circle cx="528.5" cy="499.1"/>
<circle cx="569.1" cy="468.7"/>
<circle cx="557.2" cy="485.9"/>
<circle cx="540.9" cy="495.0"/>
<circle cx="565.0" cy="479.7"/>
<circle cx="557.7" cy="479.0"/>
<circle cx="562.2" cy="483.9"/>
<circle cx="542.6" cy="503.7"/>
<circle cx="550.2" cy="497.1"/>
<circle cx="538.2" cy="498.9"/>
<circle cx="575.2" cy="474.9"/>
<circle cx="567.6" cy="482.8"/>
<circle cx="526.4" cy="500.2"/>
<circle cx="579.1" cy="471.6"/>
<circle cx="532.9" cy="491.6"/>
<circle cx="525.7" cy="505.9"/>
<circle cx="581.1" cy="470.6"/>
<circle cx="521.4" cy="501.9"/>
<circle cx="547.2" cy="490.5"/>
<circle cx="540.9" cy="490.1"/>
<circle cx="524.0" cy="504.0"/>
<circle cx="523.3" cy="505.4"/>
<circle cx="565.1" cy="475.0"/>
<circle cx="533.5" cy="493.3"/>
<circle cx="570.3" cy="478.8"/>
<circle cx="554.6" cy="481.4"/>
<circle cx="573.1" cy="474.1"/>
<circle cx="525.7" cy="496.9"/>
<circle cx="546.3" cy="493.8"/>
<circle cx="566.6" cy="478.9"/>
<circle cx="543.5" cy="485.7"/>
<circle cx="564.2" cy="481.3"/>
<circle cx="521.7" cy="506.8"/>
<circle cx="554.5" cy="478.8"/>
<circle cx="544.9" cy="490.7"/>
<circle cx="540.9" cy="488.3"/>
<circle cx="566.2" cy="473.7"/>
<circle cx="564.4" cy="479.0"/>
<circle cx="578.1" cy="474.6"/>
<circle cx="553.9" cy="481.7"/>
<circle cx="575.1" cy="470.2"/>
<circle cx="562.3" cy="479.1"/>
<circle cx="535.1" cy="499.7"/>
<circle cx="549.3" cy="482.9"/>
<circle cx="570.9" cy="473.8"/>
<circle cx="571.3" cy="481.8"/>
<circle cx="528.7" cy="498.9"/>
<circle cx="541.2" cy="491.9"/>
<circle cx="549.6" cy="494.6"/>
<circle cx="564.5" cy="485.5"/>
<circle cx="558.9" cy="476.9"/>
<circle cx="564.1" cy="476.4"/>
<circle cx="576.1" cy="472.9"/>
<circle cx="569.0" cy="476.8"/>
<circle cx="545.6" cy="491.1"/>
<circle cx="524.6" cy="502.3"/>
<circle cx="567.4" cy="474.6"/>
<circle cx="582.9" cy="470.1"/>
<circle cx="552.8" cy="483.6"/>
<circle cx="563.0" cy="482.1"/>
<circle cx="532.8" cy="493.9"/>
<circle cx="544.5" cy="490.4"/>
<circle cx="573.1" cy="475.3"/>
<circle cx="580.2" cy="472.2"/>
<circle cx="577.1" cy="473.8"/>
<circle cx="535.6" cy="482.5"/>
<circle cx="574.5" cy="474.0"/>
<circle cx="533.9" cy="502.3"/>
<circle cx="543.8" cy="495.3"/>
<circle cx="552.8" cy="485.6"/>
<circle cx="538.0" cy="488.9"/>
<circle cx="539.3" cy="493.4"/>
<circle cx="570.1" cy="472.8"/>
<circle cx="547.3" cy="496.6"/>
<circle cx="551.2" cy="482.2"/>
<circle cx="570.7" cy="478.2"/>
<circle cx="535.0" cy="496.0"/>
<circle cx="559.2" cy="481.8"/>
<circle cx="579.2" cy="472.1"/>
<circle cx="524.0" cy="501.7"/>
<circle cx="574.9" cy="473.2"/>
<circle cx="578.4" cy="471.7"/>
<circle cx="543.8" cy="489.2"/>
<circle cx="557.9" cy="477.1"/>
<circle cx="562.5" cy="482.5"/>
<circle cx="564.6" cy="485.4"/>
<circle cx="548.9" cy="484.1"/>
<circle cx="535.9" cy="493.3"/>
<circle cx="568.9" cy="474.9"/>
<circle cx="548.3" cy="491.3"/>
<circle cx="559.3" cy="483.6"/>
<circle cx="568.2" cy="477.0"/>
<circle cx="579.0" cy="471.3"/>
<circle cx="578.9" cy="476.8"/>
<circle cx="564.4" cy="477.5"/>
<circle cx="531.3" cy="499.0"/>
<circle cx="530.3" cy="502.3"/>
<circle cx="526.6" cy="499.2"/>
<circle cx="561.4" cy="477.0"/>
<circle cx="561.1" cy="481.7"/>
<circle cx="526.5" cy="501.1"/>
<circle cx="577.9" cy="471.9"/>
<circle cx="552.4" cy="487.8"/>
<circle cx="569.3" cy="473.6"/>
<circle cx="563.2" cy="485.1"/>
<circle cx="539.5" cy="492.5"/>
<circle cx="572.7" cy="477.8"/>
<circle cx="585.5" cy="470.1"/>
<circle cx="579.7" cy="473.4"/>
<circle cx="524.8" cy="503.5"/>
<circle cx="533.9" cy="496.1"/>
<circle cx="559.3" cy="480.8"/>
<circle cx="535.2" cy="494.8"/>
<circle cx="563.4" cy="482.6"/>
<circle cx="535.7" cy="495.9"/>
<circle cx="559.1" cy="486.9"/>
<circle cx="556.5" cy="484.9"/>
<circle cx="536.6" cy="498.3"/>
<circle cx="540.4" cy="491.5"/>
<circle cx="526.2" cy="498.3"/>
<circle cx="566.1" cy="486.5"/>
<circle cx="549.4" cy="485.8"/>
<circle cx="568.4" cy="479.4"/>
<circle cx="558.2" cy="489.9"/>
<circle cx="555.0" cy="479.9"/>
<circle cx="567.5" cy="481.2"/>
<circle cx="532.6" cy="496.0"/>
<circle cx="563.5" cy="482.0"/>
<circle cx="532.4" cy="492.0"/>
<circle cx="566.7" cy="477.1"/>
<circle cx="562.4" cy="479.9"/>
<circle cx="550.8" cy="485.5"/>
<circle cx="577.3" cy="470.1"/>
<circle cx="582.1" cy="470.4"/>
<circle cx="561.9" cy="476.5"/>
<circle cx="568.6" cy="479.4"/>
<circle cx="571.0" cy="479.5"/>
<circle cx="578.5" cy="473.9"/>
<circle cx="570.3" cy="472.4"/>
<circle cx="550.6" cy="483.6"/>
<circle cx="579.7" cy="470.9"/>
<circle cx="571.6" cy="484.3"/>
<circle cx="526.7" cy="500.8"/>
<circle cx="557.8" cy="483.5"/>
<circle cx="543.7" cy="494.0"/>
<circle cx="533.6" cy="497.8"/>
<circle cx="538.0" cy="497.9"/>
<circle cx="551.1" cy="481.5"/>
<circle cx="536.1" cy="503.7"/>
<circle cx="538.7" cy="500.4"/>
<circle cx="545.1" cy="493.8"/>
<circle cx="531.9" cy="494.6"/>
<circle cx="523.5" cy="501.0"/>
<circle cx="580.1" cy="471.8"/>
<circle cx="528.1" cy="501.3"/>
<circle cx="530.3" cy="495.6"/>
<circle cx="526.0" cy="498.1"/>
<circle cx="579.7" cy="469.6"/>
<circle cx="558.2" cy="482.2"/>
<circle cx="579.0" cy="469.8"/>
<circle cx="527.5" cy="499.7"/>
<circle cx="567.0" cy="473.4"/>
<circle cx="529.6" cy="497.1"/>
<circle cx="572.4" cy="468.2"/>
<circle cx="560.9" cy="479.8"/>
<circle cx="581.8" cy="470.2"/>
<circle cx="573.2" cy="474.0"/>
<circle cx="560.3" cy="487.2"/>
<circle cx="532.6" cy="501.6"/>
<circle cx="545.8" cy="486.3"/>
<circle cx="581.8" cy="470.3"/>
<circle cx="526.3" cy="501.0"/>
<circle cx="533.4" cy="490.1"/>
<circle cx="579.4" cy="471.1"/>
<circle cx="575.8" cy="473.0"/>
<circle cx="575.2" cy="476.3"/>
<circle cx="579.4" cy="470.8"/>
<circle cx="546.1" cy="495.6"/>
<circle cx="548.7" cy="494.5"/>
<circle cx="562.5" cy="482.2"/>
<circle cx="525.7" cy="499.4"/>
<circle cx="542.0" cy="484.7"/>
<circle cx="578.5" cy="476.7"/>
<circle cx="533.5" cy="496.8"/>
<circle cx="549.5" cy="483.9"/>
<circle cx="534.1" cy="494.5"/>
<circle cx="584.0" cy="469.0"/>
<circle cx="522.6" cy="501.8"/>
<circle cx="538.3" cy="498.5"/>
<circle cx="564.7" cy="487.2"/>
<circle cx="555.0" cy="490.9"/>
<circle cx="529.7" cy="500.2"/>
<circle cx="517.5" cy="502.6"/>
<circle cx="537.9" cy="489.7"/>
<circle cx="539.6" cy="496.5"/>
<circle cx="523.2" cy="506.3"/>
<circle cx="552.7" cy="481.8"/>
<circle cx="522.0" cy="503.6"/>
<circle cx="528.3" cy="498.7"/>
<circle cx="581.2" cy="472.3"/>
<circle cx="564.6" cy="477.8"/>
<circle cx="534.9" cy="490.3"/>
<circle cx="532.5" cy="492.8"/>
<circle cx="546.1" cy="485.0"/>
<circle cx="541.3" cy="499.3"/>
<circle cx="580.9" cy="473.3"/>
<circle cx="576.0" cy="476.1"/>
<circle cx="544.4" cy="497.6"/>
<circle cx="524.6" cy="498.5"/>
<circle cx="570.7" cy="483.5"/>
<circle cx="571.8" cy="481.1"/>
<circle cx="549.3" cy="486.1"/>
<circle cx="521.6" cy="503.9"/>
<circle cx="567.7" cy="479.6"/>
<circle cx="559.4" cy="480.4"/>
<circle cx="558.4" cy="484.8"/>
<circle cx="544.8" cy="485.8"/>
<circle cx="555.7" cy="491.1"/>
<circle cx="575.8" cy="475.2"/>
<circle cx="564.0" cy="481.5"/>
<circle cx="550.5" cy="484.5"/>
<circle cx="525.2" cy="504.0"/>
<circle cx="583.5" cy="471.9"/>
<circle cx="560.3" cy="478.4"/>
<circle cx="534.0" cy="498.1"/>
<circle cx="545.6" cy="493.0"/>
<circle cx="572.5" cy="475.1"/>
<circle cx="556.0" cy="479.1"/>
<circle cx="540.0" cy="494.3"/>
<circle cx="571.2" cy="474.4"/>
<circle cx="571.0" cy="474.3"/>
<circle cx="531.2" cy="499.5"/>
<circle cx="555.5" cy="485.3"/>
<circle cx="560.1" cy="485.9"/>
<circle cx="534.3" cy="494.6"/>
<circle cx="555.9" cy="482.0"/>
<circle cx="556.4" cy="483.5"/>
<circle cx="544.2" cy="495.0"/>
<circle cx="530.7" cy="508.0"/>
<circle cx="573.4" cy="475.5"/>
<circle cx="537.4" cy="491.3"/>
<circle cx="547.1" cy="487.6"/>
<circle cx="553.2" cy="485.1"/>
<circle cx="555.8" cy="484.1"/>
<circle cx="523.9" cy="500.2"/>
<circle cx="533.5" cy="495.1"/>
<circle cx="525.8" cy="498.7"/>
<circle cx="528.9" cy="500.6"/>
<circle cx="546.7" cy="490.3"/>
<circle cx="523.1" cy="501.4"/>
<circle cx="540.2" cy="492.0"/>
<circle cx="528.2" cy="500.6"/>
<circle cx="559.3" cy="482.5"/>
<circle cx="569.4" cy="471.2"/>
<circle cx="525.3" cy="500.1"/>
<circle cx="570.0" cy="474.9"/>
<circle cx="543.8" cy="489.2"/>
<circle cx="557.0" cy="486.8"/>
<circle cx="551.6" cy="489.6"/>
<circle cx="563.0" cy="476.2"/>
<circle cx="555.9" cy="490.1"/>
<circle cx="521.0" cy="503.0"/>
<circle cx="540.2" cy="486.1"/>
<circle cx="528.5" cy="495.9"/>
<circle cx="528.0" cy="500.1"/>
<circle cx="577.1" cy="474.5"/>
<circle cx="563.8" cy="486.5"/>
<circle cx="548.3" cy="490.5"/>
<circle cx="581.9" cy="470.4"/>
<circle cx="545.9" cy="495.1"/>
<circle cx="562.7" cy="483.2"/>
<circle cx="567.0" cy="485.1"/>
<circle cx="567.2" cy="484.2"/>
<circle cx="576.7" cy="473.9"/>
<circle cx="581.6" cy="471.5"/>
<circle cx="554.6" cy="484.5"/>
<circle cx="522.0" cy="502.0"/>
<circle cx="566.9" cy="472.8"/>
<circle cx="571.1" cy="475.3"/>
<circle cx="539.7" cy="505.9"/>
<circle cx="536.8" cy="489.1"/>
<circle cx="526.2" cy="500.7"/>
<circle cx="540.4" cy="501.0"/>
<circle cx="551.1" cy="490.5"/>
<circle cx="540.8" cy="493.1"/>
<circle cx="520.0" cy="502.0"/>
<circle cx="583.8" cy="468.7"/>
<circle cx="556.0" cy="476.1"/>
<circle cx="583.7" cy="467.9"/>
<circle cx="565.5" cy="477.0"/>
<circle cx="575.7" cy="473.1"/>
<circle cx="576.2" cy="473.0"/>
<circle cx="541.0" cy="500.4"/>
<circle cx="574.9" cy="472.0"/>
<circle cx="578.7" cy="468.6"/>
<circle cx="564.1" cy="475.5"/>
<circle cx="570.2" cy="471.6"/>
<circle cx="523.7" cy="499.5"/>
<circle cx="535.2" cy="501.2"/>
<circle cx="570.6" cy="476.7"/>
<circle cx="525.4" cy="507.7"/>
<circle cx="553.4" cy="484.1"/>
<circle cx="527.0" cy="497.7"/>
<circle cx="548.5" cy="492.5"/>
<circle cx="578.4" cy="471.6"/>
<circle cx="578.2" cy="475.0"/>
<circle cx="548.0" cy="489.9"/>
<circle cx="519.4" cy="505.1"/>
<circle cx="556.5" cy="489.8"/>
<circle cx="574.3" cy="475.5"/>
<circle cx="547.1" cy="490.6"/>
<circle cx="536.6" cy="489.7"/>
<circle cx="570.0" cy="473.0"/>
<circle cx="554.2" cy="489.0"/>
<circle cx="557.7" cy="481.3"/>
<circle cx="570.4" cy="480.4"/>
<circle cx="527.4" cy="499.5"/>
<circle cx="527.8" cy="492.9"/>
<circle cx="543.9" cy="491.7"/>
<circle cx="531.5" cy="494.9"/>
<circle cx="578.0" cy="475.4"/>
<circle cx="572.5" cy="476.0"/>
<circle cx="532.4" cy="487.9"/>
<circle cx="527.2" cy="495.0"/>
<circle cx="551.5" cy="489.9"/>
<circle cx="530.1" cy="496.2"/>
<circle cx="553.9" cy="483.6"/>
<circle cx="545.3" cy="495.2"/>
<circle cx="569.0" cy="475.6"/>
<circle cx="540.9" cy="488.9"/>
<circle cx="567.2" cy="477.1"/>
<circle cx="528.7" cy="501.3"/>
<circle cx="542.0" cy="489.4"/>
<circle cx="553.5" cy="483.9"/>
<circle cx="544.4" cy="487.4"/>
<circle cx="523.2" cy="497.9"/>
<circle cx="571.9" cy="480.7"/>
<circle cx="559.8" cy="477.5"/>
<circle cx="548.7" cy="487.0"/>
<circle cx="530.7" cy="500.6"/>
<circle cx="556.9" cy="488.8"/>
<circle cx="573.1" cy="473.9"/>
<circle cx="521.2" cy="500.2"/>
<circle cx="545.6" cy="493.0"/>
<circle cx="564.3" cy="479.6"/>
<circle cx="569.4" cy="474.3"/>
<circle cx="532.7" cy="495.0"/>
<circle cx="526.0" cy="501.8"/>
<circle cx="560.9" cy="481.5"/>
<circle cx="548.9" cy="490.2"/>
<circle cx="559.3" cy="487.0"/>
<circle cx="529.7" cy="500.8"/>
<circle cx="532.9" cy="494.6"/>
<circle cx="542.3" cy="492.8"/>
<circle cx="566.4" cy="478.4"/>
<circle cx="556.3" cy="489.2"/>
<circle cx="544.0" cy="490.8"/>
<circle cx="561.2" cy="483.5"/>
<circle cx="561.5" cy="482.8"/>
<circle cx="567.9" cy="489.6"/>
<circle cx="558.9" cy="486.1"/>
<circle cx="532.6" cy="490.7"/>
<circle cx="564.1" cy="489.8"/>
<circle cx="557.7" cy="482.8"/>
<circle cx="548.8" cy="489.2"/>
<circle cx="565.4" cy="483.9"/>
<circle cx="542.9" cy="490.7"/>
<circle cx="579.0" cy="475.5"/>
<circle cx="579.3" cy="471.5"/>
<circle cx="539.4" cy="499.6"/>
<circle cx="526.4" cy="501.2"/>
<circle cx="550.2" cy="490.6"/>
<circle cx="522.9" cy="499.0"/>
<circle cx="574.7" cy="484.1"/>
<circle cx="535.9" cy="486.4"/>
<circle cx="559.2" cy="476.5"/>
<circle cx="553.0" cy="486.4"/>
<circle cx="571.7" cy="480.0"/>
<circle cx="579.3" cy="477.5"/>
<circle cx="556.9" cy="486.6"/>
<circle cx="581.9" cy="472.3"/>
<circle cx="552.8" cy="483.8"/>
<circle cx="539.6" cy="495.6"/>
<circle cx="548.7" cy="486.3"/>
<circle cx="563.5" cy="485.2"/>
<circle cx="545.3" cy="493.2"/>
<circle cx="569.1" cy="475.9"/>
<circle cx="539.7" cy="492.1"/>
<circle cx="567.2" cy="472.7"/>
<circle cx="555.4" cy="478.4"/>
<circle cx="541.6" cy="493.8"/>
<circle cx="556.9" cy="473.0"/>
<circle cx="562.0" cy="486.3"/>
<circle cx="522.7" cy="504.3"/>
<circle cx="521.1" cy="504.7"/>
<circle cx="541.5" cy="489.1"/>
<circle cx="535.3" cy="493.6"/>
<circle cx="550.5" cy="495.1"/>
<circle cx="541.5" cy="497.0"/>
<circle cx="564.1" cy="482.8"/>
<circle cx="520.7" cy="500.4"/>
<circle cx="545.7" cy="483.7"/>
<circle cx="534.0" cy="501.9"/>
<circle cx="543.8" cy="497.3"/>
<circle cx="557.0" cy="489.0"/>
<circle cx="538.9" cy="492.6"/>
<circle cx="549.2" cy="485.1"/>
<circle cx="574.3" cy="474.2"/>
<circle cx="563.7" cy="480.8"/>
<circle cx="542.3" cy="480.3"/>
<circle cx="551.6" cy="487.1"/>
<circle cx="557.8" cy="484.9"/>
<circle cx="568.6" cy="478.8"/>
<circle cx="527.3" cy="501.9"/>
<circle cx="522.2" cy="503.7"/>
<circle cx="554.7" cy="491.4"/>
<circle cx="570.1" cy="477.9"/>
<circle cx="528.7" cy="498.1"/>
<circle cx="525.4" cy="496.1"/>
<circle cx="560.6" cy="481.0"/>
<circle cx="583.9" cy="473.2"/>
<circle cx="533.6" cy="497.2"/>
<circle cx="551.8" cy="480.9"/>
<circle cx="547.6" cy="488.2"/>
<circle cx="569.9" cy="475.2"/>
<circle cx="577.4" cy="473.3"/>
<circle cx="531.7" cy="493.8"/>
<circle cx="546.3" cy="491.9"/>
<circle cx="539.1" cy="493.6"/>
<circle cx="551.9" cy="489.3"/>
<circle cx="562.1" cy="475.4"/>
<circle cx="557.8" cy="485.2"/>
<circle cx="556.1" cy="490.3"/>
<circle cx="530.2" cy="499.2"/>
<circle cx="580.6" cy="468.0"/>
<circle cx="573.9" cy="470.2"/>
<circle cx="577.7" cy="472.5"/>
<circle cx="542.1" cy="497.3"/>
<circle cx="548.8" cy="492.5"/>
<circle cx="525.0" cy="499.5"/>
<circle cx="541.8" cy="494.7"/>
<circle cx="551.8" cy="487.6"/>
<circle cx="574.7" cy="473.0"/>
<circle cx="577.2" cy="471.5"/>
<circle cx="548.3" cy="486.5"/>
<circle cx="572.9" cy="476.4"/>
<circle cx="546.7" cy="491.4"/>
<circle cx="552.8" cy="487.1"/>
<circle cx="569.2" cy="479.9"/>
<circle cx="538.6" cy="495.5"/>
<circle cx="569.3" cy="474.4"/>
<circle cx="573.4" cy="474.6"/>
<circle cx="550.0" cy="487.5"/>
<circle cx="524.7" cy="502.8"/>
<circle cx="536.3" cy="494.8"/>
<circle cx="570.5" cy="479.2"/>
<circle cx="533.6" cy="499.5"/>
<circle cx="530.6" cy="502.9"/>
<circle cx="549.1" cy="503.9"/>
<circle cx="547.0" cy="482.6"/>
<circle cx="552.3" cy="494.1"/>
<circle cx="577.2" cy="469.6"/>
<circle cx="578.3" cy="472.2"/>
<circle cx="562.0" cy="483.8"/>
<circle cx="537.3" cy="501.3"/>
<circle cx="583.8" cy="471.0"/>
<circle cx="561.6" cy="479.4"/>
<circle cx="561.0" cy="480.6"/>
<circle cx="554.9" cy="482.7"/>
<circle cx="556.8" cy="481.2"/>
<circle cx="569.5" cy="474.0"/>
<circle cx="579.3" cy="469.6"/>
<circle cx="569.2" cy="473.2"/>
<circle cx="579.8" cy="472.2"/>
<circle cx="572.7" cy="476.7"/>
<circle cx="527.5" cy="504.3"/>
<circle cx="548.8" cy="487.0"/>
<circle cx="527.4" cy="495.3"/>
<circle cx="579.3" cy="471.3"/>
<circle cx="570.8" cy="478.0"/>
<circle cx="570.1" cy="477.8"/>
<circle cx="575.1" cy="473.1"/>
<circle cx="519.3" cy="502.8"/>
<circle cx="553.3" cy="495.3"/>
<circle cx="534.2" cy="497.7"/>
<circle cx="566.5" cy="480.2"/>
<circle cx="570.3" cy="475.8"/>
<circle cx="532.6" cy="509.2"/>
<circle cx="559.1" cy="483.6"/>
<circle cx="533.4" cy="495.7"/>
<circle cx="565.8" cy="478.6"/>
<circle cx="550.4" cy="490.6"/>
<circle cx="565.4" cy="485.6"/>
<circle cx="526.4" cy="505.5"/>
<circle cx="553.9" cy="476.7"/>
<circle cx="540.4" cy="487.5"/>
<circle cx="560.9" cy="476.1"/>
<circle cx="549.6" cy="487.5"/>
<circle cx="544.1" cy="493.9"/>
<circle cx="572.8" cy="484.7"/>
<circle cx="565.7" cy="480.7"/>
<circle cx="546.3" cy="487.4"/>
<circle cx="533.5" cy="495.3"/>
<circle cx="579.2" cy="473.4"/>
<circle cx="577.8" cy="470.9"/>
<circle cx="542.7" cy="489.5"/>
<circle cx="537.6" cy="495.1"/>
<circle cx="549.4" cy="487.1"/>
<circle cx="556.2" cy="489.4"/>
<circle cx="562.0" cy="487.3"/>
<circle cx="530.4" cy="498.0"/>
<circle cx="560.4" cy="487.2"/>
<circle cx="521.7" cy="498.7"/>
<circle cx="575.3" cy="475.3"/>
<circle cx="557.6" cy="479.4"/>
<circle cx="556.5" cy="483.2"/>
<circle cx="555.4" cy="480.8"/>
<circle cx="559.0" cy="487.0"/>
<circle cx="539.5" cy="489.4"/>
<circle cx="563.1" cy="489.9"/>
<circle cx="558.4" cy="478.7"/>
<circle cx="563.7" cy="477.7"/>
<circle cx="531.6" cy="498.8"/>
<circle cx="569.6" cy="477.6"/>
<circle cx="531.3" cy="497.2"/>
<circle cx="545.9" cy="492.0"/>
<circle cx="521.8" cy="502.1"/>
<circle cx="551.1" cy="482.3"/>
<circle cx="546.6" cy="498.8"/>
<circle cx="549.0" cy="485.6"/>
<circle cx="537.4" cy="497.2"/>
<circle cx="538.8" cy="497.5"/>
<circle cx="564.5" cy="485.4"/>
<circle cx="562.1" cy="485.7"/>
<circle cx="528.9" cy="497.4"/>
<circle cx="560.9" cy="483.4"/>
<circle cx="539.1" cy="483.3"/>
<circle cx="522.0" cy="504.5"/>
<circle cx="566.4" cy="485.7"/>
<circle cx="553.9" cy="482.2"/>
<circle cx="523.0" cy="503.2"/>
<circle cx="558.1" cy="482.2"/>
<circle cx="541.4" cy="491.0"/>
<circle cx="532.4" cy="496.2"/>
<circle cx="543.4" cy="489.2"/>
<circle cx="533.0" cy="499.7"/>
<circle cx="547.6" cy="490.2"/>
<circle cx="558.9" cy="479.2"/>
<circle cx="517.9" cy="500.2"/>
<circle cx="550.2" cy="485.7"/>
<circle cx="533.4" cy="494.6"/>
<circle cx="568.9" cy="475.4"/>
<circle cx="581.4" cy="469.8"/>
<circle cx="557.2" cy="486.3"/>
<circle cx="520.8" cy="502.1"/>
<circle cx="536.9" cy="496.3"/>
<circle cx="525.7" cy="506.6"/>
<circle cx="569.1" cy="475.8"/>
<circle cx="567.5" cy="478.1"/>
<circle cx="567.9" cy="490.0"/>
<circle cx="558.2" cy="487.9"/>
<circle cx="576.8" cy="468.4"/>
<circle cx="540.0" cy="493.7"/>
<circle cx="531.2" cy="503.1"/>
<circle cx="564.3" cy="478.9"/>
<circle cx="538.7" cy="499.9"/>
<circle cx="537.1" cy="493.9"/>
<circle cx="524.1" cy="503.0"/>
<circle cx="563.7" cy="485.5"/>
<circle cx="542.4" cy="495.2"/>
<circle cx="558.0" cy="484.9"/>
<circle cx="578.6" cy="472.7"/>
<circle cx="577.5" cy="470.4"/>
<circle cx="538.4" cy="495.5"/>
<circle cx="548.0" cy="486.6"/>
<circle cx="532.4" cy="496.0"/>
<circle cx="550.7" cy="487.7"/>
<circle cx="554.6" cy="485.3"/>
<circle cx="575.0" cy="470.8"/>
<circle cx="524.3" cy="499.2"/>
<circle cx="569.2" cy="469.6"/>
<circle cx="543.0" cy="491.2"/>
<circle cx="579.3" cy="478.6"/>
<circle cx="536.9" cy="492.9"/>
<circle cx="545.9" cy="489.4"/>
<circle cx="524.8" cy="503.1"/>
<circle cx="558.0" cy="480.6"/>
<circle cx="559.2" cy="487.2"/>
<circle cx="530.2" cy="503.2"/>
<circle cx="530.6" cy="496.9"/>
<circle cx="521.9" cy="504.1"/>
<circle cx="562.6" cy="478.5"/>
<circle cx="574.3" cy="485.3"/>
<circle cx="535.8" cy="493.1"/>
<circle cx="573.9" cy="474.6"/>
<circle cx="536.4" cy="487.9"/>
<circle cx="520.9" cy="506.5"/>
<circle cx="521.4" cy="502.7"/>
<circle cx="527.1" cy="494.8"/>
<circle cx="546.8" cy="489.2"/>
<circle cx="527.5" cy="496.3"/>
<circle cx="549.9" cy="488.7"/>
<circle cx="572.4" cy="470.1"/>
<circle cx="569.3" cy="477.8"/>
<circle cx="577.8" cy="475.3"/>
<circle cx="551.0" cy="486.1"/>
<circle cx="549.3" cy="478.6"/>
<circle cx="524.0" cy="504.6"/>
<circle cx="552.3" cy="496.2"/>
<circle cx="530.7" cy="496.7"/>
<circle cx="571.8" cy="475.1"/>
<circle cx="541.3" cy="500.8"/>
<circle cx="523.9" cy="502.3"/>
<circle cx="585.8" cy="467.9"/>
<circle cx="524.8" cy="505.5"/>
<circle cx="552.6" cy="483.7"/>
<circle cx="541.0" cy="494.1"/>
<circle cx="525.5" cy="495.7"/>
<circle cx="564.1" cy="482.9"/>
<circle cx="575.7" cy="476.4"/>
<circle cx="523.3" cy="503.6"/>
<circle cx="546.3" cy="494.9"/>
<circle cx="576.1" cy="470.1"/>
<circle cx="560.2" cy="491.5"/>
<circle cx="551.0" cy="485.1"/>
<circle cx="538.4" cy="491.8"/>
<circle cx="574.1" cy="473.4"/>
<circle cx="579.9" cy="469.9"/>
<circle cx="561.2" cy="486.7"/>
<circle cx="565.5" cy="484.7"/>
<circle cx="560.9" cy="494.3"/>
<circle cx="577.1" cy="471.6"/>
<circle cx="538.2" cy="491.7"/>
<circle cx="554.1" cy="492.3"/>
<circle cx="577.3" cy="474.7"/>
<circle cx="534.2" cy="501.1"/>
<circle cx="533.6" cy="510.9"/>
<circle cx="520.8" cy="500.9"/>
<circle cx="547.9" cy="493.3"/>
<circle cx="575.6" cy="477.9"/>
<circle cx="574.1" cy="475.1"/>
<circle cx="525.5" cy="501.5"/>
<circle cx="537.1" cy="490.3"/>
<circle cx="534.6" cy="503.6"/>
<circle cx="563.2" cy="478.2"/>
<circle cx="557.6" cy="483.4"/>
<circle cx="550.9" cy="486.0"/>
<circle cx="577.6" cy="476.2"/>
<circle cx="544.3" cy="491.8"/>
<circle cx="524.3" cy="499.6"/>
<circle cx="537.6" cy="497.9"/>
<circle cx="573.0" cy="476.3"/>
<circle cx="522.9" cy="500.9"/>
<circle cx="561.1" cy="483.3"/>
<circle cx="571.5" cy="474.0"/>
<circle cx="539.9" cy="497.6"/>
<circle cx="570.1" cy="480.6"/>
<circle cx="560.4" cy="478.9"/>
<circle cx="535.7" cy="492.6"/>
<circle cx="571.3" cy="474.9"/>
<circle cx="559.6" cy="482.1"/>
<circle cx="520.8" cy="506.3"/>
<circle cx="583.7" cy="474.0"/>
<circle cx="570.9" cy="471.7"/>
<circle cx="574.2" cy="477.0"/>
<circle cx="518.2" cy="502.8"/>
<circle cx="536.1" cy="499.6"/>
<circle cx="567.4" cy="475.4"/>
<circle cx="561.0" cy="484.7"/>
<circle cx="545.5" cy="496.3"/>
<circle cx="567.1" cy="483.7"/>
<circle cx="527.2" cy="496.7"/>
<circle cx="573.7" cy="473.2"/>
<circle cx="539.7" cy="492.8"/>
<circle cx="578.9" cy="471.8"/>
<circle cx="532.0" cy="493.0"/>
<circle cx="548.2" cy="490.6"/>
<circle cx="535.1" cy="502.3"/>
<circle cx="559.3" cy="484.7"/>
<circle cx="557.3" cy="495.7"/>
<circle cx="560.8" cy="485.7"/>
<circle cx="534.6" cy="494.8"/>
<circle cx="537.7" cy="494.9"/>
<circle cx="570.3" cy="471.3"/>
<circle cx="549.9" cy="489.3"/>
<circle cx="563.0" cy="485.7"/>
<circle cx="549.1" cy="489.8"/>
<circle cx="559.2" cy="490.7"/>
<circle cx="571.8" cy="475.6"/>
<circle cx="544.7" cy="487.6"/>
<circle cx="534.1" cy="497.4"/>
<circle cx="577.4" cy="475.1"/>
<circle cx="530.5" cy="496.2"/>
<circle cx="541.6" cy="491.3"/>
<circle cx="577.7" cy="470.3"/>
<circle cx="572.4" cy="479.6"/>
<circle cx="526.2" cy="507.2"/>
<circle cx="550.2" cy="495.5"/>
<circle cx="559.4" cy="486.5"/>
<circle cx="583.2" cy="470.1"/>
<circle cx="568.8" cy="476.3"/>
<circle cx="557.7" cy="492.4"/>
<circle cx="542.6" cy="493.7"/>
<circle cx="522.0" cy="503.5"/>
<circle cx="544.6" cy="496.9"/>
<circle cx="580.6" cy="476.8"/>
<circle cx="557.6" cy="483.7"/>
<circle cx="524.5" cy="503.9"/>
<circle cx="563.9" cy="477.5"/>
<circle cx="557.5" cy="482.1"/>
<circle cx="561.5" cy="481.7"/>
<circle cx="544.1" cy="484.8"/>
<circle cx="524.3" cy="500.6"/>
<circle cx="571.3" cy="476.1"/>
<circle cx="569.6" cy="478.2"/>
<circle cx="578.2" cy="469.6"/>
<circle cx="543.1" cy="486.0"/>
<circle cx="574.8" cy="471.9"/>
<circle cx="562.0" cy="482.3"/>
<circle cx="542.8" cy="490.9"/>
<circle cx="579.7" cy="473.3"/>
<circle cx="572.0" cy="471.0"/>
<circle cx="531.8" cy="501.2"/>
<circle cx="528.5" cy="502.5"/>
<circle cx="579.1" cy="471.1"/>
<circle cx="570.4" cy="477.7"/>
<circle cx="554.5" cy="486.0"/>
<circle cx="581.1" cy="470.5"/>
<circle cx="530.4" cy="497.5"/>
<circle cx="540.4" cy="498.3"/>
<circle cx="578.0" cy="473.2"/>
<circle cx="548.0" cy="490.7"/>
<circle cx="550.2" cy="491.7"/>
<circle cx="534.2" cy="499.3"/>
<circle cx="530.1" cy="498.1"/>
<circle cx="581.6" cy="468.7"/>
<circle cx="558.6" cy="477.8"/>
<circle cx="562.2" cy="483.0"/>
<circle cx="569.8" cy="481.3"/>
<circle cx="569.3" cy="482.3"/>
<circle cx="576.7" cy="472.0"/>
<circle cx="547.8" cy="487.6"/>
<circle cx="532.2" cy="498.7"/>
<circle cx="551.9" cy="484.2"/>
<circle cx="543.1" cy="487.3"/>
<circle cx="555.1" cy="484.3"/>
<circle cx="534.0" cy="498.0"/>
<circle cx="564.9" cy="478.0"/>
<circle cx="542.0" cy="485.4"/>
<circle cx="556.0" cy="485.2"/>
<circle cx="545.2" cy="486.9"/>
<circle cx="575.9" cy="471.9"/>
<circle cx="542.4" cy="493.5"/>
<circle cx="522.8" cy="501.7"/>
<circle cx="578.8" cy="469.8"/>
<circle cx="554.2" cy="485.6"/>
<circle cx="556.6" cy="481.7"/>
<circle cx="542.4" cy="498.5"/>
<circle cx="555.3" cy="483.4"/>
<circle cx="536.2" cy="496.1"/>
<circle cx="539.2" cy="495.7"/>
<circle cx="519.9" cy="504.1"/>
<circle cx="545.3" cy="493.3"/>
<circle cx="563.0" cy="488.4"/>
<circle cx="556.0" cy="480.5"/>
<circle cx="544.3" cy="494.7"/>
<circle cx="566.7" cy="479.0"/>
<circle cx="529.2" cy="497.8"/>
<circle cx="580.9" cy="470.8"/>
<circle cx="565.1" cy="480.4"/>
<circle cx="533.1" cy="492.1"/>
<circle cx="537.7" cy="487.2"/>
<circle cx="567.5" cy="476.3"/>
<circle cx="535.8" cy="504.0"/>
<circle cx="566.0" cy="485.8"/>
<circle cx="546.3" cy="499.0"/>
<circle cx="539.7" cy="486.6"/>
<circle cx="579.2" cy="472.1"/>
<circle cx="548.3" cy="494.1"/>
<circle cx="542.9" cy="495.7"/>
<circle cx="552.5" cy="487.5"/>
<circle cx="531.7" cy="498.4"/>
<circle cx="525.8" cy="501.3"/>
<circle cx="528.9" cy="501.4"/>
<circle cx="522.3" cy="504.0"/>
<circle cx="564.0" cy="476.8"/>
<circle cx="579.6" cy="469.5"/>
<circle cx="564.3" cy="477.0"/>
<circle cx="560.1" cy="473.5"/>
<circle cx="543.6" cy="489.1"/>
<circle cx="549.1" cy="487.4"/>
<circle cx="518.5" cy="503.7"/>
<circle cx="525.7" cy="500.5"/>
<circle cx="556.1" cy="481.3"/>
<circle cx="524.8" cy="502.4"/>
<circle cx="576.6" cy="474.3"/>
<circle cx="579.8" cy="471.4"/>
<circle cx="520.9" cy="497.7"/>
<circle cx="541.9" cy="491.0"/>
<circle cx="573.4" cy="478.6"/>
<circle cx="571.9" cy="479.8"/>
<circle cx="523.6" cy="502.4"/>
<circle cx="567.6" cy="473.1"/>
<circle cx="537.6" cy="491.8"/>
<circle cx="531.4" cy="502.0"/>
<circle cx="540.6" cy="490.0"/>
<circle cx="530.9" cy="499.9"/>
<circle cx="561.0" cy="475.3"/>
<circle cx="568.8" cy="476.0"/>
<circle cx="551.7" cy="485.0"/>
<circle cx="542.3" cy="485.3"/>
<circle cx="524.8" cy="504.5"/>
<circle cx="554.3" cy="483.9"/>
<circle cx="545.6" cy="492.9"/>
<circle cx="526.1" cy="491.2"/>
<circle cx="555.5" cy="495.8"/>
<circle cx="577.0" cy="474.2"/>
<circle cx="552.0" cy="485.8"/>
<circle cx="532.2" cy="500.7"/>
<circle cx="560.6" cy="484.9"/>
<circle cx="543.7" cy="487.1"/>
<circle cx="582.6" cy="472.1"/>
<circle cx="583.0" cy="470.0"/>
<circle cx="519.5" cy="502.6"/>
<circle cx="537.3" cy="495.2"/>
<circle cx="529.2" cy="492.7"/>
<circle cx="541.5" cy="491.7"/>
<circle cx="580.4" cy="472.0"/>
<circle cx="564.4" cy="478.9"/>
<circle cx="570.2" cy="469.9"/>
<circle cx="573.5" cy="473.5"/>
<circle cx="537.9" cy="496.4"/>
<circle cx="549.4" cy="495.1"/>
<circle cx="575.7" cy="475.4"/>
<circle cx="534.1" cy="494.9"/>
<circle cx="575.2" cy="474.9"/>
<circle cx="563.9" cy="480.3"/>
<circle cx="528.7" cy="497.7"/>
<circle cx="524.8" cy="502.3"/>
<circle cx="550.2" cy="485.8"/>
<circle cx="547.2" cy="485.5"/>
<circle cx="567.0" cy="478.7"/>
<circle cx="572.6" cy="475.1"/>
<circle cx="554.3" cy="482.5"/>
<circle cx="560.8" cy="485.2"/>
<circle cx="522.7" cy="501.5"/>
<circle cx="535.4" cy="499.0"/>
<circle cx="527.8" cy="500.9"/>
<circle cx="572.7" cy="475.1"/>
<circle cx="562.8" cy="483.8"/>
<circle cx="581.3" cy="469.9"/>
<circle cx="580.8" cy="469.6"/>
<circle cx="555.1" cy="480.9"/>
<circle cx="526.7" cy="505.4"/>
<circle cx="520.1" cy="503.2"/>
<circle cx="539.9" cy="485.1"/>
<circle cx="536.6" cy="498.2"/>
<circle cx="575.4" cy="470.4"/>
<circle cx="556.7" cy="483.9"/>
<circle cx="535.5" cy="492.9"/>
<circle cx="577.5" cy="473.2"/>
<circle cx="542.6" cy="484.3"/>
<circle cx="550.3" cy="486.8"/>
<circle cx="579.4" cy="468.8"/>
<circle cx="526.0" cy="503.4"/>
<circle cx="561.3" cy="480.5"/>
<circle cx="532.4" cy="497.9"/>
<circle cx="521.8" cy="503.1"/>
<circle cx="525.7" cy="505.2"/>
<circle cx="558.5" cy="487.1"/>
<circle cx="537.1" cy="490.1"/>
<circle cx="527.7" cy="498.9"/>
<circle cx="536.1" cy="486.4"/>
<circle cx="580.0" cy="473.7"/>
<circle cx="546.0" cy="495.3"/>
<circle cx="568.4" cy="474.8"/>
<circle cx="544.8" cy="482.4"/>
<circle cx="572.4" cy="474.8"/>
<circle cx="544.7" cy="488.1"/>
<circle cx="550.4" cy="485.3"/>
<circle cx="558.5" cy="485.5"/>
<circle cx="572.2" cy="479.3"/>
<circle cx="576.4" cy="471.2"/>
<circle cx="552.3" cy="487.4"/>
<circle cx="549.9" cy="483.1"/>
<circle cx="526.7" cy="502.2"/>
<circle cx="575.4" cy="474.5"/>
<circle cx="566.7" cy="487.6"/>
<circle cx="562.7" cy="478.7"/>
<circle cx="565.3" cy="480.3"/>
<circle cx="559.8" cy="477.0"/>
<circle cx="567.9" cy="483.4"/>
<circle cx="540.0" cy="494.3"/>
<circle cx="576.2" cy="472.0"/>
<circle cx="565.5" cy="484.7"/>
<circle cx="538.0" cy="492.6"/>
<circle cx="571.6" cy="476.4"/>
<circle cx="538.2" cy="489.7"/>
<circle cx="574.9" cy="473.0"/>
<circle cx="537.6" cy="497.9"/>
<circle cx="561.6" cy="485.6"/>
<circle cx="551.1" cy="488.1"/>
<circle cx="548.4" cy="484.6"/>
<circle cx="529.6" cy="504.3"/>
<circle cx="556.0" cy="485.2"/>
<circle cx="562.0" cy="477.5"/>
<circle cx="552.3" cy="488.8"/>
<circle cx="579.8" cy="475.8"/>
<circle cx="563.5" cy="477.0"/>
<circle cx="527.6" cy="500.3"/>
<circle cx="544.1" cy="488.4"/>
<circle cx="528.1" cy="504.3"/>
<circle cx="557.5" cy="485.3"/>
<circle cx="528.2" cy="503.9"/>
<circle cx="544.7" cy="494.6"/>
<circle cx="528.4" cy="494.6"/>
<circle cx="524.3" cy="502.8"/>
<circle cx="570.8" cy="475.4"/>
<circle cx="561.0" cy="475.8"/>
<circle cx="560.6" cy="482.4"/>
<circle cx="554.3" cy="487.8"/>
<circle cx="555.3" cy="482.5"/>
<circle cx="529.0" cy="497.5"/>
<circle cx="557.5" cy="476.3"/>
<circle cx="551.4" cy="489.3"/>
<circle cx="528.9" cy="499.7"/>
<circle cx="541.6" cy="495.4"/>
<circle cx="557.6" cy="483.0"/>
<circle cx="547.2" cy="484.2"/>
<circle cx="538.5" cy="494.7"/>
<circle cx="532.0" cy="500.0"/>
<circle cx="549.8" cy="485.4"/>
<circle cx="543.6" cy="490.8"/>
<circle cx="561.5" cy="477.8"/>
<circle cx="553.1" cy="490.0"/>
<circle cx="583.3" cy="470.8"/>
<circle cx="577.5" cy="473.6"/>
<circle cx="530.7" cy="505.3"/>
<circle cx="539.6" cy="490.3"/>
<circle cx="542.7" cy="490.1"/>
<circle cx="575.6" cy="472.3"/>
<circle cx="533.1" cy="494.3"/>
<circle cx="573.4" cy="476.7"/>
<circle cx="532.3" cy="492.1"/>
<circle cx="535.5" cy="485.5"/>
<circle cx="530.7" cy="497.8"/>
<circle cx="574.5" cy="468.9"/>
<circle cx="556.4" cy="481.9"/>
<circle cx="559.5" cy="483.7"/>
<circle cx="548.0" cy="487.4"/>
<circle cx="564.1" cy="472.2"/>
<circle cx="536.5" cy="505.1"/>
<circle cx="550.2" cy="490.4"/>
<circle cx="535.8" cy="491.0"/>
<circle cx="527.9" cy="496.4"/>
<circle cx="580.6" cy="471.7"/>
<circle cx="572.5" cy="474.8"/>
<circle cx="558.1" cy="486.5"/>
<circle cx="536.9" cy="500.7"/>
<circle cx="567.8" cy="482.7"/>
<circle cx="536.9" cy="492.1"/>
<circle cx="557.1" cy="486.2"/>
<circle cx="563.8" cy="483.2"/>
<circle cx="546.2" cy="495.2"/>
<circle cx="549.8" cy="486.5"/>
<circle cx="544.9" cy="484.6"/>
<circle cx="572.6" cy="475.3"/>
<circle cx="540.5" cy="487.7"/>
<circle cx="524.2" cy="499.0"/>
<circle cx="563.4" cy="485.0"/>
<circle cx="558.8" cy="481.7"/>
<circle cx="527.5" cy="496.9"/>
<circle cx="541.6" cy="497.2"/>
<circle cx="558.5" cy="486.1"/>
<circle cx="534.5" cy="493.0"/>
<circle cx="567.9" cy="478.9"/>
<circle cx="522.0" cy="495.4"/>
<circle cx="559.7" cy="489.2"/>
<circle cx="571.6" cy="481.5"/>
<circle cx="570.9" cy="475.7"/>
<circle cx="549.3" cy="496.0"/>
<circle cx="534.3" cy="491.6"/>
<circle cx="569.8" cy="477.5"/>
<circle cx="532.6" cy="497.5"/>
<circle cx="546.4" cy="493.3"/>
<circle cx="563.7" cy="477.1"/>
<circle cx="553.7" cy="481.4"/>
<circle cx="558.0" cy="475.0"/>
<circle cx="520.8" cy="502.1"/>
<circle cx="561.6" cy="477.2"/>
<circle cx="566.0" cy="481.6"/>
<circle cx="554.6" cy="484.0"/>
<circle cx="541.7" cy="488.9"/>
<circle cx="575.4" cy="473.1"/>
<circle cx="526.4" cy="498.4"/>
<circle cx="560.6" cy="483.8"/>
<circle cx="545.8" cy="489.5"/>
<circle cx="540.3" cy="491.3"/>
<circle cx="571.6" cy="480.8"/>
<circle cx="573.5" cy="474.6"/>
<circle cx="538.8" cy="497.0"/>
<circle cx="563.3" cy="473.8"/>
<circle cx="558.2" cy="475.1"/>
<circle cx="577.0" cy="471.9"/>
<circle cx="564.9" cy="478.7"/>
<circle cx="574.5" cy="474.5"/>
<circle cx="575.8" cy="473.2"/>
<circle cx="525.3" cy="501.8"/>
<circle cx="582.2" cy="469.2"/>
<circle cx="571.5" cy="472.8"/>
<circle cx="560.3" cy="480.7"/>
<circle cx="550.1" cy="485.3"/>
<circle cx="517.6" cy="503.4"/>
<circle cx="548.8" cy="491.6"/>
<circle cx="550.3" cy="485.7"/>
<circle cx="519.3" cy="507.1"/>
<circle cx="533.5" cy="499.6"/>
<circle cx="573.1" cy="475.9"/>
<circle cx="556.0" cy="480.2"/>
<circle cx="576.9" cy="473.5"/>
<circle cx="554.1" cy="486.0"/>
<circle cx="579.6" cy="467.9"/>
<circle cx="548.7" cy="490.5"/>
<circle cx="526.0" cy="501.0"/>
<circle cx="552.4" cy="483.3"/>
<circle cx="530.7" cy="495.3"/>
<circle cx="533.5" cy="496.5"/>
<circle cx="536.2" cy="494.2"/>
<circle cx="541.3" cy="487.2"/>
<circle cx="550.2" cy="489.4"/>
<circle cx="578.0" cy="474.7"/>
<circle cx="530.4" cy="495.5"/>
<circle cx="562.8" cy="484.1"/>
<circle cx="579.4" cy="476.4"/>
<circle cx="582.2" cy="469.7"/>
<circle cx="527.8" cy="504.7"/>
<circle cx="575.7" cy="479.3"/>
<circle cx="543.5" cy="493.3"/>
<circle cx="551.1" cy="490.4"/>
<circle cx="575.2" cy="470.1"/>
<circle cx="532.8" cy="494.6"/>
<circle cx="538.7" cy="488.7"/>
<circle cx="522.4" cy="503.8"/>
<circle cx="539.6" cy="493.1"/>
<circle cx="575.6" cy="472.0"/>
<circle cx="528.2" cy="506.3"/>
<circle cx="539.8" cy="496.3"/>
<circle cx="560.0" cy="475.9"/>
<circle cx="568.4" cy="478.2"/>
<circle cx="562.2" cy="474.4"/>
<circle cx="542.8" cy="498.6"/>
<circle cx="523.0" cy="500.3"/>
<circle cx="581.3" cy="471.8"/>
<circle cx="539.8" cy="497.7"/>
<circle cx="536.7" cy="496.5"/>
<circle cx="573.7" cy="472.7"/>
<circle cx="581.1" cy="468.9"/>
<circle cx="568.8" cy="479.6"/>
<circle cx="533.8" cy="491.4"/>
<circle cx="575.3" cy="473.3"/>
<circle cx="569.0" cy="478.1"/>
<circle cx="564.0" cy="477.9"/>
<circle cx="581.3" cy="470.5"/>
<circle cx="577.7" cy="470.9"/>
<circle cx="541.1" cy="490.3"/>
<circle cx="571.4" cy="478.0"/>
<circle cx="575.0" cy="470.0"/>
<circle cx="548.3" cy="488.8"/>
<circle cx="551.3" cy="486.0"/>
<circle cx="545.2" cy="488.7"/>
<circle cx="531.9" cy="495.9"/>
<circle cx="558.2" cy="486.8"/>
<circle cx="540.7" cy="489.1"/>
<circle cx="523.6" cy="506.4"/>
<circle cx="551.9" cy="487.4"/>
<circle cx="562.4" cy="483.7"/>
<circle cx="572.6" cy="476.5"/>
<circle cx="578.8" cy="470.6"/>
<circle cx="577.9" cy="474.4"/>
<circle cx="551.2" cy="490.8"/>
<circle cx="570.0" cy="474.6"/>
<circle cx="570.5" cy="481.8"/>
<circle cx="564.3" cy="485.1"/>
<circle cx="521.5" cy="497.1"/>
<circle cx="547.1" cy="487.7"/>
<circle cx="577.5" cy="467.0"/>
<circle cx="535.1" cy="495.6"/>
<circle cx="534.2" cy="497.6"/>
<circle cx="550.7" cy="495.4"/>
<circle cx="533.4" cy="491.5"/>
<circle cx="570.4" cy="480.0"/>
<circle cx="520.6" cy="502.4"/>
<circle cx="539.3" cy="496.9"/>
<circle cx="535.8" cy="497.9"/>
<circle cx="536.1" cy="495.6"/>
<circle cx="522.2" cy="502.2"/>
<circle cx="561.5" cy="485.8"/>
<circle cx="561.3" cy="489.3"/>
<circle cx="547.5" cy="480.3"/>
<circle cx="553.6" cy="487.2"/>
<circle cx="535.2" cy="494.5"/>
<circle cx="537.8" cy="492.6"/>
<circle cx="522.4" cy="501.9"/>
<circle cx="559.4" cy="478.7"/>
<circle cx="573.6" cy="470.6"/>
<circle cx="580.0" cy="472.7"/>
<circle cx="533.1" cy="500.5"/>
<circle cx="539.7" cy="494.3"/>
<circle cx="566.7" cy="474.8"/>
<circle cx="564.2" cy="478.9"/>
<circle cx="554.2" cy="479.3"/>
<circle cx="576.0" cy="477.7"/>
<circle cx="556.9" cy="483.9"/>
<circle cx="578.0" cy="472.2"/>
<circle cx="526.9" cy="501.6"/>
<circle cx="555.9" cy="480.8"/>
<circle cx="576.6" cy="469.9"/>
<circle cx="562.3" cy="475.6"/>
<circle cx="576.3" cy="472.5"/>
<circle cx="558.5" cy="480.5"/>
<circle cx="579.4" cy="473.0"/>
<circle cx="548.0" cy="491.4"/>
<circle cx="543.5" cy="490.8"/>
<circle cx="577.4" cy="470.1"/>
<circle cx="534.7" cy="498.9"/>
<circle cx="548.0" cy="491.1"/>
<circle cx="524.2" cy="500.7"/>
<circle cx="582.0" cy="470.5"/>
<circle cx="521.5" cy="503.0"/>
<circle cx="532.4" cy="496.7"/>
<circle cx="534.8" cy="506.4"/>
<circle cx="551.3" cy="496.8"/>
<circle cx="557.7" cy="477.8"/>
<circle cx="542.2" cy="495.9"/>
<circle cx="521.8" cy="503.1"/>
<circle cx="541.7" cy="496.0"/>
<circle cx="561.4" cy="471.1"/>
<circle cx="521.8" cy="502.6"/>
<circle cx="525.3" cy="500.3"/>
<circle cx="571.2" cy="474.5"/>
<circle cx="529.1" cy="506.5"/>
<circle cx="551.8" cy="481.5"/>
<circle cx="575.9" cy="472.9"/>
<circle cx="579.8" cy="471.3"/>
<circle cx="547.9" cy="483.5"/>
<circle cx="526.7" cy="500.6"/>
<circle cx="525.9" cy="498.9"/>
<circle cx="564.0" cy="473.7"/>
<circle cx="542.5" cy="493.2"/>
<circle cx="581.0" cy="470.9"/>
<circle cx="542.1" cy="495.3"/>
<circle cx="562.1" cy="486.8"/>
<circle cx="555.7" cy="485.8"/>
<circle cx="524.3" cy="497.7"/>
<circle cx="557.5" cy="480.8"/>
<circle cx="553.3" cy="490.2"/>
<circle cx="547.5" cy="490.3"/>
<circle cx="551.6" cy="484.6"/>
<circle cx="547.3" cy="486.1"/>
<circle cx="556.4" cy="481.9"/>
<circle cx="554.3" cy="488.7"/>
<circle cx="566.9" cy="481.4"/>
<circle cx="579.5" cy="471.3"/>
<circle cx="564.4" cy="485.6"/>
<circle cx="565.1" cy="479.2"/>
<circle cx="554.2" cy="478.8"/>
<circle cx="566.4" cy="474.9"/>
<circle cx="524.1" cy="507.1"/>
<circle cx="570.6" cy="476.0"/>
<circle cx="580.5" cy="470.0"/>
<circle cx="579.6" cy="470.0"/>
<circle cx="538.3" cy="493.9"/>
<circle cx="572.4" cy="478.2"/>
<circle cx="536.9" cy="490.9"/>
<circle cx="541.1" cy="487.0"/>
<circle cx="548.9" cy="487.8"/>
<circle cx="545.6" cy="491.9"/>
<circle cx="572.5" cy="479.2"/>
<circle cx="538.0" cy="495.2"/>
<circle cx="539.0" cy="493.3"/>
<circle cx="572.2" cy="477.4"/>
<circle cx="535.0" cy="496.6"/>
<circle cx="566.7" cy="474.5"/>
<circle cx="557.2" cy="475.7"/>
<circle cx="559.2" cy="472.9"/>
<circle cx="534.5" cy="492.2"/>
<circle cx="560.9" cy="483.6"/>
<circle cx="537.0" cy="495.2"/>
<circle cx="554.1" cy="483.5"/>
<circle cx="572.6" cy="475.8"/>
<circle cx="579.8" cy="473.4"/>
<circle cx="532.0" cy="495.6"/>
<circle cx="559.2" cy="483.6"/>
<circle cx="550.2" cy="489.4"/>
<circle cx="528.3" cy="494.0"/>
<circle cx="536.9" cy="492.7"/>
<circle cx="562.3" cy="478.6"/>
<circle cx="523.6" cy="501.0"/>
<circle cx="533.5" cy="496.5"/>
<circle cx="544.2" cy="485.7"/>
<circle cx="556.2" cy="485.7"/>
<circle cx="562.0" cy="481.2"/>
<circle cx="572.9" cy="478.4"/>
<circle cx="560.6" cy="488.0"/>
<circle cx="532.4" cy="502.1"/>
<circle cx="539.8" cy="500.5"/>
<circle cx="565.2" cy="479.5"/>
<circle cx="567.2" cy="477.6"/>
<circle cx="526.0" cy="500.6"/>
<circle cx="517.1" cy="501.7"/>
<circle cx="523.4" cy="506.4"/>
<circle cx="569.3" cy="472.4"/>
<circle cx="578.5" cy="473.5"/>
<circle cx="572.1" cy="471.2"/>
<circle cx="526.7" cy="498.5"/>
<circle cx="582.5" cy="469.1"/>
<circle cx="564.8" cy="475.7"/>
<circle cx="548.1" cy="497.3"/>
<circle cx="560.7" cy="489.9"/>
<circle cx="571.2" cy="478.5"/>
<circle cx="582.7" cy="469.4"/>
<circle cx="528.8" cy="496.7"/>
<circle cx="571.4" cy="470.1"/>
<circle cx="548.5" cy="483.3"/>
<circle cx="579.1" cy="475.0"/>
<circle cx="553.2" cy="485.3"/>
<circle cx="542.5" cy="490.0"/>
<circle cx="577.0" cy="471.4"/>
<circle cx="562.7" cy="478.5"/>
<circle cx="562.2" cy="474.5"/>
<circle cx="526.2" cy="503.2"/>
<circle cx="572.9" cy="472.0"/>
<circle cx="519.6" cy="501.5"/>
<circle cx="531.3" cy="494.7"/>
<circle cx="547.4" cy="486.5"/>
<circle cx="554.9" cy="478.6"/>
<circle cx="568.4" cy="475.0"/>
<circle cx="570.2" cy="480.8"/>
<circle cx="539.6" cy="492.1"/>
<circle cx="569.3" cy="476.0"/>
<circle cx="530.8" cy="500.1"/>
<circle cx="533.8" cy="497.0"/>
<circle cx="569.4" cy="471.7"/>
<circle cx="560.7" cy="480.2"/>
<circle cx="551.9" cy="485.7"/>
<circle cx="582.9" cy="469.1"/>
<circle cx="521.6" cy="501.7"/>
<circle cx="577.6" cy="474.1"/>
<circle cx="551.7" cy="492.3"/>
<circle cx="581.0" cy="470.9"/>
<circle cx="559.3" cy="483.2"/>
<circle cx="558.3" cy="480.5"/>
<circle cx="538.0" cy="493.1"/>
<circle cx="580.2" cy="475.4"/>
<circle cx="527.9" cy="497.1"/>
<circle cx="561.8" cy="481.4"/>
<circle cx="542.3" cy="487.8"/>
<circle cx="540.0" cy="492.7"/>
<circle cx="535.9" cy="495.5"/>
<circle cx="565.3" cy="477.4"/>
<circle cx="569.3" cy="475.6"/>
<circle cx="563.1" cy="482.3"/>
<circle cx="548.0" cy="489.6"/>
<circle cx="547.8" cy="480.2"/>
<circle cx="540.8" cy="490.8"/>
<circle cx="567.5" cy="474.7"/>
<circle cx="579.7" cy="473.5"/>
<circle cx="546.5" cy="492.2"/>
<circle cx="564.3" cy="484.6"/>
<circle cx="559.9" cy="495.8"/>
<circle cx="567.3" cy="482.4"/>
<circle cx="546.2" cy="494.8"/>
<circle cx="580.9" cy="471.5"/>
<circle cx="566.4" cy="481.2"/>
<circle cx="551.9" cy="484.0"/>
<circle cx="556.5" cy="487.8"/>
<circle cx="539.5" cy="487.0"/>
<circle cx="579.9" cy="469.7"/>
<circle cx="539.0" cy="490.9"/>
<circle cx="537.7" cy="490.1"/>
<circle cx="566.3" cy="478.2"/>
<circle cx="561.2" cy="478.1"/>
<circle cx="522.2" cy="504.1"/>
<circle cx="549.3" cy="490.5"/>
<circle cx="545.8" cy="491.1"/>
<circle cx="519.9" cy="504.6"/>
<circle cx="556.0" cy="484.4"/>
<circle cx="580.7" cy="468.9"/>
<circle cx="563.1" cy="480.9"/>
<circle cx="535.3" cy="497.9"/>
<circle cx="568.4" cy="476.6"/>
<circle cx="566.5" cy="476.3"/>
<circle cx="581.6" cy="469.1"/>
<circle cx="578.8" cy="474.7"/>
<circle cx="542.2" cy="492.9"/>
<circle cx="534.1" cy="496.9"/>
<circle cx="521.3" cy="499.9"/>
<circle cx="533.5" cy="492.3"/>
<circle cx="531.5" cy="501.2"/>
<circle cx="578.2" cy="475.1"/>
<circle cx="533.4" cy="492.9"/>
<circle cx="574.0" cy="479.0"/>
<circle cx="581.2" cy="468.6"/>
<circle cx="566.3" cy="480.9"/>
<circle cx="519.4" cy="503.9"/>
<circle cx="556.8" cy="488.2"/>
<circle cx="541.0" cy="486.9"/>
<circle cx="525.2" cy="497.4"/>
<circle cx="564.5" cy="482.1"/>
<circle cx="556.9" cy="488.1"/>
<circle cx="549.5" cy="490.6"/>
<circle cx="529.0" cy="503.0"/>
<circle cx="537.7" cy="502.1"/>
<circle cx="549.1" cy="487.8"/>
<circle cx="564.4" cy="483.9"/>
<circle cx="555.5" cy="484.9"/>
<circle cx="545.0" cy="484.3"/>
<circle cx="550.4" cy="494.3"/>
<circle cx="537.3" cy="494.6"/>
<circle cx="534.3" cy="503.8"/>
<circle cx="543.8" cy="489.9"/>
<circle cx="552.1" cy="497.7"/>
<circle cx="562.2" cy="487.0"/>
<circle cx="560.7" cy="486.1"/>
<circle cx="579.2" cy="469.8"/>
<circle cx="531.6" cy="496.3"/>
<circle cx="527.3" cy="502.5"/>
<circle cx="568.0" cy="476.0"/>
<circle cx="547.8" cy="485.6"/>
<circle cx="563.2" cy="481.2"/>
<circle cx="523.3" cy="502.5"/>
<circle cx="543.2" cy="491.2"/>
<circle cx="554.4" cy="483.8"/>
<circle cx="564.3" cy="485.5"/>
<circle cx="547.7" cy="488.4"/>
<circle cx="538.7" cy="492.1"/>
<circle cx="549.9" cy="487.5"/>
<circle cx="562.6" cy="477.1"/>
<circle cx="537.4" cy="502.1"/>
<circle cx="543.0" cy="486.6"/>
<circle cx="523.1" cy="505.4"/>
<circle cx="531.3" cy="502.6"/>
<circle cx="568.4" cy="477.3"/>
<circle cx="583.1" cy="469.4"/>
<circle cx="532.5" cy="499.3"/>
<circle cx="534.4" cy="504.0"/>
<circle cx="571.8" cy="477.3"/>
<circle cx="552.8" cy="476.0"/>
<circle cx="554.0" cy="482.2"/>
<circle cx="556.5" cy="479.2"/>
<circle cx="575.0" cy="472.1"/>
<circle cx="545.7" cy="487.6"/>
<circle cx="537.5" cy="496.2"/>
<circle cx="522.9" cy="499.6"/>
<circle cx="575.2" cy="474.4"/>
<circle cx="556.7" cy="481.1"/>
<circle cx="544.1" cy="494.1"/>
<circle cx="546.1" cy="484.6"/>
<circle cx="528.7" cy="499.2"/>
<circle cx="534.7" cy="494.4"/>
<circle cx="563.6" cy="477.7"/>
<circle cx="574.4" cy="472.8"/>
<circle cx="572.9" cy="486.7"/>
<circle cx="542.8" cy="491.0"/>
<circle cx="530.3" cy="490.6"/>
<circle cx="565.4" cy="481.0"/>
<circle cx="542.4" cy="486.4"/>
<circle cx="534.6" cy="491.3"/>
<circle cx="546.1" cy="488.3"/>
<circle cx="523.9" cy="504.0"/>
<circle cx="544.1" cy="495.6"/>
<circle cx="551.9" cy="481.0"/>
<circle cx="548.2" cy="488.9"/>
<circle cx="538.1" cy="496.4"/>
<circle cx="573.3" cy="480.0"/>
<circle cx="538.1" cy="493.7"/>
<circle cx="563.9" cy="483.4"/>
<circle cx="530.4" cy="495.2"/>
<circle cx="533.9" cy="498.2"/>
<circle cx="564.5" cy="487.3"/>
<circle cx="557.6" cy="478.8"/>
<circle cx="549.0" cy="487.1"/>
<circle cx="540.2" cy="482.6"/>
<circle cx="543.9" cy="490.6"/>
<circle cx="534.5" cy="498.5"/>
<circle cx="545.0" cy="493.4"/>
<circle cx="564.5" cy="478.0"/>
<circle cx="576.0" cy="477.0"/>
<circle cx="580.7" cy="470.8"/>
<circle cx="545.6" cy="482.0"/>
<circle cx="527.6" cy="494.1"/>
<circle cx="543.7" cy="489.3"/>
<circle cx="557.5" cy="490.1"/>
<circle cx="557.2" cy="476.7"/>
<circle cx="577.5" cy="469.3"/>
<circle cx="558.6" cy="480.0"/>
<circle cx="557.1" cy="480.1"/>
<circle cx="559.5" cy="476.9"/>
<circle cx="570.2" cy="471.6"/>
<circle cx="531.7" cy="504.0"/>
<circle cx="584.2" cy="469.7"/>
<circle cx="556.8" cy="491.5"/>
<circle cx="549.9" cy="487.4"/>
<circle cx="525.8" cy="501.7"/>
<circle cx="537.3" cy="490.0"/>
<circle cx="574.8" cy="477.1"/>
<circle cx="583.4" cy="468.8"/>
<circle cx="529.6" cy="499.8"/>
<circle cx="576.8" cy="473.8"/>
<circle cx="542.0" cy="486.1"/>
<circle cx="575.5" cy="473.4"/>
<circle cx="551.5" cy="493.2"/>
<circle cx="570.8" cy="477.6"/>
<circle cx="537.1" cy="496.9"/>
<circle cx="528.3" cy="501.3"/>
<circle cx="562.6" cy="478.6"/>
<circle cx="532.4" cy="496.1"/>
<circle cx="563.8" cy="474.9"/>
<circle cx="523.7" cy="504.8"/>
<circle cx="539.5" cy="491.2"/>
<circle cx="523.3" cy="500.0"/>
<circle cx="520.2" cy="506.8"/>
<circle cx="523.4" cy="497.2"/>
<circle cx="543.5" cy="497.0"/>
<circle cx="526.1" cy="500.3"/>
<circle cx="541.6" cy="486.8"/>
<circle cx="546.0" cy="483.1"/>
<circle cx="528.3" cy="497.4"/>
<circle cx="576.3" cy="476.9"/>
<circle cx="560.3" cy="481.3"/>
<circle cx="523.9" cy="502.4"/>
<circle cx="559.7" cy="480.8"/>
<circle cx="577.4" cy="471.6"/>
<circle cx="580.9" cy="470.6"/>
<circle cx="582.9" cy="471.8"/>
<circle cx="582.5" cy="469.4"/>
<circle cx="561.3" cy="479.4"/>
<circle cx="522.5" cy="505.3"/>
<circle cx="520.2" cy="502.5"/>
<circle cx="537.2" cy="501.1"/>
<circle cx="568.1" cy="483.2"/>
<circle cx="545.2" cy="490.2"/>
<circle cx="561.6" cy="482.1"/>
<circle cx="543.9" cy="492.6"/>
<circle cx="564.3" cy="478.6"/>
<circle cx="574.1" cy="478.4"/>
<circle cx="521.3" cy="502.5"/>
<circle cx="581.8" cy="469.6"/>
<circle cx="560.9" cy="495.6"/>
<circle cx="574.8" cy="473.2"/>
<circle cx="521.7" cy="498.1"/>
<circle cx="566.6" cy="489.1"/>
<circle cx="526.4" cy="500.1"/>
<circle cx="549.7" cy="488.5"/>
<circle cx="525.6" cy="504.9"/>
<circle cx="566.7" cy="476.8"/>
<circle cx="563.1" cy="483.7"/>
<circle cx="540.7" cy="490.7"/>
<circle cx="533.5" cy="503.3"/>
<circle cx="522.2" cy="503.6"/>
<circle cx="576.0" cy="482.5"/>
<circle cx="570.9" cy="481.1"/>
<circle cx="549.8" cy="494.8"/>
<circle cx="542.6" cy="491.1"/>
<circle cx="563.1" cy="482.3"/>
<circle cx="576.1" cy="474.3"/>
<circle cx="581.7" cy="470.5"/>
<circle cx="536.5" cy="500.7"/>
<circle cx="541.7" cy="490.0"/>
<circle cx="570.6" cy="475.2"/>
<circle cx="546.4" cy="487.5"/>
<circle cx="527.6" cy="501.7"/>
<circle cx="547.3" cy="488.3"/>
<circle cx="552.5" cy="491.0"/>
<circle cx="566.7" cy="480.0"/>
<circle cx="539.3" cy="496.1"/>
<circle cx="561.4" cy="483.1"/>
<circle cx="567.6" cy="473.9"/>
<circle cx="578.7" cy="473.2"/>
<circle cx="541.5" cy="497.8"/>
<circle cx="577.9" cy="471.6"/>
<circle cx="534.4" cy="496.9"/>
<circle cx="558.5" cy="493.1"/>
<circle cx="517.5" cy="503.5"/>
<circle cx="552.8" cy="486.0"/>
<circle cx="530.8" cy="494.5"/>
<circle cx="541.6" cy="501.3"/>
<circle cx="529.7" cy="497.2"/>
<circle cx="572.2" cy="475.0"/>
<circle cx="553.3" cy="493.9"/>
<circle cx="548.6" cy="494.6"/>
<circle cx="552.0" cy="494.3"/>
<circle cx="562.3" cy="480.8"/>
<circle cx="558.5" cy="478.7"/>
<circle cx="530.2" cy="505.2"/>
<circle cx="561.3" cy="493.3"/>
<circle cx="550.7" cy="489.5"/>
<circle cx="555.6" cy="485.3"/>
<circle cx="543.4" cy="490.1"/>
<circle cx="526.2" cy="498.9"/>
<circle cx="578.0" cy="475.7"/>
<circle cx="518.0" cy="505.1"/>
<circle cx="563.6" cy="478.6"/>
<circle cx="576.9" cy="470.0"/>
<circle cx="551.4" cy="485.7"/>
<circle cx="543.2" cy="489.7"/>
<circle cx="578.7" cy="473.0"/>
<circle cx="534.6" cy="496.9"/>
<circle cx="574.4" cy="479.1"/>
<circle cx="572.5" cy="473.9"/>
<circle cx="533.4" cy="495.1"/>
<circle cx="550.4" cy="492.1"/>
<circle cx="566.6" cy="470.7"/>
<circle cx="536.9" cy="497.7"/>
<circle cx="582.8" cy="467.3"/>
<circle cx="537.3" cy="498.3"/>
<circle cx="516.6" cy="504.9"/>
<circle cx="573.5" cy="474.5"/>
<circle cx="530.8" cy="498.1"/>
<circle cx="562.3" cy="481.2"/>
<circle cx="520.5" cy="498.1"/>
<circle cx="559.6" cy="482.8"/>
<circle cx="530.3" cy="495.9"/>
<circle cx="553.7" cy="483.9"/>
<circle cx="551.1" cy="493.7"/>
<circle cx="566.8" cy="478.4"/>
<circle cx="573.7" cy="474.7"/>
<circle cx="525.2" cy="496.4"/>
<circle cx="569.7" cy="484.9"/>
<circle cx="526.1" cy="499.7"/>
<circle cx="569.5" cy="472.6"/>
<circle cx="556.6" cy="483.5"/>
<circle cx="564.7" cy="486.3"/>
<circle cx="547.5" cy="492.1"/>
<circle cx="545.5" cy="488.4"/>
<circle cx="553.9" cy="489.4"/>
<circle cx="577.9" cy="472.7"/>
<circle cx="536.2" cy="497.0"/>
<circle cx="581.7" cy="467.8"/>
<circle cx="569.1" cy="476.4"/>
<circle cx="565.7" cy="485.8"/>
<circle cx="580.3" cy="471.5"/>
<circle cx="564.9" cy="479.4"/>
<circle cx="577.8" cy="468.1"/>
<circle cx="532.1" cy="500.9"/>
<circle cx="564.6" cy="481.2"/>
<circle cx="523.9" cy="499.2"/>
<circle cx="532.8" cy="498.5"/>
<circle cx="536.9" cy="490.6"/>
<circle cx="558.8" cy="482.4"/>
<circle cx="542.1" cy="498.1"/>
<circle cx="534.8" cy="495.5"/>
<circle cx="575.6" cy="477.1"/>
<circle cx="527.5" cy="502.9"/>
<circle cx="524.4" cy="496.1"/>
<circle cx="552.9" cy="488.3"/>
<circle cx="521.0" cy="502.5"/>
<circle cx="573.8" cy="473.9"/>
<circle cx="554.8" cy="501.1"/>
<circle cx="519.5" cy="499.8"/>
<circle cx="524.6" cy="503.0"/>
<circle cx="533.1" cy="499.3"/>
<circle cx="549.8" cy="487.7"/>
<circle cx="551.5" cy="481.2"/>
<circle cx="559.4" cy="490.5"/>
<circle cx="538.8" cy="496.5"/>
<circle cx="577.7" cy="478.0"/>
<circle cx="516.8" cy="505.2"/>
<circle cx="560.8" cy="487.0"/>
<circle cx="553.4" cy="483.2"/>
<circle cx="541.4" cy="494.6"/>
<circle cx="536.0" cy="499.4"/>
<circle cx="529.9" cy="495.6"/>
<circle cx="565.7" cy="475.4"/>
<circle cx="551.5" cy="490.6"/>
<circle cx="525.3" cy="504.9"/>
<circle cx="562.5" cy="482.1"/>
<circle cx="525.1" cy="508.7"/>
<circle cx="529.1" cy="504.9"/>
<circle cx="566.6" cy="476.2"/>
<circle cx="534.9" cy="500.4"/>
<circle cx="542.4" cy="491.3"/>
<circle cx="581.9" cy="472.6"/>
<circle cx="571.6" cy="473.8"/>
<circle cx="531.0" cy="498.4"/>
<circle cx="530.3" cy="497.2"/>
<circle cx="563.1" cy="479.8"/>
<circle cx="553.6" cy="487.2"/>
<circle cx="524.3" cy="502.7"/>
<circle cx="543.8" cy="486.3"/>
<circle cx="580.1" cy="473.0"/>
<circle cx="533.5" cy="489.7"/>
<circle cx="550.2" cy="481.8"/>
<circle cx="556.9" cy="479.4"/>
<circle cx="537.3" cy="501.6"/>
<circle cx="547.1" cy="490.4"/>
<circle cx="574.1" cy="471.2"/>
<circle cx="558.6" cy="484.7"/>
<circle cx="529.8" cy="500.4"/>
<circle cx="541.8" cy="491.5"/>
<circle cx="528.1" cy="505.2"/>
<circle cx="539.6" cy="504.9"/>
<circle cx="563.8" cy="479.7"/>
<circle cx="544.1" cy="484.0"/>
<circle cx="541.8" cy="492.2"/>
<circle cx="566.7" cy="473.1"/>
<circle cx="538.2" cy="491.5"/>
<circle cx="520.2" cy="507.8"/>
<circle cx="568.3" cy="480.1"/>
<circle cx="543.3" cy="486.0"/>
<circle cx="565.9" cy="483.4"/>
<circle cx="559.5" cy="489.0"/>
<circle cx="535.9" cy="496.6"/>
<circle cx="531.1" cy="498.9"/>
<circle cx="582.8" cy="469.8"/>
<circle cx="543.9" cy="486.4"/>
<circle cx="562.1" cy="481.7"/>
<circle cx="526.7" cy="503.2"/>
<circle cx="572.3" cy="475.6"/>
<circle cx="525.2" cy="505.8"/>
<circle cx="578.1" cy="473.1"/>
<circle cx="567.1" cy="481.3"/>
<circle cx="540.1" cy="495.4"/>
<circle cx="572.7" cy="471.9"/>
<circle cx="524.2" cy="506.8"/>
<circle cx="569.2" cy="480.1"/>
<circle cx="557.4" cy="481.3"/>
<circle cx="538.0" cy="497.4"/>
<circle cx="530.4" cy="502.7"/>
<circle cx="556.8" cy="483.2"/>
<circle cx="553.6" cy="497.2"/>
<circle cx="540.8" cy="489.4"/>
<circle cx="534.0" cy="495.2"/>
<circle cx="528.6" cy="503.1"/>
<circle cx="534.7" cy="497.1"/>
<circle cx="535.0" cy="497.0"/>
<circle cx="543.8" cy="491.5"/>
<circle cx="553.6" cy="481.8"/>
<circle cx="569.5" cy="477.0"/>
<circle cx="579.7" cy="471.1"/>
<circle cx="524.1" cy="498.6"/>
<circle cx="534.1" cy="491.2"/>
<circle cx="528.3" cy="500.3"/>
<circle cx="559.6" cy="485.6"/>
<circle cx="551.7" cy="488.7"/>
<circle cx="545.7" cy="487.4"/>
<circle cx="577.6" cy="480.3"/>
<circle cx="529.6" cy="504.4"/>
<circle cx="568.7" cy="480.5"/>
<circle cx="556.7" cy="490.9"/>
<circle cx="570.8" cy="473.6"/>
<circle cx="582.2" cy="470.2"/>
<circle cx="569.0" cy="486.8"/>
<circle cx="571.5" cy="472.5"/>
<circle cx="534.5" cy="499.9"/>
<circle cx="554.0" cy="491.0"/>
<circle cx="537.0" cy="492.0"/>
<circle cx="558.3" cy="481.0"/>
<circle cx="565.4" cy="475.7"/>
<circle cx="556.5" cy="485.2"/>
<circle cx="559.7" cy="484.9"/>
<circle cx="573.6" cy="478.5"/>
<circle cx="570.3" cy="476.8"/>
<circle cx="521.4" cy="502.3"/>
<circle cx="535.7" cy="487.6"/>
<circle cx="541.6" cy="488.3"/>
<circle cx="571.2" cy="474.8"/>
<circle cx="539.7" cy="489.8"/>
<circle cx="547.3" cy="486.2"/>
<circle cx="578.5" cy="473.8"/>
<circle cx="520.4" cy="500.5"/>
<circle cx="579.1" cy="470.4"/>
<circle cx="549.0" cy="492.2"/>
<circle cx="576.0" cy="473.5"/>
<circle cx="540.2" cy="496.1"/>
<circle cx="567.1" cy="475.5"/>
<circle cx="550.8" cy="485.5"/>
<circle cx="538.1" cy="491.0"/>
<circle cx="550.3" cy="483.5"/>
<circle cx="560.7" cy="480.0"/>
<circle cx="552.8" cy="485.0"/>
<circle cx="583.8" cy="470.4"/>
<circle cx="537.7" cy="490.8"/>
<circle cx="534.5" cy="500.8"/>
<circle cx="560.1" cy="480.4"/>
<circle cx="572.5" cy="471.4"/>
<circle cx="538.3" cy="499.6"/>
<circle cx="546.1" cy="485.4"/>
<circle cx="568.6" cy="476.2"/>
<circle cx="555.6" cy="481.8"/>
<circle cx="579.9" cy="469.3"/>
<circle cx="572.5" cy="471.8"/>
<circle cx="532.0" cy="491.2"/>
<circle cx="522.9" cy="503.4"/>
<circle cx="547.8" cy="493.6"/>
<circle cx="523.0" cy="499.9"/>
<circle cx="553.1" cy="488.4"/>
<circle cx="540.1" cy="502.0"/>
<circle cx="553.4" cy="486.6"/>
<circle cx="553.1" cy="478.2"/>
<circle cx="554.0" cy="484.0"/>
<circle cx="558.1" cy="481.0"/>
<circle cx="570.8" cy="480.3"/>
<circle cx="573.9" cy="472.2"/>
<circle cx="531.0" cy="503.3"/>
<circle cx="556.8" cy="481.3"/>
<circle cx="561.7" cy="481.0"/>
<circle cx="567.7" cy="473.7"/>
<circle cx="545.5" cy="490.3"/>
<circle cx="556.8" cy="482.3"/>
<circle cx="570.5" cy="478.8"/>
<circle cx="531.7" cy="501.6"/>
<circle cx="530.2" cy="499.1"/>
<circle cx="533.4" cy="498.7"/>
<circle cx="535.4" cy="499.3"/>
<circle cx="575.8" cy="471.3"/>
<circle cx="555.4" cy="486.8"/>
<circle cx="537.7" cy="499.0"/>
<circle cx="533.2" cy="501.0"/>
<circle cx="563.0" cy="477.8"/>
<circle cx="529.7" cy="498.5"/>
<circle cx="526.3" cy="500.1"/>
<circle cx="574.9" cy="470.8"/>
<circle cx="540.6" cy="495.6"/>
<circle cx="546.7" cy="481.2"/>
<circle cx="561.8" cy="479.2"/>
<circle cx="551.9" cy="486.3"/>
<circle cx="557.8" cy="493.3"/>
<circle cx="549.5" cy="490.9"/>
<circle cx="544.9" cy="493.7"/>
<circle cx="572.7" cy="478.3"/>
<circle cx="527.0" cy="498.3"/>
<circle cx="528.3" cy="493.4"/>
<circle cx="556.9" cy="487.0"/>
<circle cx="565.5" cy="486.3"/>
<circle cx="574.9" cy="480.9"/>
<circle cx="571.2" cy="474.8"/>
<circle cx="564.5" cy="479.0"/>
<circle cx="554.0" cy="490.4"/>
<circle cx="546.0" cy="489.6"/>
<circle cx="549.7" cy="499.8"/>
<circle cx="542.3" cy="496.7"/>
<circle cx="576.3" cy="470.8"/>
<circle cx="533.9" cy="494.0"/>
<circle cx="554.5" cy="490.5"/>
<circle cx="549.8" cy="486.7"/>
<circle cx="576.7" cy="481.2"/>
<circle cx="571.8" cy="474.2"/>
<circle cx="540.0" cy="492.3"/>
<circle cx="551.2" cy="484.5"/>
<circle cx="576.2" cy="472.6"/>
<circle cx="569.6" cy="478.0"/>
<circle cx="559.4" cy="483.5"/>
<circle cx="550.9" cy="483.2"/>
<circle cx="569.3" cy="475.0"/>
<circle cx="571.5" cy="478.0"/>
<circle cx="560.7" cy="487.0"/>
<circle cx="580.5" cy="470.2"/>
<circle cx="536.3" cy="499.6"/>
<circle cx="581.9" cy="470.4"/>
<circle cx="579.8" cy="475.9"/>
<circle cx="522.5" cy="501.0"/>
<circle cx="551.8" cy="492.2"/>
<circle cx="552.3" cy="489.7"/>
<circle cx="532.5" cy="494.9"/>
<circle cx="535.9" cy="497.8"/>
<circle cx="550.9" cy="487.2"/>
<circle cx="522.0" cy="503.7"/>
<circle cx="573.8" cy="473.5"/>
<circle cx="528.4" cy="498.4"/>
<circle cx="525.8" cy="504.6"/>
<circle cx="550.9" cy="484.6"/>
<circle cx="527.7" cy="505.0"/>
<circle cx="575.2" cy="472.1"/>
<circle cx="563.6" cy="478.4"/>
<circle cx="542.6" cy="496.4"/>
<circle cx="541.3" cy="492.5"/>
<circle cx="522.4" cy="501.9"/>
<circle cx="539.7" cy="489.3"/>
<circle cx="539.7" cy="497.5"/>
<circle cx="562.3" cy="479.9"/>
<circle cx="522.6" cy="501.5"/>
<circle cx="521.0" cy="498.7"/>
<circle cx="544.2" cy="492.1"/>
<circle cx="558.3" cy="480.8"/>
<circle cx="539.2" cy="493.3"/>
<circle cx="528.9" cy="504.4"/>
<circle cx="528.2" cy="507.1"/>
<circle cx="531.0" cy="502.8"/>
<circle cx="528.4" cy="494.0"/>
<circle cx="573.7" cy="473.3"/>
<circle cx="541.3" cy="501.4"/>
<circle cx="531.9" cy="500.9"/>
<circle cx="574.8" cy="476.3"/>
<circle cx="578.4" cy="471.1"/>
<circle cx="538.0" cy="490.4"/>
<circle cx="546.0" cy="489.7"/>
<circle cx="554.9" cy="488.8"/>
<circle cx="523.0" cy="497.8"/>
<circle cx="573.6" cy="479.8"/>
<circle cx="552.6" cy="488.6"/>
<circle cx="579.9" cy="469.5"/>
<circle cx="572.8" cy="474.2"/>
<circle cx="533.1" cy="504.3"/>
<circle cx="550.0" cy="485.7"/>
<circle cx="556.2" cy="487.8"/>
<circle cx="544.1" cy="498.7"/>
<circle cx="530.5" cy="501.9"/>
<circle cx="571.0" cy="475.8"/>
<circle cx="530.7" cy="495.8"/>
<circle cx="540.6" cy="495.9"/>
<circle cx="579.2" cy="468.6"/>
<circle cx="556.4" cy="488.2"/>
<circle cx="522.5" cy="500.1"/>
<circle cx="553.4" cy="490.1"/>
<circle cx="548.9" cy="483.6"/>
<circle cx="560.9" cy="484.2"/>
<circle cx="568.2" cy="478.0"/>
<circle cx="566.6" cy="476.0"/>
<circle cx="529.1" cy="500.0"/>
<circle cx="552.4" cy="482.4"/>
<circle cx="540.2" cy="492.3"/>
<circle cx="524.6" cy="501.0"/>
<circle cx="550.6" cy="487.7"/>
<circle cx="575.1" cy="474.1"/>
<circle cx="539.5" cy="490.3"/>
<circle cx="561.6" cy="484.0"/>
<circle cx="582.8" cy="470.4"/>
<circle cx="523.3" cy="505.2"/>
<circle cx="543.0" cy="485.0"/>
<circle cx="534.1" cy="489.5"/>
<circle cx="547.5" cy="494.4"/>
<circle cx="574.7" cy="469.7"/>
<circle cx="562.5" cy="481.5"/>
<circle cx="563.8" cy="483.0"/>
<circle cx="546.5" cy="486.8"/>
<circle cx="572.0" cy="474.4"/>
<circle cx="582.0" cy="468.5"/>
<circle cx="561.1" cy="478.7"/>
<circle cx="574.0" cy="470.5"/>
<circle cx="541.6" cy="486.0"/>
<circle cx="548.1" cy="482.7"/>
<circle cx="583.9" cy="467.1"/>
<circle cx="531.4" cy="501.3"/>
<circle cx="575.1" cy="472.8"/>
<circle cx="560.2" cy="473.2"/>
<circle cx="528.9" cy="501.6"/>
<circle cx="548.4" cy="485.3"/>
<circle cx="556.1" cy="488.0"/>
<circle cx="579.5" cy="471.6"/>
<circle cx="539.4" cy="488.7"/>
<circle cx="549.4" cy="482.0"/>
<circle cx="581.3" cy="469.5"/>
<circle cx="551.7" cy="485.0"/>
<circle cx="548.9" cy="489.7"/>
<circle cx="548.6" cy="483.3"/>
<circle cx="522.3" cy="498.1"/>
<circle cx="538.2" cy="495.4"/>
<circle cx="575.4" cy="474.1"/>
<circle cx="577.9" cy="475.3"/>
<circle cx="577.8" cy="472.7"/>
<circle cx="573.4" cy="481.5"/>
<circle cx="571.0" cy="473.0"/>
<circle cx="515.7" cy="506.1"/>
<circle cx="528.2" cy="500.3"/>
<circle cx="533.1" cy="497.1"/>
<circle cx="569.5" cy="476.3"/>
<circle cx="536.7" cy="495.5"/>
<circle cx="556.3" cy="483.7"/>
<circle cx="537.6" cy="495.1"/>
<circle cx="571.4" cy="484.2"/>
<circle cx="577.6" cy="475.7"/>
<circle cx="520.1" cy="500.3"/>
<circle cx="525.3" cy="503.4"/>
<circle cx="566.6" cy="484.3"/>
<circle cx="570.2" cy="488.3"/>
<circle cx="524.4" cy="502.8"/>
<circle cx="564.6" cy="476.7"/>
<circle cx="571.4" cy="484.6"/>
<circle cx="531.7" cy="496.4"/>
<circle cx="549.2" cy="481.9"/>
<circle cx="579.6" cy="470.2"/>
<circle cx="536.5" cy="491.0"/>
<circle cx="554.5" cy="485.0"/>
<circle cx="560.4" cy="481.6"/>
<circle cx="557.6" cy="485.9"/>
<circle cx="539.9" cy="497.3"/>
<circle cx="576.7" cy="475.5"/>
<circle cx="570.7" cy="479.3"/>
<circle cx="572.2" cy="476.6"/>
<circle cx="541.6" cy="489.1"/>
<circle cx="557.2" cy="489.6"/>
<circle cx="535.8" cy="497.8"/>
<circle cx="582.4" cy="468.9"/>
<circle cx="577.6" cy="470.1"/>
<circle cx="575.9" cy="481.4"/>
<circle cx="534.7" cy="493.6"/>
<circle cx="573.3" cy="471.0"/>
<circle cx="535.2" cy="501.4"/>
<circle cx="552.4" cy="486.9"/>
<circle cx="559.5" cy="491.8"/>
<circle cx="550.2" cy="491.0"/>
<circle cx="543.0" cy="491.7"/>
<circle cx="564.8" cy="479.8"/>
<circle cx="564.4" cy="475.6"/>
<circle cx="522.0" cy="502.9"/>
<circle cx="571.6" cy="474.1"/>
<circle cx="525.5" cy="500.8"/>
<circle cx="527.4" cy="500.5"/>
<circle cx="530.3" cy="503.4"/>
<circle cx="549.2" cy="487.9"/>
<circle cx="538.0" cy="497.5"/>
<circle cx="558.9" cy="485.0"/>
<circle cx="543.2" cy="500.1"/>
<circle cx="544.8" cy="495.7"/>
<circle cx="563.7" cy="487.6"/>
<circle cx="564.2" cy="470.8"/>
<circle cx="532.7" cy="500.3"/>
<circle cx="543.7" cy="489.1"/>
<circle cx="529.6" cy="493.5"/>
<circle cx="549.4" cy="485.5"/>
<circle cx="547.5" cy="487.4"/>
<circle cx="550.5" cy="485.7"/>
<circle cx="568.8" cy="480.8"/>
<circle cx="539.9" cy="490.9"/>
<circle cx="543.4" cy="493.1"/>
<circle cx="537.2" cy="497.7"/>
<circle cx="531.5" cy="496.2"/>
<circle cx="533.1" cy="496.6"/>
<circle cx="551.3" cy="488.8"/>
<circle cx="569.4" cy="483.6"/>
<circle cx="541.6" cy="501.3"/>
<circle cx="540.3" cy="494.6"/>
<circle cx="533.9" cy="494.5"/>
<circle cx="551.8" cy="480.6"/>
<circle cx="532.3" cy="495.5"/>
<circle cx="531.6" cy="493.1"/>
<circle cx="572.3" cy="480.4"/>
<circle cx="530.5" cy="501.1"/>
<circle cx="527.2" cy="503.7"/>
<circle cx="556.5" cy="481.5"/>
<circle cx="543.8" cy="494.9"/>
<circle cx="556.7" cy="484.0"/>
<circle cx="545.7" cy="498.2"/>
<circle cx="529.1" cy="498.3"/>
<circle cx="550.6" cy="486.7"/>
<circle cx="524.7" cy="506.7"/>
<circle cx="537.0" cy="492.9"/>
<circle cx="541.6" cy="489.9"/>
<circle cx="563.9" cy="482.0"/>
<circle cx="544.5" cy="500.9"/>
<circle cx="547.4" cy="486.0"/>
<circle cx="558.2" cy="484.3"/>
<circle cx="571.4" cy="469.6"/>
<circle cx="526.4" cy="499.1"/>
<circle cx="577.9" cy="472.6"/>
<circle cx="547.8" cy="488.1"/>
<circle cx="560.2" cy="486.0"/>
<circle cx="573.8" cy="469.3"/>
<circle cx="563.1" cy="484.3"/>
<circle cx="530.8" cy="497.8"/>
<circle cx="521.7" cy="497.9"/>
<circle cx="562.8" cy="478.6"/>
<circle cx="562.9" cy="479.1"/>
<circle cx="519.5" cy="500.7"/>
<circle cx="535.6" cy="499.5"/>
<circle cx="545.7" cy="488.4"/>
<circle cx="584.3" cy="468.7"/>
<circle cx="547.4" cy="490.2"/>
<circle cx="524.5" cy="500.8"/>
<circle cx="522.1" cy="506.6"/>
<circle cx="573.9" cy="469.4"/>
<circle cx="540.9" cy="497.6"/>
<circle cx="535.6" cy="498.2"/>
<circle cx="546.9" cy="489.1"/>
<circle cx="565.7" cy="478.7"/>
<circle cx="575.5" cy="473.0"/>
<circle cx="568.9" cy="475.6"/>
<circle cx="547.0" cy="490.5"/>
<circle cx="534.6" cy="495.7"/>
<circle cx="527.8" cy="497.4"/>
<circle cx="538.5" cy="500.5"/>
<circle cx="526.1" cy="501.6"/>
<circle cx="545.1" cy="489.7"/>
<circle cx="575.1" cy="476.9"/>
<circle cx="541.4" cy="490.9"/>
<circle cx="526.9" cy="496.6"/>
<circle cx="545.7" cy="495.5"/>
<circle cx="538.3" cy="490.6"/>
<circle cx="555.2" cy="493.4"/>
<circle cx="518.2" cy="505.7"/>
<circle cx="520.8" cy="503.6"/>
<circle cx="558.4" cy="482.6"/>
<circle cx="562.1" cy="480.7"/>
<circle cx="558.6" cy="480.3"/>
<circle cx="569.9" cy="483.7"/>
<circle cx="529.4" cy="498.1"/>
<circle cx="568.7" cy="473.9"/>
<circle cx="545.0" cy="496.3"/>
<circle cx="561.8" cy="480.5"/>
<circle cx="558.0" cy="483.5"/>
<circle cx="538.7" cy="494.5"/>
<circle cx="538.9" cy="499.6"/>
<circle cx="580.0" cy="473.8"/>
<circle cx="528.0" cy="496.9"/>
<circle cx="569.2" cy="478.7"/>
<circle cx="527.4" cy="504.0"/>
<circle cx="535.4" cy="500.1"/>
<circle cx="575.1" cy="473.8"/>
<circle cx="562.6" cy="480.5"/>
<circle cx="568.3" cy="484.6"/>
<circle cx="532.9" cy="494.2"/>
<circle cx="573.0" cy="475.3"/>
<circle cx="568.3" cy="482.0"/>
<circle cx="522.7" cy="499.3"/>
<circle cx="572.6" cy="482.0"/>
<circle cx="522.4" cy="503.0"/>
<circle cx="556.5" cy="486.4"/>
<circle cx="541.2" cy="492.8"/>
<circle cx="537.3" cy="489.4"/>
<circle cx="547.4" cy="490.9"/>
<circle cx="567.4" cy="478.9"/>
<circle cx="543.3" cy="483.9"/>
<circle cx="547.9" cy="481.5"/>
<circle cx="551.7" cy="493.7"/>
<circle cx="530.6" cy="491.3"/>
<circle cx="553.8" cy="490.5"/>
<circle cx="552.0" cy="485.8"/>
<circle cx="530.4" cy="494.6"/>
<circle cx="525.9" cy="501.2"/>
<circle cx="530.9" cy="503.4"/>
<circle cx="527.7" cy="504.7"/>
<circle cx="579.7" cy="475.2"/>
<circle cx="569.4" cy="475.5"/>
<circle cx="531.0" cy="503.9"/>
<circle cx="562.0" cy="481.4"/>
<circle cx="568.2" cy="477.5"/>
<circle cx="526.6" cy="496.8"/>
<circle cx="551.6" cy="483.9"/>
<circle cx="541.9" cy="494.5"/>
<circle cx="554.1" cy="483.5"/>
<circle cx="529.5" cy="503.1"/>
<circle cx="522.7" cy="504.0"/>
<circle cx="529.4" cy="498.2"/>
<circle cx="580.8" cy="470.0"/>
<circle cx="535.4" cy="493.9"/>
<circle cx="579.8" cy="470.5"/>
<circle cx="551.6" cy="494.5"/>
<circle cx="555.7" cy="479.3"/>
<circle cx="569.7" cy="479.4"/>
<circle cx="557.2" cy="483.5"/>
<circle cx="564.2" cy="475.7"/>
<circle cx="581.5" cy="476.3"/>
<circle cx="537.4" cy="492.7"/>
<circle cx="538.5" cy="499.0"/>
<circle cx="528.9" cy="509.2"/>
<circle cx="530.7" cy="496.6"/>
<circle cx="579.0" cy="472.9"/>
<circle cx="534.0" cy="496.4"/>
<circle cx="520.5" cy="504.7"/>
<circle cx="526.9" cy="495.9"/>
<circle cx="528.7" cy="499.7"/>
<circle cx="542.5" cy="496.8"/>
<circle cx="521.6" cy="504.5"/>
<circle cx="562.8" cy="487.5"/>
<circle cx="533.4" cy="494.0"/>
<circle cx="525.5" cy="502.2"/>
<circle cx="555.5" cy="485.1"/>
<circle cx="530.3" cy="501.8"/>
<circle cx="543.6" cy="488.5"/>
<circle cx="536.2" cy="496.2"/>
<circle cx="523.3" cy="495.3"/>
<circle cx="556.6" cy="484.3"/>
<circle cx="581.6" cy="470.1"/>
<circle cx="540.2" cy="501.2"/>
<circle cx="571.2" cy="474.5"/>
<circle cx="570.2" cy="474.2"/>
<circle cx="554.9" cy="483.4"/>
<circle cx="543.8" cy="497.9"/>
<circle cx="554.2" cy="483.7"/>
<circle cx="534.4" cy="499.3"/>
<circle cx="565.6" cy="480.2"/>
<circle cx="576.4" cy="472.9"/>
<circle cx="551.9" cy="483.8"/>
<circle cx="556.1" cy="487.4"/>
<circle cx="564.4" cy="476.8"/>
<circle cx="570.0" cy="475.5"/>
<circle cx="531.1" cy="490.2"/>
<circle cx="568.5" cy="474.3"/>
<circle cx="519.4" cy="505.2"/>
<circle cx="546.1" cy="494.6"/>
<circle cx="556.1" cy="489.8"/>
<circle cx="528.4" cy="496.3"/>
<circle cx="568.5" cy="470.4"/>
<circle cx="540.7" cy="495.4"/>
<circle cx="546.5" cy="489.3"/>
<circle cx="545.5" cy="500.3"/>
<circle cx="571.1" cy="475.4"/>
<circle cx="538.9" cy="490.4"/>
<circle cx="546.3" cy="487.4"/>
<circle cx="570.1" cy="476.3"/>
<circle cx="571.0" cy="473.5"/>
<circle cx="570.5" cy="477.1"/>
<circle cx="535.0" cy="490.5"/>
<circle cx="560.7" cy="481.8"/>
<circle cx="532.1" cy="492.2"/>
<circle cx="549.8" cy="487.1"/>
<circle cx="533.3" cy="497.1"/>
<circle cx="577.5" cy="469.7"/>
<circle cx="551.8" cy="488.1"/>
<circle cx="577.8" cy="473.0"/>
<circle cx="580.1" cy="473.8"/>
<circle cx="576.3" cy="478.9"/>
<circle cx="542.1" cy="496.7"/>
<circle cx="562.0" cy="482.3"/>
<circle cx="534.9" cy="496.6"/>
<circle cx="528.9" cy="496.3"/>
<circle cx="561.1" cy="478.3"/>
<circle cx="568.6" cy="475.6"/>
<circle cx="521.6" cy="505.5"/>
<circle cx="540.5" cy="495.3"/>
<circle cx="553.6" cy="477.1"/>
<circle cx="558.6" cy="484.0"/>
<circle cx="546.2" cy="492.8"/>
<circle cx="567.8" cy="473.7"/>
<circle cx="555.9" cy="483.0"/>
<circle cx="561.0" cy="477.8"/>
<circle cx="533.4" cy="494.7"/>
<circle cx="532.7" cy="497.4"/>
<circle cx="542.9" cy="483.5"/>
<circle cx="562.0" cy="483.1"/>
<circle cx="566.9" cy="474.9"/>
<circle cx="581.9" cy="469.3"/>
<circle cx="542.7" cy="493.6"/>
<circle cx="526.5" cy="503.3"/>
<circle cx="545.2" cy="492.2"/>
<circle cx="581.7" cy="469.7"/>
<circle cx="555.2" cy="490.1"/>
<circle cx="521.4" cy="505.0"/>
<circle cx="582.7" cy="470.4"/>
<circle cx="556.1" cy="481.0"/>
<circle cx="522.9" cy="503.9"/>
<circle cx="543.6" cy="497.9"/>
<circle cx="562.8" cy="484.4"/>
<circle cx="536.4" cy="492.6"/>
<circle cx="534.1" cy="501.6"/>
<circle cx="576.2" cy="473.5"/>
<circle cx="525.5" cy="503.3"/>
<circle cx="554.2" cy="484.7"/>
<circle cx="531.6" cy="497.4"/>
<circle cx="555.6" cy="482.9"/>
<circle cx="526.5" cy="504.3"/>
<circle cx="546.6" cy="487.6"/>
<circle cx="556.3" cy="485.7"/>
<circle cx="553.3" cy="485.7"/>
<circle cx="545.5" cy="491.7"/>
<circle cx="561.5" cy="481.5"/>
<circle cx="558.9" cy="479.9"/>
<circle cx="535.4" cy="498.6"/>
<circle cx="585.2" cy="470.4"/>
<circle cx="578.5" cy="476.4"/>
<circle cx="563.9" cy="477.7"/>
<circle cx="534.1" cy="495.6"/>
<circle cx="552.2" cy="485.6"/>
<circle cx="547.4" cy="485.5"/>
<circle cx="525.3" cy="501.9"/>
<circle cx="576.9" cy="471.8"/>
<circle cx="535.8" cy="490.9"/>
<circle cx="577.2" cy="472.0"/>
<circle cx="572.5" cy="473.0"/>
<circle cx="524.8" cy="498.1"/>
<circle cx="554.1" cy="488.3"/>
<circle cx="562.4" cy="474.3"/>
<circle cx="557.7" cy="479.7"/>
<circle cx="539.5" cy="486.8"/>
<circle cx="545.4" cy="499.6"/>
<circle cx="530.9" cy="494.0"/>
<circle cx="534.3" cy="497.4"/>
<circle cx="554.2" cy="484.6"/>
<circle cx="535.4" cy="497.6"/>
<circle cx="560.0" cy="485.1"/>
<circle cx="526.9" cy="506.1"/>
<circle cx="550.2" cy="485.4"/>
<circle cx="554.5" cy="488.2"/>
<circle cx="548.2" cy="480.9"/>
<circle cx="541.9" cy="487.8"/>
<circle cx="543.5" cy="485.5"/>
<circle cx="552.9" cy="490.0"/>
<circle cx="542.0" cy="498.5"/>
<circle cx="522.6" cy="505.1"/>
<circle cx="580.0" cy="471.0"/>
<circle cx="520.2" cy="498.5"/>
<circle cx="582.0" cy="475.0"/>
<circle cx="535.0" cy="495.1"/>
<circle cx="559.3" cy="484.5"/>
<circle cx="541.3" cy="486.5"/>
<circle cx="566.0" cy="478.0"/>
<circle cx="535.6" cy="501.0"/>
<circle cx="540.1" cy="491.1"/>
<circle cx="571.8" cy="475.3"/>
<circle cx="569.4" cy="473.8"/>
<circle cx="539.6" cy="493.6"/>
<circle cx="531.6" cy="497.8"/>
<circle cx="557.6" cy="479.7"/>
<circle cx="525.0" cy="498.9"/>
<circle cx="562.6" cy="475.0"/>
<circle cx="563.0" cy="485.3"/>
<circle cx="570.0" cy="484.0"/>
<circle cx="537.3" cy="499.4"/>
<circle cx="528.1" cy="495.7"/>
<circle cx="567.6" cy="480.1"/>
<circle cx="535.0" cy="491.5"/>
<circle cx="545.6" cy="487.2"/>
<circle cx="529.3" cy="500.6"/>
<circle cx="568.7" cy="474.1"/>
<circle cx="565.8" cy="482.8"/>
<circle cx="556.2" cy="483.3"/>
<circle cx="546.4" cy="489.0"/>
<circle cx="544.1" cy="485.8"/>
<circle cx="541.0" cy="491.1"/>
<circle cx="583.0" cy="471.1"/>
<circle cx="575.4" cy="475.3"/>
<circle cx="545.5" cy="500.0"/>
<circle cx="559.7" cy="478.9"/>
<circle cx="551.8" cy="489.4"/>
<circle cx="558.2" cy="493.2"/>
<circle cx="530.0" cy="500.2"/>
<circle cx="572.7" cy="481.3"/>
</g></g>
<g fill="#800080">
<circle cx="425.3" cy="579.3" r="1.4"/>
<circle cx="436.9" cy="582.7" r="1.4"/>
<circle cx="443.1" cy="576.9" r="1.4"/>
<circle cx="445.6" cy="580.6" r="1.4"/>
<circle cx="448.2" cy="585.3" r="1.4"/>
<circle cx="451.2" cy="581.0" r="1.4"/>
<circle cx="452.5" cy="582.5" r="1.4"/>
<circle cx="454.0" cy="581.6" r="1.4"/>
<circle cx="453.8" cy="549.3" r="1.4"/>
<circle cx="451.9" cy="555.3" r="1.4"/>
<circle cx="448.2" cy="559.4" r="1.4"/>
<circle cx="451.0" cy="563.4" r="1.4"/>
<circle cx="448.8" cy="566.2" r="1.4"/>
<circle cx="455.7" cy="558.5" r="1.4"/>
<circle cx="460.6" cy="555.3" r="1.4"/>
<circle cx="461.5" cy="551.2" r="1.4"/>
<circle cx="460.0" cy="570.9" r="1.4"/>
<circle cx="462.3" cy="568.6" r="1.4"/>
<circle cx="460.0" cy="574.3" r="1.4"/>
<circle cx="465.6" cy="561.9" r="1.4"/>
<circle cx="466.6" cy="564.7" r="1.4"/>
<circle cx="468.4" cy="564.1" r="1.4"/>
<circle cx="470.3" cy="563.4" r="1.4"/>
<circle cx="467.0" cy="576.9" r="1.4"/>
<circle cx="471.3" cy="579.5" r="1.4"/>
<circle cx="473.7" cy="534.3" r="1.4"/>
<circle cx="475.0" cy="548.4" r="1.4"/>
<circle cx="471.3" cy="556.8" r="1.4"/>
<circle cx="473.1" cy="555.3" r="1.4"/>
<circle cx="475.4" cy="554.4" r="1.4"/>
<circle cx="478.8" cy="554.8" r="1.4"/>
<circle cx="474.3" cy="561.3" r="1.4"/>
<circle cx="480.3" cy="543.7" r="1.4"/>
<circle cx="481.6" cy="543.1" r="1.4"/>
<circle cx="483.4" cy="550.6" r="1.4"/>
<circle cx="482.5" cy="562.8" r="1.4"/>
<circle cx="484.4" cy="565.3" r="1.4"/>
<circle cx="486.6" cy="568.4" r="1.4"/>
<circle cx="485.7" cy="544.4" r="1.4"/>
<circle cx="486.3" cy="554.0" r="1.4"/>
<circle cx="489.1" cy="542.6" r="1.4"/>
<circle cx="490.0" cy="552.5" r="1.4"/>
<circle cx="490.9" cy="554.4" r="1.4"/>
<circle cx="492.4" cy="550.3" r="1.4"/>
<circle cx="492.8" cy="540.3" r="1.4"/>
<circle cx="493.4" cy="546.5" r="1.4"/>
<circle cx="495.3" cy="555.9" r="1.4"/>
<circle cx="496.2" cy="558.5" r="1.4"/>
<circle cx="494.7" cy="530.4" r="1.4"/>
<circle cx="501.6" cy="529.4" r="1.4"/>
<circle cx="504.4" cy="548.2" r="1.4"/>
<circle cx="508.4" cy="527.8" r="1.4"/>
<circle cx="512.5" cy="533.2" r="1.4"/>
<circle cx="514.0" cy="518.8" r="1.4"/>
<circle cx="519.4" cy="527.6" r="1.4"/>
<circle cx="521.3" cy="517.8" r="1.4"/>
<circle cx="529.0" cy="506.6" r="1.4"/>
<circle cx="531.6" cy="513.5" r="1.4"/>
</g>
<rect x="415.9" y="438.3" width="207.7" height="154.0" fill="none" stroke="#8a8a8a" stroke-width="1.1"/>
<line x1="413.8" y1="462.7" x2="416" y2="462.7" stroke="#8a8a8a" stroke-width="0.9"/>
<text x="400.0" y="465.3" font-size="7.30" fill="#333" text-anchor="start" textLength="11.2" lengthAdjust="spacingAndGlyphs" stroke="#333" stroke-width="0.3">0.5</text>
<line x1="413.8" y1="492.3" x2="416" y2="492.3" stroke="#8a8a8a" stroke-width="0.9"/>
<text x="400.0" y="494.9" font-size="7.30" fill="#333" text-anchor="start" textLength="11.2" lengthAdjust="spacingAndGlyphs" stroke="#333" stroke-width="0.3">0.0</text>
<line x1="413.8" y1="521.9" x2="416" y2="521.9" stroke="#8a8a8a" stroke-width="0.9"/>
<text x="393.2" y="524.5" font-size="7.30" fill="#333" text-anchor="start" textLength="18.0" lengthAdjust="spacingAndGlyphs" stroke="#333" stroke-width="0.3">−0.5</text>
<line x1="413.8" y1="551.5" x2="416" y2="551.5" stroke="#8a8a8a" stroke-width="0.9"/>
<text x="393.2" y="554.1" font-size="7.30" fill="#333" text-anchor="start" textLength="18.0" lengthAdjust="spacingAndGlyphs" stroke="#333" stroke-width="0.3">−1.0</text>
<line x1="413.8" y1="581.1" x2="416" y2="581.1" stroke="#8a8a8a" stroke-width="0.9"/>
<text x="393.2" y="583.7" font-size="7.30" fill="#333" text-anchor="start" textLength="18.0" lengthAdjust="spacingAndGlyphs" stroke="#333" stroke-width="0.3">−1.5</text>
<line x1="432.2" y1="592.3" x2="432.2" y2="594.5" stroke="#8a8a8a" stroke-width="0.9"/>
<text x="427.0" y="602.1" font-size="7.30" fill="#333" text-anchor="start" textLength="10.4" lengthAdjust="spacingAndGlyphs" stroke="#333" stroke-width="0.3">−6</text>
<line x1="469.1" y1="592.3" x2="469.1" y2="594.5" stroke="#8a8a8a" stroke-width="0.9"/>
<text x="463.9" y="602.1" font-size="7.30" fill="#333" text-anchor="start" textLength="10.4" lengthAdjust="spacingAndGlyphs" stroke="#333" stroke-width="0.3">−4</text>
<line x1="506.1" y1="592.3" x2="506.1" y2="594.5" stroke="#8a8a8a" stroke-width="0.9"/>
<text x="500.9" y="602.1" font-size="7.30" fill="#333" text-anchor="start" textLength="10.4" lengthAdjust="spacingAndGlyphs" stroke="#333" stroke-width="0.3">−2</text>
<line x1="543.0" y1="592.3" x2="543.0" y2="594.5" stroke="#8a8a8a" stroke-width="0.9"/>
<text x="540.7" y="602.1" font-size="7.30" fill="#333" text-anchor="start" textLength="4.6" lengthAdjust="spacingAndGlyphs" stroke="#333" stroke-width="0.3">0</text>
<line x1="579.9" y1="592.3" x2="579.9" y2="594.5" stroke="#8a8a8a" stroke-width="0.9"/>
<text x="577.6" y="602.1" font-size="7.30" fill="#333" text-anchor="start" textLength="4.6" lengthAdjust="spacingAndGlyphs" stroke="#333" stroke-width="0.3">2</text>
<line x1="616.9" y1="592.3" x2="616.9" y2="594.5" stroke="#8a8a8a" stroke-width="0.9"/>
<text x="614.6" y="602.1" font-size="7.30" fill="#333" text-anchor="start" textLength="4.6" lengthAdjust="spacingAndGlyphs" stroke="#333" stroke-width="0.3">4</text>
<text x="501.2" y="612.3" font-size="8.20" fill="#333" text-anchor="start" textLength="36.3" lengthAdjust="spacingAndGlyphs" stroke="#333" stroke-width="0.2">Feature 1</text>
<text transform="translate(388.9 515.4) rotate(-90)" font-size="8.4" fill="#333" stroke="#333" stroke-width="0.2" text-anchor="middle" textLength="35.2" lengthAdjust="spacingAndGlyphs">Feature 2</text>
</g>
</svg></body></html>
